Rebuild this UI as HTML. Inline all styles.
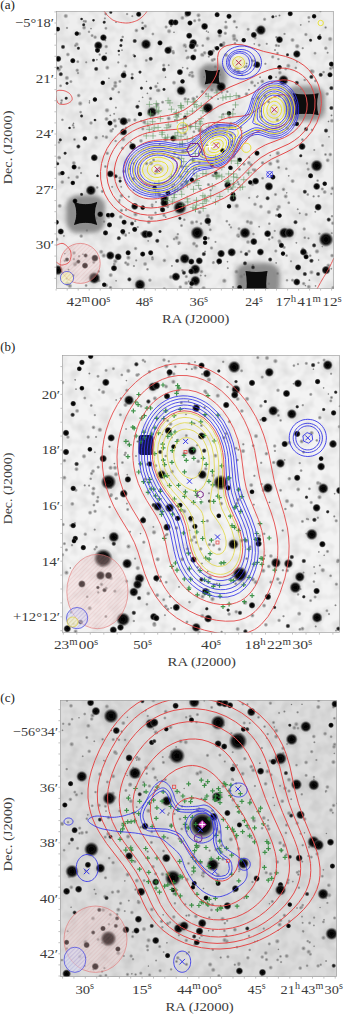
<!DOCTYPE html>
<html><head><meta charset="utf-8"><style>
html,body{margin:0;padding:0;background:#fff;width:350px;height:1018px;overflow:hidden}
svg{display:block;font-family:"Liberation Serif", serif}
</style></head><body>
<svg width="350" height="1018" viewBox="0 0 350 1018">
<defs>
<radialGradient id="sg"><stop offset="0" stop-color="#000"/><stop offset="0.55" stop-color="#0c0c0c"/><stop offset="0.72" stop-color="#333" stop-opacity="0.85"/><stop offset="1" stop-color="#777" stop-opacity="0"/></radialGradient>
<radialGradient id="sgb"><stop offset="0" stop-color="#000"/><stop offset="0.45" stop-color="#111"/><stop offset="0.7" stop-color="#444" stop-opacity="0.8"/><stop offset="1" stop-color="#888" stop-opacity="0"/></radialGradient>
<radialGradient id="sgs"><stop offset="0" stop-color="#1a1a1a"/><stop offset="0.4" stop-color="#2a2a2a"/><stop offset="0.7" stop-color="#555" stop-opacity="0.7"/><stop offset="1" stop-color="#888" stop-opacity="0"/></radialGradient>
<radialGradient id="hg"><stop offset="0" stop-color="#777"/><stop offset="0.5" stop-color="#999" stop-opacity="0.6"/><stop offset="1" stop-color="#bbb" stop-opacity="0"/></radialGradient>
<radialGradient id="fg"><stop offset="0" stop-color="#777"/><stop offset="0.5" stop-color="#999" stop-opacity="0.8"/><stop offset="1" stop-color="#bbb" stop-opacity="0"/></radialGradient>
<filter id="pb" x="0" y="0" width="100%" height="100%"><feGaussianBlur stdDeviation="0.45"/></filter>
<filter id="soft" x="-20%" y="-20%" width="140%" height="140%"><feGaussianBlur stdDeviation="0.55"/></filter>
<filter id="halo" x="-50%" y="-50%" width="200%" height="200%"><feGaussianBlur stdDeviation="2.2"/></filter>
<filter id="mottle" x="0" y="0" width="100%" height="100%">
 <feTurbulence type="fractalNoise" baseFrequency="0.09" numOctaves="2" seed="3"/>
 <feColorMatrix type="matrix" values="0 0 0 0 0  0 0 0 0 0  0 0 0 0 0  0 0 0 -0.9 0.55"/>
</filter>
<pattern id="hatchR" width="3" height="3" patternUnits="userSpaceOnUse" patternTransform="rotate(45)">
 <rect width="3" height="3" fill="#f0c8c8" fill-opacity="0.32"/><line x1="0" y1="0" x2="0" y2="3" stroke="#c06060" stroke-width="0.6" stroke-opacity="0.35"/></pattern>
<pattern id="hatchB" width="3" height="3" patternUnits="userSpaceOnUse" patternTransform="rotate(45)">
 <rect width="3" height="3" fill="#d8d8f3" fill-opacity="0.5"/><line x1="0" y1="0" x2="0" y2="3" stroke="#7070d0" stroke-width="0.7" stroke-opacity="0.6"/></pattern>
<pattern id="hatchY" width="3" height="3" patternUnits="userSpaceOnUse" patternTransform="rotate(45)">
 <rect width="3" height="3" fill="#f3f0c0" fill-opacity="0.6"/><line x1="0" y1="0" x2="0" y2="3" stroke="#d0c040" stroke-width="0.7" stroke-opacity="0.7"/></pattern>
<clipPath id="cpa"><rect x="56" y="11" width="278" height="278"/></clipPath>
<clipPath id="cpb"><rect x="62" y="355" width="278" height="278"/></clipPath>
<clipPath id="cpc"><rect x="60" y="700" width="277" height="277"/></clipPath>
</defs>
<g clip-path="url(#cpa)"><g filter="url(#pb)">
<rect x="56" y="11" width="278" height="278" fill="#eeeeee"/>
<rect x="56" y="11" width="278" height="278" filter="url(#mottle)" opacity="0.18"/>
<circle cx="181.8" cy="166.6" r="2.76" fill="url(#fg)"/><circle cx="185.5" cy="152.2" r="2.22" fill="url(#fg)"/><circle cx="107.3" cy="153.3" r="2.29" fill="url(#fg)"/><circle cx="276.4" cy="37.2" r="1.77" fill="url(#fg)"/><circle cx="81.2" cy="236.1" r="2.39" fill="url(#fg)"/><circle cx="67.6" cy="284.0" r="2.82" fill="url(#fg)"/><circle cx="237.8" cy="182.1" r="1.53" fill="url(#fg)"/><circle cx="60.2" cy="157.9" r="1.38" fill="url(#fg)"/><circle cx="108.9" cy="78.3" r="1.33" fill="url(#fg)"/><circle cx="185.0" cy="133.5" r="2.63" fill="url(#fg)"/><circle cx="200.3" cy="189.0" r="2.08" fill="url(#fg)"/><circle cx="240.2" cy="138.1" r="1.73" fill="url(#fg)"/><circle cx="333.3" cy="287.8" r="2.62" fill="url(#fg)"/><circle cx="252.8" cy="98.6" r="1.65" fill="url(#fg)"/><circle cx="136.4" cy="30.5" r="2.51" fill="url(#fg)"/><circle cx="167.3" cy="246.4" r="1.90" fill="url(#fg)"/><circle cx="322.3" cy="246.6" r="1.28" fill="url(#fg)"/><circle cx="114.3" cy="264.1" r="2.03" fill="url(#fg)"/><circle cx="328.5" cy="121.5" r="1.40" fill="url(#fg)"/><circle cx="231.0" cy="227.4" r="1.71" fill="url(#fg)"/><circle cx="80.2" cy="103.5" r="2.82" fill="url(#fg)"/><circle cx="266.7" cy="43.8" r="1.67" fill="url(#fg)"/><circle cx="84.1" cy="27.7" r="2.56" fill="url(#fg)"/><circle cx="105.4" cy="166.5" r="2.00" fill="url(#fg)"/><circle cx="109.0" cy="214.5" r="1.49" fill="url(#fg)"/><circle cx="235.0" cy="43.4" r="1.95" fill="url(#fg)"/><circle cx="115.2" cy="86.0" r="2.83" fill="url(#fg)"/><circle cx="279.3" cy="95.6" r="2.70" fill="url(#fg)"/><circle cx="114.6" cy="120.6" r="2.65" fill="url(#fg)"/><circle cx="234.4" cy="38.9" r="2.86" fill="url(#fg)"/><circle cx="115.3" cy="82.8" r="2.52" fill="url(#fg)"/><circle cx="147.4" cy="93.4" r="1.40" fill="url(#fg)"/><circle cx="81.1" cy="173.0" r="1.67" fill="url(#fg)"/><circle cx="223.2" cy="114.3" r="2.01" fill="url(#fg)"/><circle cx="322.6" cy="145.5" r="2.20" fill="url(#fg)"/><circle cx="296.9" cy="61.8" r="1.53" fill="url(#fg)"/><circle cx="308.5" cy="238.3" r="1.68" fill="url(#fg)"/><circle cx="108.8" cy="216.6" r="2.78" fill="url(#fg)"/><circle cx="110.7" cy="275.1" r="2.69" fill="url(#fg)"/><circle cx="223.8" cy="128.2" r="1.45" fill="url(#fg)"/><circle cx="66.8" cy="278.6" r="1.66" fill="url(#fg)"/><circle cx="251.9" cy="82.4" r="2.60" fill="url(#fg)"/><circle cx="221.8" cy="92.6" r="1.56" fill="url(#fg)"/><circle cx="256.3" cy="30.1" r="1.65" fill="url(#fg)"/><circle cx="211.5" cy="248.0" r="2.26" fill="url(#fg)"/><circle cx="133.9" cy="266.0" r="1.61" fill="url(#fg)"/><circle cx="60.6" cy="85.8" r="1.99" fill="url(#fg)"/><circle cx="72.8" cy="60.0" r="1.87" fill="url(#fg)"/><circle cx="215.1" cy="47.6" r="1.86" fill="url(#fg)"/><circle cx="303.7" cy="283.6" r="2.33" fill="url(#fg)"/><circle cx="248.2" cy="173.5" r="1.50" fill="url(#fg)"/><circle cx="65.8" cy="16.0" r="2.74" fill="url(#fg)"/><circle cx="250.9" cy="278.7" r="1.31" fill="url(#fg)"/><circle cx="232.9" cy="145.1" r="2.45" fill="url(#fg)"/><circle cx="144.7" cy="288.8" r="1.40" fill="url(#fg)"/><circle cx="207.8" cy="215.9" r="2.72" fill="url(#fg)"/><circle cx="260.9" cy="206.6" r="2.55" fill="url(#fg)"/><circle cx="310.4" cy="108.8" r="2.38" fill="url(#fg)"/><circle cx="306.4" cy="253.2" r="1.95" fill="url(#fg)"/><circle cx="275.8" cy="251.0" r="2.20" fill="url(#fg)"/><circle cx="229.7" cy="117.3" r="2.21" fill="url(#fg)"/><circle cx="225.3" cy="33.3" r="2.30" fill="url(#fg)"/><circle cx="332.1" cy="255.6" r="2.45" fill="url(#fg)"/><circle cx="164.0" cy="215.3" r="2.21" fill="url(#fg)"/><circle cx="178.5" cy="244.1" r="1.41" fill="url(#fg)"/><circle cx="264.6" cy="19.3" r="2.24" fill="url(#fg)"/><circle cx="189.7" cy="75.0" r="2.40" fill="url(#fg)"/><circle cx="194.2" cy="181.8" r="2.75" fill="url(#fg)"/><circle cx="127.1" cy="14.1" r="1.76" fill="url(#fg)"/><circle cx="244.5" cy="67.3" r="1.55" fill="url(#fg)"/><circle cx="307.8" cy="194.5" r="1.99" fill="url(#fg)"/><circle cx="303.9" cy="101.9" r="2.35" fill="url(#fg)"/><circle cx="111.2" cy="130.8" r="2.57" fill="url(#fg)"/><circle cx="310.2" cy="255.7" r="1.90" fill="url(#fg)"/><circle cx="218.1" cy="99.0" r="1.50" fill="url(#fg)"/><circle cx="194.0" cy="243.7" r="2.64" fill="url(#fg)"/><circle cx="253.7" cy="275.1" r="1.72" fill="url(#fg)"/><circle cx="103.0" cy="136.3" r="1.72" fill="url(#fg)"/><circle cx="115.5" cy="126.1" r="2.28" fill="url(#fg)"/><circle cx="193.3" cy="98.7" r="2.62" fill="url(#fg)"/><circle cx="329.0" cy="136.8" r="1.40" fill="url(#fg)"/><circle cx="64.8" cy="253.6" r="1.35" fill="url(#fg)"/><circle cx="253.0" cy="169.6" r="1.77" fill="url(#fg)"/><circle cx="276.0" cy="16.3" r="1.50" fill="url(#fg)"/><circle cx="182.4" cy="17.9" r="2.61" fill="url(#fg)"/><circle cx="122.0" cy="50.2" r="1.36" fill="url(#fg)"/><circle cx="230.9" cy="135.1" r="2.29" fill="url(#fg)"/><circle cx="238.1" cy="235.5" r="2.81" fill="url(#fg)"/><circle cx="246.3" cy="66.4" r="2.04" fill="url(#fg)"/><circle cx="105.7" cy="14.0" r="2.04" fill="url(#fg)"/><circle cx="254.5" cy="60.8" r="1.72" fill="url(#fg)"/><circle cx="152.1" cy="204.9" r="2.11" fill="url(#fg)"/><circle cx="226.8" cy="221.2" r="1.91" fill="url(#fg)"/><circle cx="276.2" cy="262.9" r="1.42" fill="url(#fg)"/><circle cx="315.3" cy="211.8" r="1.49" fill="url(#fg)"/><circle cx="182.1" cy="184.9" r="2.74" fill="url(#fg)"/><circle cx="160.8" cy="169.1" r="2.69" fill="url(#fg)"/><circle cx="277.5" cy="273.5" r="2.02" fill="url(#fg)"/><circle cx="237.1" cy="68.0" r="2.44" fill="url(#fg)"/><circle cx="283.5" cy="189.4" r="2.43" fill="url(#fg)"/><circle cx="115.3" cy="261.2" r="2.85" fill="url(#fg)"/><circle cx="327.7" cy="160.3" r="2.55" fill="url(#fg)"/><circle cx="145.1" cy="264.0" r="2.65" fill="url(#fg)"/><circle cx="152.9" cy="34.0" r="1.99" fill="url(#fg)"/><circle cx="209.0" cy="224.6" r="2.06" fill="url(#fg)"/><circle cx="63.9" cy="235.9" r="1.38" fill="url(#fg)"/><circle cx="278.4" cy="59.1" r="1.82" fill="url(#fg)"/><circle cx="275.0" cy="50.1" r="1.52" fill="url(#fg)"/><circle cx="199.6" cy="212.2" r="2.62" fill="url(#fg)"/><circle cx="247.6" cy="273.9" r="2.07" fill="url(#fg)"/><circle cx="319.9" cy="34.9" r="1.63" fill="url(#fg)"/><circle cx="202.4" cy="91.7" r="2.45" fill="url(#fg)"/><circle cx="233.6" cy="156.3" r="2.63" fill="url(#fg)"/><circle cx="211.7" cy="97.7" r="1.89" fill="url(#fg)"/><circle cx="291.0" cy="261.3" r="1.61" fill="url(#fg)"/><circle cx="292.5" cy="280.2" r="2.12" fill="url(#fg)"/><circle cx="215.3" cy="66.9" r="2.14" fill="url(#fg)"/><circle cx="195.9" cy="179.3" r="1.32" fill="url(#fg)"/><circle cx="325.5" cy="154.5" r="1.92" fill="url(#fg)"/><circle cx="278.7" cy="167.5" r="2.07" fill="url(#fg)"/><circle cx="248.1" cy="29.3" r="2.14" fill="url(#fg)"/><circle cx="171.0" cy="277.0" r="2.76" fill="url(#fg)"/><circle cx="130.8" cy="142.5" r="1.48" fill="url(#fg)"/><circle cx="176.6" cy="237.8" r="2.72" fill="url(#fg)"/><circle cx="188.5" cy="99.2" r="1.59" fill="url(#fg)"/><circle cx="227.8" cy="268.2" r="1.49" fill="url(#fg)"/><circle cx="272.6" cy="17.3" r="1.59" fill="url(#fg)"/><circle cx="119.2" cy="202.0" r="1.80" fill="url(#fg)"/><circle cx="154.8" cy="183.3" r="1.45" fill="url(#fg)"/><circle cx="259.2" cy="45.1" r="2.10" fill="url(#fg)"/><circle cx="125.7" cy="66.0" r="2.13" fill="url(#fg)"/><circle cx="177.4" cy="115.5" r="1.94" fill="url(#fg)"/><circle cx="203.2" cy="55.4" r="1.61" fill="url(#fg)"/><circle cx="231.5" cy="188.5" r="2.13" fill="url(#fg)"/><circle cx="292.6" cy="181.1" r="2.65" fill="url(#fg)"/><circle cx="120.7" cy="216.9" r="2.58" fill="url(#fg)"/><circle cx="306.9" cy="98.8" r="1.78" fill="url(#fg)"/><circle cx="312.5" cy="71.6" r="2.88" fill="url(#fg)"/><circle cx="302.7" cy="48.2" r="1.66" fill="url(#fg)"/><circle cx="258.0" cy="83.1" r="1.44" fill="url(#fg)"/><circle cx="287.3" cy="128.2" r="2.54" fill="url(#fg)"/><circle cx="91.0" cy="123.0" r="2.38" fill="url(#fg)"/><circle cx="60.9" cy="66.9" r="2.37" fill="url(#fg)"/><circle cx="309.4" cy="280.2" r="1.46" fill="url(#fg)"/><circle cx="196.6" cy="221.8" r="2.08" fill="url(#fg)"/><circle cx="246.6" cy="63.5" r="1.39" fill="url(#fg)"/><circle cx="85.5" cy="21.4" r="2.16" fill="url(#fg)"/><circle cx="199.1" cy="169.1" r="1.51" fill="url(#fg)"/><circle cx="107.3" cy="67.7" r="2.62" fill="url(#fg)"/><circle cx="331.3" cy="268.7" r="1.43" fill="url(#fg)"/><circle cx="73.2" cy="275.5" r="2.02" fill="url(#fg)"/><circle cx="268.6" cy="101.9" r="2.03" fill="url(#fg)"/><circle cx="199.2" cy="130.6" r="2.24" fill="url(#fg)"/><circle cx="59.7" cy="205.9" r="2.63" fill="url(#fg)"/><circle cx="106.4" cy="137.2" r="2.46" fill="url(#fg)"/><circle cx="168.7" cy="65.2" r="1.54" fill="url(#fg)"/><circle cx="198.5" cy="15.3" r="2.71" fill="url(#fg)"/><circle cx="278.9" cy="206.9" r="2.66" fill="url(#fg)"/><circle cx="231.0" cy="123.5" r="2.24" fill="url(#fg)"/><circle cx="196.2" cy="284.2" r="2.57" fill="url(#fg)"/><circle cx="127.8" cy="264.3" r="2.47" fill="url(#fg)"/><circle cx="272.3" cy="237.5" r="1.93" fill="url(#fg)"/><circle cx="305.2" cy="255.6" r="2.39" fill="url(#fg)"/><circle cx="269.3" cy="223.7" r="1.93" fill="url(#fg)"/><circle cx="256.9" cy="30.6" r="1.83" fill="url(#fg)"/><circle cx="186.3" cy="13.9" r="1.85" fill="url(#fg)"/><circle cx="233.6" cy="184.5" r="1.65" fill="url(#fg)"/><circle cx="318.6" cy="196.2" r="1.82" fill="url(#fg)"/><circle cx="239.4" cy="169.3" r="2.13" fill="url(#fg)"/><circle cx="164.3" cy="289.0" r="2.31" fill="url(#fg)"/><circle cx="250.9" cy="222.8" r="2.85" fill="url(#fg)"/><circle cx="62.3" cy="182.1" r="2.46" fill="url(#fg)"/><circle cx="127.3" cy="122.6" r="1.36" fill="url(#fg)"/><circle cx="110.3" cy="115.4" r="1.44" fill="url(#fg)"/><circle cx="125.7" cy="262.8" r="2.16" fill="url(#fg)"/><circle cx="197.2" cy="279.9" r="2.19" fill="url(#fg)"/><circle cx="332.6" cy="188.4" r="2.58" fill="url(#fg)"/><circle cx="77.2" cy="177.1" r="2.49" fill="url(#fg)"/><circle cx="68.5" cy="269.6" r="1.54" fill="url(#fg)"/><circle cx="187.1" cy="58.0" r="2.07" fill="url(#fg)"/><circle cx="225.9" cy="27.3" r="2.79" fill="url(#fg)"/><circle cx="173.0" cy="157.4" r="2.24" fill="url(#fg)"/><circle cx="157.6" cy="90.4" r="2.33" fill="url(#fg)"/><circle cx="211.9" cy="89.8" r="2.43" fill="url(#fg)"/><circle cx="138.3" cy="14.9" r="1.67" fill="url(#fg)"/><circle cx="67.9" cy="54.5" r="2.49" fill="url(#fg)"/><circle cx="164.4" cy="260.5" r="2.48" fill="url(#fg)"/><circle cx="69.9" cy="285.9" r="2.79" fill="url(#fg)"/><circle cx="76.4" cy="262.7" r="1.97" fill="url(#fg)"/><circle cx="188.8" cy="281.5" r="1.67" fill="url(#fg)"/><circle cx="201.5" cy="271.6" r="2.44" fill="url(#fg)"/><circle cx="186.2" cy="283.1" r="2.59" fill="url(#fg)"/><circle cx="223.8" cy="43.0" r="2.28" fill="url(#fg)"/><circle cx="182.7" cy="67.6" r="1.36" fill="url(#fg)"/><circle cx="202.8" cy="45.6" r="1.99" fill="url(#fg)"/><circle cx="241.7" cy="137.6" r="1.70" fill="url(#fg)"/><circle cx="217.9" cy="127.6" r="2.52" fill="url(#fg)"/><circle cx="203.6" cy="288.3" r="2.80" fill="url(#fg)"/><circle cx="260.1" cy="77.3" r="1.46" fill="url(#fg)"/><circle cx="304.2" cy="229.0" r="2.28" fill="url(#fg)"/><circle cx="155.9" cy="86.5" r="2.38" fill="url(#fg)"/><circle cx="213.0" cy="175.5" r="2.29" fill="url(#fg)"/><circle cx="265.4" cy="63.8" r="1.68" fill="url(#fg)"/><circle cx="328.4" cy="265.6" r="2.69" fill="url(#fg)"/><circle cx="67.0" cy="27.9" r="1.71" fill="url(#fg)"/><circle cx="174.2" cy="184.3" r="1.44" fill="url(#fg)"/><circle cx="206.6" cy="31.2" r="1.42" fill="url(#fg)"/><circle cx="244.0" cy="164.1" r="2.29" fill="url(#fg)"/><circle cx="159.7" cy="144.0" r="1.62" fill="url(#fg)"/><circle cx="151.5" cy="218.1" r="2.62" fill="url(#fg)"/><circle cx="76.7" cy="44.3" r="2.57" fill="url(#fg)"/><circle cx="229.4" cy="224.7" r="1.62" fill="url(#fg)"/><circle cx="174.0" cy="82.7" r="2.58" fill="url(#fg)"/><circle cx="158.6" cy="192.7" r="2.86" fill="url(#fg)"/><circle cx="146.5" cy="163.5" r="2.47" fill="url(#fg)"/><circle cx="312.0" cy="129.9" r="1.87" fill="url(#fg)"/><circle cx="83.0" cy="254.3" r="1.41" fill="url(#fg)"/><circle cx="79.1" cy="167.9" r="2.06" fill="url(#fg)"/><circle cx="246.5" cy="94.1" r="2.52" fill="url(#fg)"/><circle cx="77.2" cy="70.3" r="2.34" fill="url(#fg)"/><circle cx="78.7" cy="95.5" r="2.44" fill="url(#fg)"/><circle cx="248.9" cy="89.7" r="1.51" fill="url(#fg)"/><circle cx="155.5" cy="212.8" r="1.87" fill="url(#fg)"/><circle cx="88.6" cy="208.2" r="2.19" fill="url(#fg)"/><circle cx="311.4" cy="272.3" r="2.74" fill="url(#fg)"/><circle cx="177.8" cy="234.2" r="1.77" fill="url(#fg)"/><circle cx="144.3" cy="122.1" r="2.78" fill="url(#fg)"/><circle cx="304.7" cy="80.0" r="1.86" fill="url(#fg)"/><circle cx="157.6" cy="112.0" r="1.91" fill="url(#fg)"/><circle cx="163.7" cy="65.2" r="2.18" fill="url(#fg)"/><circle cx="277.6" cy="161.3" r="2.62" fill="url(#fg)"/><circle cx="212.5" cy="60.1" r="2.49" fill="url(#fg)"/><circle cx="300.9" cy="89.2" r="1.32" fill="url(#fg)"/><circle cx="199.3" cy="162.3" r="2.19" fill="url(#fg)"/><circle cx="324.7" cy="192.0" r="2.57" fill="url(#fg)"/><circle cx="73.8" cy="163.0" r="2.54" fill="url(#fg)"/><circle cx="79.4" cy="33.7" r="2.46" fill="url(#fg)"/><circle cx="305.9" cy="34.5" r="2.29" fill="url(#fg)"/><circle cx="96.0" cy="218.3" r="2.32" fill="url(#fg)"/><circle cx="124.2" cy="72.3" r="2.50" fill="url(#fg)"/><circle cx="201.0" cy="223.6" r="1.91" fill="url(#fg)"/><circle cx="149.9" cy="280.2" r="2.36" fill="url(#fg)"/><circle cx="193.2" cy="160.4" r="2.43" fill="url(#fg)"/><circle cx="252.9" cy="265.4" r="1.94" fill="url(#fg)"/><circle cx="285.7" cy="196.4" r="2.65" fill="url(#fg)"/><circle cx="280.0" cy="242.8" r="2.70" fill="url(#fg)"/><circle cx="322.3" cy="189.0" r="2.12" fill="url(#fg)"/><circle cx="253.4" cy="234.0" r="1.95" fill="url(#fg)"/><circle cx="172.9" cy="51.6" r="2.47" fill="url(#fg)"/><circle cx="331.5" cy="115.4" r="1.55" fill="url(#fg)"/><circle cx="112.8" cy="129.1" r="1.75" fill="url(#fg)"/><circle cx="325.6" cy="27.5" r="1.77" fill="url(#fg)"/><circle cx="87.9" cy="191.1" r="2.52" fill="url(#fg)"/><circle cx="105.9" cy="28.3" r="2.01" fill="url(#fg)"/><circle cx="218.4" cy="263.8" r="1.34" fill="url(#fg)"/><circle cx="86.2" cy="62.3" r="1.63" fill="url(#fg)"/><circle cx="121.4" cy="210.4" r="2.23" fill="url(#fg)"/><circle cx="118.3" cy="62.4" r="1.73" fill="url(#fg)"/><circle cx="104.0" cy="221.6" r="1.78" fill="url(#fg)"/><circle cx="208.4" cy="238.2" r="2.05" fill="url(#fg)"/><circle cx="128.4" cy="257.7" r="2.74" fill="url(#fg)"/><circle cx="151.1" cy="163.2" r="2.81" fill="url(#fg)"/><circle cx="190.2" cy="72.4" r="1.36" fill="url(#fg)"/><circle cx="319.4" cy="233.8" r="1.90" fill="url(#fg)"/><circle cx="202.7" cy="154.4" r="1.72" fill="url(#fg)"/><circle cx="331.3" cy="193.8" r="1.66" fill="url(#fg)"/><circle cx="59.0" cy="142.4" r="1.87" fill="url(#fg)"/><circle cx="277.5" cy="209.3" r="2.25" fill="url(#fg)"/><circle cx="99.7" cy="54.6" r="1.79" fill="url(#fg)"/><circle cx="128.1" cy="252.7" r="2.11" fill="url(#fg)"/><circle cx="233.1" cy="287.1" r="1.71" fill="url(#fg)"/><circle cx="204.6" cy="52.9" r="2.51" fill="url(#fg)"/><circle cx="56.4" cy="239.4" r="2.63" fill="url(#fg)"/><circle cx="284.5" cy="33.9" r="1.71" fill="url(#fg)"/><circle cx="255.2" cy="38.0" r="2.05" fill="url(#fg)"/><circle cx="186.3" cy="276.6" r="2.22" fill="url(#fg)"/><circle cx="294.3" cy="95.4" r="2.54" fill="url(#fg)"/><circle cx="171.9" cy="265.9" r="1.43" fill="url(#fg)"/><circle cx="285.7" cy="68.9" r="2.15" fill="url(#fg)"/><circle cx="202.1" cy="54.8" r="2.61" fill="url(#fg)"/><circle cx="142.6" cy="97.4" r="1.40" fill="url(#fg)"/><circle cx="141.0" cy="140.9" r="2.42" fill="url(#fg)"/><circle cx="156.0" cy="202.0" r="1.45" fill="url(#fg)"/><circle cx="165.6" cy="139.4" r="2.83" fill="url(#fg)"/><circle cx="286.7" cy="192.8" r="1.30" fill="url(#fg)"/><circle cx="160.8" cy="208.4" r="1.66" fill="url(#fg)"/><circle cx="212.8" cy="138.3" r="1.30" fill="url(#fg)"/><circle cx="331.7" cy="233.2" r="1.61" fill="url(#fg)"/><circle cx="227.3" cy="91.7" r="1.88" fill="url(#fg)"/><circle cx="206.1" cy="93.9" r="1.82" fill="url(#fg)"/><circle cx="165.0" cy="196.3" r="1.69" fill="url(#fg)"/><circle cx="111.6" cy="214.3" r="1.81" fill="url(#fg)"/><circle cx="318.7" cy="167.5" r="2.44" fill="url(#fg)"/><circle cx="148.2" cy="240.9" r="1.43" fill="url(#fg)"/><circle cx="95.1" cy="37.2" r="2.36" fill="url(#fg)"/><circle cx="252.9" cy="61.0" r="1.92" fill="url(#fg)"/><circle cx="288.7" cy="175.8" r="1.42" fill="url(#fg)"/><circle cx="119.0" cy="54.7" r="1.48" fill="url(#fg)"/><circle cx="169.1" cy="31.2" r="2.75" fill="url(#fg)"/><circle cx="174.7" cy="153.2" r="2.32" fill="url(#fg)"/><circle cx="269.2" cy="239.3" r="1.90" fill="url(#fg)"/><circle cx="148.1" cy="125.6" r="1.30" fill="url(#fg)"/><circle cx="167.4" cy="205.6" r="2.85" fill="url(#fg)"/><circle cx="275.5" cy="194.5" r="2.25" fill="url(#fg)"/><circle cx="61.2" cy="103.0" r="1.83" fill="url(#fg)"/><circle cx="236.9" cy="40.5" r="1.88" fill="url(#fg)"/><circle cx="197.6" cy="230.2" r="2.60" fill="url(#fg)"/><circle cx="226.0" cy="55.0" r="2.51" fill="url(#fg)"/><circle cx="307.0" cy="163.4" r="1.84" fill="url(#fg)"/><circle cx="195.1" cy="50.4" r="2.42" fill="url(#fg)"/><circle cx="330.3" cy="154.5" r="2.42" fill="url(#fg)"/><circle cx="288.3" cy="65.8" r="2.79" fill="url(#fg)"/><circle cx="230.3" cy="66.0" r="1.41" fill="url(#fg)"/><circle cx="124.0" cy="171.3" r="2.40" fill="url(#fg)"/><circle cx="147.5" cy="269.3" r="1.86" fill="url(#fg)"/><circle cx="184.7" cy="45.5" r="2.84" fill="url(#fg)"/><circle cx="93.7" cy="262.3" r="2.15" fill="url(#fg)"/><circle cx="211.9" cy="166.8" r="1.70" fill="url(#fg)"/><circle cx="308.8" cy="286.8" r="2.59" fill="url(#fg)"/><circle cx="223.2" cy="45.1" r="2.60" fill="url(#fg)"/><circle cx="136.2" cy="260.4" r="1.67" fill="url(#fg)"/><circle cx="215.5" cy="241.9" r="1.58" fill="url(#fg)"/><circle cx="208.3" cy="32.2" r="1.33" fill="url(#fg)"/><circle cx="106.1" cy="285.4" r="2.78" fill="url(#fg)"/><circle cx="239.0" cy="96.5" r="2.35" fill="url(#fg)"/><circle cx="261.1" cy="117.1" r="2.23" fill="url(#fg)"/><circle cx="279.5" cy="15.5" r="1.60" fill="url(#fg)"/><circle cx="186.1" cy="50.8" r="1.90" fill="url(#fg)"/><circle cx="214.3" cy="59.3" r="2.11" fill="url(#fg)"/><circle cx="129.3" cy="168.9" r="1.81" fill="url(#fg)"/><circle cx="234.4" cy="21.5" r="2.35" fill="url(#fg)"/><circle cx="96.2" cy="277.7" r="2.24" fill="url(#fg)"/><circle cx="186.6" cy="125.4" r="2.28" fill="url(#fg)"/><circle cx="247.6" cy="221.7" r="2.48" fill="url(#fg)"/><circle cx="191.0" cy="287.5" r="2.62" fill="url(#fg)"/><circle cx="293.7" cy="124.7" r="1.97" fill="url(#fg)"/><circle cx="213.3" cy="262.7" r="2.12" fill="url(#fg)"/><circle cx="202.0" cy="131.2" r="2.73" fill="url(#fg)"/><circle cx="145.2" cy="26.2" r="2.44" fill="url(#fg)"/><circle cx="306.2" cy="214.5" r="2.24" fill="url(#fg)"/><circle cx="265.0" cy="95.7" r="2.23" fill="url(#fg)"/><circle cx="75.4" cy="45.6" r="2.00" fill="url(#fg)"/><circle cx="195.7" cy="121.3" r="1.36" fill="url(#fg)"/><circle cx="249.2" cy="157.3" r="1.66" fill="url(#fg)"/><circle cx="141.2" cy="121.0" r="1.66" fill="url(#fg)"/><circle cx="75.0" cy="264.3" r="2.83" fill="url(#fg)"/><circle cx="241.1" cy="251.9" r="1.95" fill="url(#fg)"/><circle cx="279.9" cy="72.7" r="2.47" fill="url(#fg)"/><circle cx="213.6" cy="262.1" r="1.44" fill="url(#fg)"/><circle cx="276.3" cy="45.4" r="2.14" fill="url(#fg)"/><circle cx="320.4" cy="11.2" r="1.67" fill="url(#fg)"/><circle cx="139.2" cy="101.3" r="1.38" fill="url(#fg)"/><circle cx="304.8" cy="237.7" r="1.92" fill="url(#fg)"/><circle cx="155.1" cy="173.8" r="1.35" fill="url(#fg)"/><circle cx="64.7" cy="260.8" r="1.77" fill="url(#fg)"/><circle cx="194.6" cy="270.6" r="2.84" fill="url(#fg)"/><circle cx="187.4" cy="68.4" r="1.75" fill="url(#fg)"/><circle cx="312.5" cy="260.3" r="1.59" fill="url(#fg)"/><circle cx="288.9" cy="109.5" r="2.04" fill="url(#fg)"/><circle cx="103.8" cy="255.6" r="2.87" fill="url(#fg)"/><circle cx="112.2" cy="186.8" r="1.59" fill="url(#fg)"/><circle cx="300.7" cy="24.9" r="1.45" fill="url(#fg)"/><circle cx="257.8" cy="98.0" r="2.72" fill="url(#fg)"/><circle cx="297.7" cy="209.3" r="1.50" fill="url(#fg)"/><circle cx="249.5" cy="271.7" r="1.99" fill="url(#fg)"/><circle cx="78.0" cy="73.1" r="1.77" fill="url(#fg)"/><circle cx="253.5" cy="65.6" r="1.57" fill="url(#fg)"/><circle cx="121.5" cy="195.8" r="2.54" fill="url(#fg)"/><circle cx="159.6" cy="195.0" r="2.70" fill="url(#fg)"/><circle cx="220.0" cy="74.7" r="1.76" fill="url(#fg)"/><circle cx="313.6" cy="196.4" r="1.72" fill="url(#fg)"/><circle cx="233.9" cy="36.0" r="2.85" fill="url(#fg)"/><circle cx="178.4" cy="157.9" r="2.13" fill="url(#fg)"/><circle cx="68.6" cy="177.7" r="1.74" fill="url(#fg)"/><circle cx="125.8" cy="234.3" r="1.42" fill="url(#fg)"/><circle cx="135.3" cy="221.1" r="1.67" fill="url(#fg)"/><circle cx="133.6" cy="163.4" r="1.58" fill="url(#fg)"/><circle cx="305.4" cy="285.6" r="1.33" fill="url(#fg)"/><circle cx="184.3" cy="219.7" r="1.90" fill="url(#fg)"/><circle cx="314.3" cy="150.0" r="1.57" fill="url(#fg)"/><circle cx="210.6" cy="190.3" r="1.86" fill="url(#fg)"/><circle cx="239.0" cy="228.7" r="2.11" fill="url(#fg)"/><circle cx="196.6" cy="246.0" r="2.37" fill="url(#fg)"/><circle cx="200.7" cy="275.5" r="1.56" fill="url(#fg)"/><circle cx="272.7" cy="56.9" r="2.25" fill="url(#fg)"/><circle cx="121.4" cy="133.4" r="2.52" fill="url(#fg)"/><circle cx="274.7" cy="230.9" r="1.66" fill="url(#fg)"/><circle cx="192.0" cy="72.5" r="2.21" fill="url(#fg)"/><circle cx="194.7" cy="20.8" r="2.23" fill="url(#fg)"/><circle cx="254.7" cy="170.2" r="2.68" fill="url(#fg)"/><circle cx="106.1" cy="53.2" r="1.31" fill="url(#fg)"/><circle cx="193.9" cy="131.8" r="1.99" fill="url(#fg)"/><circle cx="129.1" cy="233.0" r="1.40" fill="url(#fg)"/><circle cx="308.2" cy="169.2" r="2.15" fill="url(#fg)"/><circle cx="276.1" cy="77.2" r="1.51" fill="url(#fg)"/><circle cx="142.5" cy="22.8" r="1.78" fill="url(#fg)"/><circle cx="228.7" cy="157.1" r="1.70" fill="url(#fg)"/><circle cx="219.7" cy="35.6" r="2.59" fill="url(#fg)"/><circle cx="103.7" cy="81.8" r="1.54" fill="url(#fg)"/><circle cx="248.0" cy="242.0" r="2.54" fill="url(#fg)"/><circle cx="73.0" cy="125.2" r="1.86" fill="url(#fg)"/><circle cx="116.1" cy="280.8" r="1.35" fill="url(#fg)"/><circle cx="192.1" cy="222.6" r="2.86" fill="url(#fg)"/><circle cx="96.2" cy="137.6" r="2.47" fill="url(#fg)"/><circle cx="66.9" cy="77.9" r="2.70" fill="url(#fg)"/><circle cx="95.4" cy="120.2" r="1.76" fill="url(#fg)"/><circle cx="174.0" cy="32.3" r="1.33" fill="url(#fg)"/><circle cx="332.9" cy="223.2" r="2.45" fill="url(#fg)"/><circle cx="119.9" cy="81.4" r="2.16" fill="url(#fg)"/><circle cx="123.2" cy="139.3" r="2.77" fill="url(#fg)"/><circle cx="157.2" cy="104.7" r="2.85" fill="url(#fg)"/><circle cx="225.8" cy="22.0" r="1.92" fill="url(#fg)"/><circle cx="236.6" cy="27.3" r="1.83" fill="url(#fg)"/><circle cx="249.1" cy="251.3" r="2.23" fill="url(#fg)"/><circle cx="302.4" cy="139.6" r="1.91" fill="url(#fg)"/><circle cx="290.4" cy="117.0" r="2.53" fill="url(#fg)"/><circle cx="115.9" cy="107.6" r="1.57" fill="url(#fg)"/><circle cx="208.8" cy="56.6" r="1.61" fill="url(#fg)"/><circle cx="115.6" cy="141.0" r="1.77" fill="url(#fg)"/><circle cx="180.3" cy="287.1" r="2.37" fill="url(#fg)"/><circle cx="295.8" cy="67.9" r="1.89" fill="url(#fg)"/><circle cx="76.2" cy="203.2" r="1.86" fill="url(#fg)"/><circle cx="132.3" cy="16.2" r="1.57" fill="url(#fg)"/><circle cx="128.9" cy="120.2" r="2.76" fill="url(#fg)"/><circle cx="254.8" cy="85.7" r="1.86" fill="url(#fg)"/><circle cx="98.7" cy="271.4" r="1.86" fill="url(#fg)"/><circle cx="268.9" cy="212.1" r="2.73" fill="url(#fg)"/><circle cx="61.7" cy="100.5" r="1.90" fill="url(#fg)"/><circle cx="79.1" cy="256.3" r="1.80" fill="url(#fg)"/><circle cx="270.3" cy="155.4" r="1.37" fill="url(#fg)"/><circle cx="165.5" cy="77.2" r="1.35" fill="url(#fg)"/><circle cx="97.9" cy="176.5" r="1.33" fill="url(#fg)"/><circle cx="142.8" cy="128.9" r="2.15" fill="url(#fg)"/><circle cx="93.8" cy="207.4" r="1.70" fill="url(#fg)"/><circle cx="257.7" cy="196.2" r="1.52" fill="url(#fg)"/><circle cx="112.9" cy="88.9" r="2.42" fill="url(#fg)"/><circle cx="168.7" cy="118.4" r="2.67" fill="url(#fg)"/><circle cx="118.8" cy="92.2" r="1.83" fill="url(#fg)"/><circle cx="116.0" cy="22.3" r="1.32" fill="url(#fg)"/><circle cx="231.2" cy="168.3" r="2.57" fill="url(#fg)"/><circle cx="327.2" cy="93.9" r="2.35" fill="url(#fg)"/><circle cx="311.5" cy="71.1" r="2.38" fill="url(#fg)"/><circle cx="241.3" cy="276.5" r="2.67" fill="url(#fg)"/><circle cx="121.2" cy="186.8" r="1.42" fill="url(#fg)"/><circle cx="174.9" cy="120.1" r="1.38" fill="url(#fg)"/><circle cx="162.6" cy="102.2" r="2.08" fill="url(#fg)"/><circle cx="133.8" cy="55.1" r="1.92" fill="url(#fg)"/><circle cx="188.1" cy="57.3" r="2.34" fill="url(#fg)"/><circle cx="122.7" cy="36.9" r="1.83" fill="url(#fg)"/><circle cx="173.4" cy="52.9" r="2.21" fill="url(#fg)"/><circle cx="251.0" cy="164.8" r="2.40" fill="url(#fg)"/><circle cx="62.4" cy="119.8" r="1.86" fill="url(#fg)"/><circle cx="73.5" cy="123.4" r="1.37" fill="url(#fg)"/><circle cx="193.8" cy="173.9" r="2.03" fill="url(#fg)"/><circle cx="146.5" cy="81.4" r="1.32" fill="url(#fg)"/><circle cx="152.5" cy="258.9" r="2.19" fill="url(#fg)"/><circle cx="128.8" cy="196.7" r="1.58" fill="url(#fg)"/><circle cx="186.5" cy="182.0" r="2.81" fill="url(#fg)"/><circle cx="156.8" cy="171.2" r="2.79" fill="url(#fg)"/><circle cx="270.5" cy="185.4" r="2.27" fill="url(#fg)"/><circle cx="170.2" cy="126.5" r="1.72" fill="url(#fg)"/><circle cx="286.6" cy="255.6" r="1.89" fill="url(#fg)"/><circle cx="308.9" cy="21.6" r="1.50" fill="url(#fg)"/><circle cx="197.0" cy="96.8" r="1.86" fill="url(#fg)"/><circle cx="327.6" cy="52.7" r="1.59" fill="url(#fg)"/><circle cx="119.5" cy="200.1" r="1.66" fill="url(#fg)"/><circle cx="56.3" cy="162.2" r="1.91" fill="url(#fg)"/><circle cx="122.5" cy="148.2" r="2.32" fill="url(#fg)"/><circle cx="208.4" cy="184.6" r="2.18" fill="url(#fg)"/><circle cx="287.0" cy="280.3" r="1.81" fill="url(#fg)"/><circle cx="152.4" cy="257.4" r="1.78" fill="url(#fg)"/><circle cx="255.0" cy="204.3" r="2.38" fill="url(#fg)"/><circle cx="324.0" cy="240.2" r="1.54" fill="url(#fg)"/><circle cx="228.8" cy="147.4" r="2.18" fill="url(#fg)"/><circle cx="158.7" cy="90.4" r="2.48" fill="url(#fg)"/><circle cx="204.4" cy="76.9" r="1.68" fill="url(#fg)"/><circle cx="146.3" cy="60.4" r="2.10" fill="url(#fg)"/><circle cx="91.0" cy="28.6" r="1.39" fill="url(#fg)"/><circle cx="84.4" cy="206.9" r="1.46" fill="url(#fg)"/><circle cx="181.5" cy="225.6" r="2.05" fill="url(#fg)"/><circle cx="101.2" cy="251.8" r="2.67" fill="url(#fg)"/><circle cx="70.9" cy="81.6" r="2.09" fill="url(#fg)"/><circle cx="277.4" cy="120.1" r="2.43" fill="url(#fg)"/><circle cx="126.0" cy="210.0" r="1.80" fill="url(#fg)"/><circle cx="148.8" cy="222.1" r="2.63" fill="url(#fg)"/><circle cx="286.3" cy="168.8" r="1.95" fill="url(#fg)"/><circle cx="252.5" cy="184.2" r="2.61" fill="url(#fg)"/><circle cx="278.7" cy="45.8" r="1.88" fill="url(#fg)"/><circle cx="242.1" cy="75.2" r="1.58" fill="url(#fg)"/><circle cx="59.8" cy="173.8" r="2.79" fill="url(#fg)"/><circle cx="325.8" cy="48.2" r="2.38" fill="url(#fg)"/><circle cx="172.6" cy="186.5" r="1.91" fill="url(#fg)"/><circle cx="315.5" cy="285.9" r="1.36" fill="url(#fg)"/><circle cx="254.3" cy="43.9" r="1.35" fill="url(#fg)"/><circle cx="135.5" cy="214.3" r="2.87" fill="url(#fg)"/><circle cx="89.4" cy="102.8" r="1.32" fill="url(#fg)"/><circle cx="206.8" cy="145.3" r="1.88" fill="url(#fg)"/><circle cx="142.0" cy="233.5" r="2.62" fill="url(#fg)"/><circle cx="134.9" cy="119.9" r="2.27" fill="url(#fg)"/><circle cx="268.8" cy="283.7" r="1.90" fill="url(#fg)"/><circle cx="248.9" cy="162.8" r="2.56" fill="url(#fg)"/><circle cx="96.8" cy="59.7" r="1.45" fill="url(#fg)"/><circle cx="315.5" cy="80.9" r="2.06" fill="url(#fg)"/><circle cx="89.5" cy="101.0" r="1.31" fill="url(#fg)"/><circle cx="213.3" cy="50.9" r="2.28" fill="url(#fg)"/><circle cx="132.2" cy="74.3" r="2.05" fill="url(#fg)"/><circle cx="157.7" cy="83.2" r="1.36" fill="url(#fg)"/><circle cx="73.9" cy="259.2" r="1.77" fill="url(#fg)"/><circle cx="77.8" cy="61.7" r="2.05" fill="url(#fg)"/><circle cx="333.2" cy="67.2" r="2.67" fill="url(#fg)"/><circle cx="190.6" cy="126.3" r="2.57" fill="url(#fg)"/><circle cx="166.1" cy="27.0" r="2.16" fill="url(#fg)"/><circle cx="238.6" cy="184.2" r="1.72" fill="url(#fg)"/><circle cx="317.0" cy="251.4" r="2.87" fill="url(#fg)"/><circle cx="179.2" cy="242.8" r="2.44" fill="url(#fg)"/><circle cx="104.9" cy="18.4" r="1.55" fill="url(#fg)"/><circle cx="89.0" cy="31.8" r="1.85" fill="url(#fg)"/><circle cx="265.5" cy="97.2" r="2.10" fill="url(#fg)"/><circle cx="58.9" cy="69.4" r="2.81" fill="url(#fg)"/><circle cx="59.1" cy="157.6" r="2.58" fill="url(#fg)"/><circle cx="276.3" cy="215.4" r="1.92" fill="url(#fg)"/><circle cx="279.3" cy="241.1" r="2.51" fill="url(#fg)"/><circle cx="330.1" cy="39.0" r="2.80" fill="url(#fg)"/><circle cx="167.8" cy="207.1" r="1.68" fill="url(#fg)"/><circle cx="308.9" cy="17.5" r="2.20" fill="url(#fg)"/><circle cx="119.2" cy="119.0" r="1.87" fill="url(#fg)"/><circle cx="238.6" cy="236.4" r="1.86" fill="url(#fg)"/><circle cx="233.4" cy="109.4" r="1.73" fill="url(#fg)"/><circle cx="307.6" cy="100.4" r="1.43" fill="url(#fg)"/><circle cx="149.1" cy="217.2" r="1.62" fill="url(#fg)"/><circle cx="262.6" cy="162.9" r="2.37" fill="url(#fg)"/><circle cx="105.3" cy="40.4" r="1.51" fill="url(#fg)"/><circle cx="153.4" cy="130.7" r="1.30" fill="url(#fg)"/><circle cx="195.7" cy="123.1" r="1.79" fill="url(#fg)"/><circle cx="205.3" cy="275.7" r="1.61" fill="url(#fg)"/><circle cx="300.8" cy="100.2" r="2.49" fill="url(#fg)"/><circle cx="86.1" cy="285.5" r="1.97" fill="url(#fg)"/><circle cx="323.6" cy="72.1" r="1.93" fill="url(#fg)"/><circle cx="252.3" cy="60.4" r="1.72" fill="url(#fg)"/><circle cx="244.3" cy="274.5" r="1.80" fill="url(#fg)"/><circle cx="107.0" cy="110.3" r="2.86" fill="url(#fg)"/><circle cx="97.2" cy="187.5" r="1.88" fill="url(#fg)"/><circle cx="235.0" cy="70.0" r="2.27" fill="url(#fg)"/><circle cx="302.8" cy="249.1" r="2.29" fill="url(#fg)"/><circle cx="196.3" cy="168.8" r="1.46" fill="url(#fg)"/><circle cx="288.8" cy="202.8" r="2.01" fill="url(#fg)"/><circle cx="241.0" cy="127.6" r="1.90" fill="url(#fg)"/><circle cx="119.9" cy="178.0" r="2.20" fill="url(#fg)"/><circle cx="199.2" cy="20.0" r="2.28" fill="url(#fg)"/><circle cx="180.2" cy="176.0" r="2.23" fill="url(#fg)"/><circle cx="315.0" cy="53.2" r="2.03" fill="url(#fg)"/><circle cx="332.0" cy="216.2" r="1.78" fill="url(#fg)"/><circle cx="260.8" cy="286.1" r="1.92" fill="url(#fg)"/><circle cx="297.2" cy="46.2" r="2.86" fill="url(#fg)"/><circle cx="192.5" cy="76.1" r="2.62" fill="url(#fg)"/><circle cx="236.5" cy="271.7" r="2.61" fill="url(#fg)"/><circle cx="277.8" cy="153.2" r="2.87" fill="url(#fg)"/><circle cx="74.0" cy="252.9" r="2.42" fill="url(#fg)"/><circle cx="125.7" cy="235.4" r="2.01" fill="url(#fg)"/><circle cx="205.1" cy="251.6" r="1.59" fill="url(#fg)"/><circle cx="133.7" cy="190.0" r="1.40" fill="url(#fg)"/><circle cx="210.3" cy="229.8" r="2.07" fill="url(#fg)"/><circle cx="123.2" cy="233.4" r="2.65" fill="url(#fg)"/><circle cx="270.3" cy="163.7" r="2.73" fill="url(#fg)"/><circle cx="277.5" cy="53.2" r="1.87" fill="url(#fg)"/><circle cx="83.9" cy="21.2" r="1.83" fill="url(#fg)"/><circle cx="296.4" cy="242.8" r="1.47" fill="url(#fg)"/><circle cx="106.5" cy="119.0" r="2.64" fill="url(#fg)"/><circle cx="227.5" cy="261.7" r="1.40" fill="url(#fg)"/><circle cx="330.6" cy="68.5" r="2.29" fill="url(#fg)"/><circle cx="299.7" cy="213.3" r="1.60" fill="url(#fg)"/><circle cx="241.8" cy="130.8" r="1.30" fill="url(#fg)"/><circle cx="150.4" cy="98.7" r="2.29" fill="url(#fg)"/><circle cx="133.4" cy="178.7" r="2.39" fill="url(#fg)"/><circle cx="106.2" cy="46.6" r="2.39" fill="url(#fg)"/><circle cx="185.7" cy="46.9" r="1.47" fill="url(#fg)"/><circle cx="317.6" cy="180.6" r="1.85" fill="url(#fg)"/><circle cx="110.5" cy="287.6" r="2.39" fill="url(#fg)"/><circle cx="260.7" cy="111.2" r="1.78" fill="url(#fg)"/><circle cx="169.5" cy="51.7" r="2.29" fill="url(#fg)"/><circle cx="174.1" cy="239.0" r="1.93" fill="url(#fg)"/><circle cx="183.0" cy="151.8" r="2.79" fill="url(#fg)"/><circle cx="152.3" cy="206.6" r="1.66" fill="url(#fg)"/><circle cx="217.0" cy="90.2" r="2.68" fill="url(#fg)"/><circle cx="135.6" cy="248.5" r="2.36" fill="url(#fg)"/><circle cx="182.5" cy="270.6" r="1.90" fill="url(#fg)"/><circle cx="262.6" cy="178.2" r="2.00" fill="url(#fg)"/><circle cx="73.8" cy="127.5" r="1.73" fill="url(#fg)"/><circle cx="178.6" cy="276.4" r="1.75" fill="url(#fg)"/><circle cx="249.2" cy="197.8" r="1.67" fill="url(#fg)"/><circle cx="170.4" cy="47.7" r="2.71" fill="url(#fg)"/><circle cx="126.0" cy="127.9" r="1.83" fill="url(#fg)"/><circle cx="284.1" cy="247.4" r="2.23" fill="url(#fg)"/><circle cx="207.8" cy="38.6" r="2.71" fill="url(#fg)"/><circle cx="80.6" cy="112.1" r="1.88" fill="url(#fg)"/><circle cx="257.0" cy="197.0" r="1.83" fill="url(#fg)"/><circle cx="305.6" cy="275.0" r="1.32" fill="url(#fg)"/><circle cx="232.0" cy="141.4" r="1.86" fill="url(#fg)"/><circle cx="185.2" cy="98.9" r="2.35" fill="url(#fg)"/><circle cx="224.3" cy="280.8" r="2.84" fill="url(#fg)"/><circle cx="331.9" cy="120.8" r="2.61" fill="url(#fg)"/><circle cx="236.7" cy="205.9" r="2.88" fill="url(#fg)"/><circle cx="74.5" cy="139.5" r="1.92" fill="url(#fg)"/><circle cx="238.4" cy="71.6" r="2.86" fill="url(#fg)"/><circle cx="114.2" cy="113.8" r="1.51" fill="url(#fg)"/><circle cx="165.7" cy="217.2" r="1.41" fill="url(#fg)"/><circle cx="102.4" cy="191.4" r="2.28" fill="url(#fg)"/><circle cx="262.3" cy="81.4" r="2.58" fill="url(#fg)"/><circle cx="259.2" cy="226.7" r="1.47" fill="url(#fg)"/><circle cx="186.3" cy="15.4" r="2.66" fill="url(#fg)"/><circle cx="318.6" cy="260.0" r="1.32" fill="url(#fg)"/><circle cx="153.6" cy="160.0" r="2.13" fill="url(#fg)"/><circle cx="86.9" cy="230.4" r="1.76" fill="url(#fg)"/><circle cx="197.0" cy="45.6" r="2.19" fill="url(#fg)"/><circle cx="92.1" cy="35.6" r="2.10" fill="url(#fg)"/><circle cx="137.7" cy="227.1" r="1.67" fill="url(#fg)"/><circle cx="171.1" cy="26.1" r="1.63" fill="url(#fg)"/><circle cx="181.6" cy="166.2" r="2.02" fill="url(#fg)"/><circle cx="292.5" cy="40.0" r="2.64" fill="url(#fg)"/><circle cx="99.0" cy="280.7" r="2.12" fill="url(#fg)"/>
<g filter="url(#halo)" fill="#777" opacity="0.8"><rect x="66" y="195" width="39" height="38" rx="12"/><rect x="236" y="263" width="44" height="34" rx="12"/><rect x="285" y="86" width="40" height="35" rx="12"/><rect x="199" y="64" width="27" height="26" rx="9"/></g>
<circle cx="146" cy="44.2" r="8.5" fill="url(#hg)" opacity="0.55"/><circle cx="221.1" cy="86.7" r="8.5" fill="url(#hg)" opacity="0.55"/><circle cx="181.2" cy="90.7" r="8.0" fill="url(#hg)" opacity="0.55"/><circle cx="260.9" cy="30.1" r="8.5" fill="url(#hg)" opacity="0.55"/><circle cx="283.5" cy="80.1" r="8.5" fill="url(#hg)" opacity="0.55"/><circle cx="90.9" cy="190.4" r="8.5" fill="url(#hg)" opacity="0.55"/><circle cx="152" cy="112" r="8.5" fill="url(#hg)" opacity="0.55"/><circle cx="207.8" cy="108" r="9.2" fill="url(#hg)" opacity="0.55"/><circle cx="316.7" cy="165.7" r="9.9" fill="url(#hg)" opacity="0.55"/><circle cx="94.3" cy="278" r="9.9" fill="url(#hg)" opacity="0.55"/><circle cx="57.7" cy="270.1" r="8.5" fill="url(#hg)" opacity="0.55"/><circle cx="140" cy="284.7" r="9.2" fill="url(#hg)" opacity="0.55"/><circle cx="179.9" cy="207.6" r="11.0" fill="url(#hg)" opacity="0.55"/><circle cx="197.2" cy="232.9" r="11.0" fill="url(#hg)" opacity="0.55"/><circle cx="184.7" cy="258.7" r="8.5" fill="url(#hg)" opacity="0.55"/><circle cx="195.3" cy="269.3" r="8.5" fill="url(#hg)" opacity="0.55"/><circle cx="195.3" cy="280.7" r="8.5" fill="url(#hg)" opacity="0.55"/><circle cx="245" cy="232.9" r="9.2" fill="url(#hg)" opacity="0.55"/><circle cx="284.5" cy="232.9" r="9.2" fill="url(#hg)" opacity="0.55"/><circle cx="289.5" cy="232.9" r="8.3" fill="url(#hg)" opacity="0.55"/><circle cx="326" cy="239.5" r="12.2" fill="url(#hg)" opacity="0.55"/>
<circle cx="57.7" cy="29.1" r="2.90" fill="url(#sg)"/><circle cx="76.8" cy="33.6" r="2.75" fill="url(#sg)"/><circle cx="83.7" cy="24.8" r="2.07" fill="url(#sgs)"/><circle cx="81.6" cy="19" r="1.75" fill="url(#sgs)"/><circle cx="104.2" cy="22.2" r="2.07" fill="url(#sgs)"/><circle cx="93.5" cy="20.3" r="1.75" fill="url(#sgs)"/><circle cx="138.7" cy="14.2" r="3.04" fill="url(#sg)"/><circle cx="110.8" cy="12.3" r="2.07" fill="url(#sgs)"/><circle cx="142.7" cy="28.3" r="2.07" fill="url(#sgs)"/><circle cx="103.4" cy="37.6" r="3.77" fill="url(#sg)"/><circle cx="98.3" cy="45.5" r="4.64" fill="url(#sg)"/><circle cx="97.5" cy="50.3" r="3.04" fill="url(#sg)"/><circle cx="121.4" cy="40.2" r="2.07" fill="url(#sgs)"/><circle cx="120.9" cy="45.5" r="2.07" fill="url(#sgs)"/><circle cx="134.7" cy="41" r="2.55" fill="url(#sgs)"/><circle cx="146" cy="44.2" r="5.37" fill="url(#sg)"/><circle cx="63" cy="46.9" r="2.55" fill="url(#sgs)"/><circle cx="78.4" cy="48.2" r="2.07" fill="url(#sgs)"/><circle cx="58.2" cy="58.8" r="3.48" fill="url(#sg)"/><circle cx="72.8" cy="60.7" r="3.04" fill="url(#sg)"/><circle cx="104.2" cy="58.3" r="3.48" fill="url(#sg)"/><circle cx="93.5" cy="60.2" r="2.07" fill="url(#sgs)"/><circle cx="118.8" cy="50.9" r="1.75" fill="url(#sgs)"/><circle cx="134.7" cy="56.2" r="1.75" fill="url(#sgs)"/><circle cx="57.7" cy="68.1" r="2.07" fill="url(#sgs)"/><circle cx="96.2" cy="68.9" r="2.55" fill="url(#sgs)"/><circle cx="60.8" cy="74.2" r="2.55" fill="url(#sgs)"/><circle cx="123.6" cy="75.3" r="3.48" fill="url(#sg)"/><circle cx="132.1" cy="78" r="2.07" fill="url(#sgs)"/><circle cx="140" cy="72.1" r="2.07" fill="url(#sgs)"/><circle cx="102.8" cy="82.8" r="2.75" fill="url(#sg)"/><circle cx="67" cy="83.3" r="2.07" fill="url(#sgs)"/><circle cx="66.2" cy="98.2" r="2.07" fill="url(#sgs)"/><circle cx="94.9" cy="99.5" r="2.75" fill="url(#sg)"/><circle cx="110.8" cy="98.7" r="2.07" fill="url(#sgs)"/><circle cx="141.4" cy="88.1" r="2.07" fill="url(#sgs)"/><circle cx="187.9" cy="13.1" r="3.92" fill="url(#sg)"/><circle cx="171.5" cy="22.4" r="3.77" fill="url(#sg)"/><circle cx="175.5" cy="22.4" r="3.48" fill="url(#sg)"/><circle cx="190" cy="23" r="3.04" fill="url(#sg)"/><circle cx="204.6" cy="26.4" r="3.92" fill="url(#sg)"/><circle cx="217.1" cy="14.7" r="3.04" fill="url(#sg)"/><circle cx="229" cy="16.3" r="3.04" fill="url(#sg)"/><circle cx="219.8" cy="31.7" r="3.04" fill="url(#sg)"/><circle cx="189.2" cy="35.7" r="3.48" fill="url(#sg)"/><circle cx="160" cy="42.9" r="3.04" fill="url(#sg)"/><circle cx="193.2" cy="42.9" r="4.35" fill="url(#sg)"/><circle cx="192" cy="46" r="3.77" fill="url(#sg)"/><circle cx="168" cy="50.3" r="4.21" fill="url(#sg)"/><circle cx="210.5" cy="53" r="3.48" fill="url(#sg)"/><circle cx="193.2" cy="57.5" r="3.48" fill="url(#sg)"/><circle cx="221.1" cy="45" r="2.55" fill="url(#sgs)"/><circle cx="217.1" cy="48.2" r="2.75" fill="url(#sg)"/><circle cx="150.7" cy="58.8" r="2.55" fill="url(#sgs)"/><circle cx="164" cy="69.5" r="2.55" fill="url(#sgs)"/><circle cx="179.9" cy="72.1" r="3.48" fill="url(#sg)"/><circle cx="182.5" cy="81.4" r="2.75" fill="url(#sg)"/><circle cx="221.1" cy="86.7" r="5.37" fill="url(#sg)"/><circle cx="181.2" cy="90.7" r="5.08" fill="url(#sg)"/><circle cx="150.7" cy="88.1" r="2.07" fill="url(#sgs)"/><circle cx="164" cy="89.4" r="2.07" fill="url(#sgs)"/><circle cx="290.2" cy="13.7" r="3.04" fill="url(#sg)"/><circle cx="272.9" cy="16.8" r="2.07" fill="url(#sgs)"/><circle cx="260.9" cy="30.1" r="5.37" fill="url(#sg)"/><circle cx="253.8" cy="34.9" r="3.48" fill="url(#sg)"/><circle cx="279.5" cy="39.7" r="3.92" fill="url(#sg)"/><circle cx="243.7" cy="40.2" r="2.75" fill="url(#sg)"/><circle cx="296.8" cy="54" r="4.21" fill="url(#sg)"/><circle cx="314.1" cy="16.3" r="2.75" fill="url(#sg)"/><circle cx="319.4" cy="37.6" r="2.75" fill="url(#sg)"/><circle cx="331.4" cy="64.1" r="3.04" fill="url(#sg)"/><circle cx="330" cy="74.8" r="3.04" fill="url(#sg)"/><circle cx="320.7" cy="74.8" r="2.55" fill="url(#sgs)"/><circle cx="310.6" cy="40.2" r="2.07" fill="url(#sgs)"/><circle cx="287.5" cy="54.8" r="2.07" fill="url(#sgs)"/><circle cx="279.5" cy="67.3" r="2.75" fill="url(#sg)"/><circle cx="257" cy="64.7" r="3.92" fill="url(#sg)"/><circle cx="283.5" cy="80.1" r="5.37" fill="url(#sg)"/><circle cx="270.2" cy="77.4" r="2.75" fill="url(#sg)"/><circle cx="296.8" cy="82.8" r="2.55" fill="url(#sgs)"/><circle cx="311.4" cy="76.9" r="2.55" fill="url(#sgs)"/><circle cx="331.4" cy="88.1" r="2.55" fill="url(#sgs)"/><circle cx="123.6" cy="121.3" r="4.64" fill="url(#sg)"/><circle cx="123.6" cy="131.9" r="3.92" fill="url(#sg)"/><circle cx="110" cy="123.1" r="3.04" fill="url(#sg)"/><circle cx="140" cy="114.1" r="2.75" fill="url(#sg)"/><circle cx="137.4" cy="106.7" r="2.55" fill="url(#sgs)"/><circle cx="81.6" cy="116" r="2.07" fill="url(#sgs)"/><circle cx="84.8" cy="138.5" r="2.75" fill="url(#sg)"/><circle cx="78.4" cy="146.5" r="2.55" fill="url(#sgs)"/><circle cx="60.3" cy="139.9" r="2.07" fill="url(#sgs)"/><circle cx="65.1" cy="153.2" r="2.07" fill="url(#sgs)"/><circle cx="94.3" cy="157.7" r="3.92" fill="url(#sg)"/><circle cx="132.6" cy="146.5" r="3.92" fill="url(#sg)"/><circle cx="74.1" cy="167" r="3.04" fill="url(#sg)"/><circle cx="57.7" cy="163.8" r="2.07" fill="url(#sgs)"/><circle cx="62.4" cy="173.1" r="2.75" fill="url(#sg)"/><circle cx="110.3" cy="173.9" r="3.92" fill="url(#sg)"/><circle cx="115.6" cy="176.3" r="2.55" fill="url(#sgs)"/><circle cx="72.8" cy="182.9" r="2.75" fill="url(#sg)"/><circle cx="90.9" cy="190.4" r="5.37" fill="url(#sg)"/><circle cx="81.6" cy="194.4" r="2.07" fill="url(#sgs)"/><circle cx="120.1" cy="181.1" r="2.07" fill="url(#sgs)"/><circle cx="97.5" cy="175.8" r="1.75" fill="url(#sgs)"/><circle cx="94.9" cy="120" r="1.75" fill="url(#sgs)"/><circle cx="69.6" cy="127.9" r="1.75" fill="url(#sgs)"/><circle cx="152" cy="112" r="5.37" fill="url(#sg)"/><circle cx="207.8" cy="108" r="5.80" fill="url(#sg)"/><circle cx="173.2" cy="138.5" r="3.48" fill="url(#sg)"/><circle cx="229" cy="113.3" r="2.75" fill="url(#sg)"/><circle cx="227.7" cy="185" r="3.92" fill="url(#sg)"/><circle cx="233" cy="194.4" r="3.04" fill="url(#sg)"/><circle cx="191.8" cy="179.7" r="2.75" fill="url(#sg)"/><circle cx="168" cy="193" r="3.04" fill="url(#sg)"/><circle cx="154.6" cy="187.7" r="2.75" fill="url(#sg)"/><circle cx="239.7" cy="159.8" r="2.75" fill="url(#sg)"/><circle cx="222.4" cy="150.5" r="2.75" fill="url(#sg)"/><circle cx="230.4" cy="167.8" r="2.75" fill="url(#sg)"/><circle cx="211.8" cy="165.1" r="2.55" fill="url(#sgs)"/><circle cx="215.8" cy="173.1" r="2.55" fill="url(#sgs)"/><circle cx="185.2" cy="117.3" r="2.55" fill="url(#sgs)"/><circle cx="316.7" cy="165.7" r="6.23" fill="url(#sg)"/><circle cx="268.9" cy="186.4" r="4.64" fill="url(#sg)"/><circle cx="257" cy="153.2" r="3.04" fill="url(#sg)"/><circle cx="255.6" cy="181.1" r="3.92" fill="url(#sg)"/><circle cx="250.3" cy="182.4" r="2.75" fill="url(#sg)"/><circle cx="302.1" cy="146.5" r="3.92" fill="url(#sg)"/><circle cx="296.8" cy="123.9" r="2.75" fill="url(#sg)"/><circle cx="306" cy="129.2" r="2.55" fill="url(#sgs)"/><circle cx="310.6" cy="175.8" r="3.04" fill="url(#sg)"/><circle cx="316.7" cy="186.4" r="3.92" fill="url(#sg)"/><circle cx="324.7" cy="183.7" r="2.75" fill="url(#sg)"/><circle cx="331.4" cy="108" r="2.55" fill="url(#sgs)"/><circle cx="326" cy="130.6" r="2.55" fill="url(#sgs)"/><circle cx="304.8" cy="191.7" r="2.55" fill="url(#sgs)"/><circle cx="272.9" cy="177.1" r="3.04" fill="url(#sg)"/><circle cx="300.8" cy="155.8" r="2.07" fill="url(#sgs)"/><circle cx="75" cy="201" r="3.04" fill="url(#sg)"/><circle cx="56.3" cy="222.2" r="3.04" fill="url(#sg)"/><circle cx="60.8" cy="231.5" r="3.48" fill="url(#sg)"/><circle cx="100.2" cy="214.3" r="3.48" fill="url(#sg)"/><circle cx="108.1" cy="215.1" r="2.75" fill="url(#sg)"/><circle cx="112.1" cy="215.1" r="3.04" fill="url(#sg)"/><circle cx="124.1" cy="222.2" r="3.04" fill="url(#sg)"/><circle cx="109.5" cy="224.9" r="3.04" fill="url(#sg)"/><circle cx="105.5" cy="232.9" r="3.04" fill="url(#sg)"/><circle cx="122.8" cy="231.5" r="3.04" fill="url(#sg)"/><circle cx="132.1" cy="223.6" r="2.55" fill="url(#sgs)"/><circle cx="134.7" cy="229.4" r="3.04" fill="url(#sg)"/><circle cx="145.4" cy="234.2" r="4.64" fill="url(#sg)"/><circle cx="118.8" cy="238.2" r="2.55" fill="url(#sgs)"/><circle cx="110.3" cy="255.5" r="4.64" fill="url(#sg)"/><circle cx="118.2" cy="256.8" r="3.92" fill="url(#sg)"/><circle cx="128.1" cy="252.8" r="3.04" fill="url(#sg)"/><circle cx="142.7" cy="254.1" r="3.04" fill="url(#sg)"/><circle cx="114" cy="268.2" r="3.48" fill="url(#sg)"/><circle cx="94.9" cy="258.1" r="3.92" fill="url(#sg)"/><circle cx="85.6" cy="255.5" r="2.55" fill="url(#sgs)"/><circle cx="85" cy="265.6" r="3.48" fill="url(#sg)"/><circle cx="78.4" cy="261.6" r="2.55" fill="url(#sgs)"/><circle cx="94.3" cy="278" r="6.23" fill="url(#sg)"/><circle cx="57.7" cy="270.1" r="5.37" fill="url(#sg)"/><circle cx="67" cy="259.5" r="2.55" fill="url(#sgs)"/><circle cx="140" cy="284.7" r="5.80" fill="url(#sg)"/><circle cx="129.4" cy="279.4" r="2.55" fill="url(#sgs)"/><circle cx="104.2" cy="284.7" r="2.75" fill="url(#sg)"/><circle cx="134.7" cy="206.3" r="3.92" fill="url(#sg)"/><circle cx="142.7" cy="207.6" r="2.75" fill="url(#sg)"/><circle cx="164.5" cy="199" r="4.64" fill="url(#sg)"/><circle cx="164.5" cy="203" r="4.64" fill="url(#sg)"/><circle cx="179.9" cy="207.6" r="6.96" fill="url(#sg)"/><circle cx="162.6" cy="209.8" r="3.04" fill="url(#sg)"/><circle cx="233" cy="198.3" r="3.92" fill="url(#sg)"/><circle cx="229" cy="206.3" r="2.75" fill="url(#sg)"/><circle cx="207.8" cy="220.9" r="3.92" fill="url(#sg)"/><circle cx="197.2" cy="232.9" r="6.96" fill="url(#sg)"/><circle cx="205.1" cy="238.2" r="2.75" fill="url(#sg)"/><circle cx="205.1" cy="242.7" r="2.75" fill="url(#sg)"/><circle cx="149.3" cy="234.2" r="3.92" fill="url(#sg)"/><circle cx="157.3" cy="240.8" r="2.55" fill="url(#sgs)"/><circle cx="150.7" cy="252.8" r="3.04" fill="url(#sg)"/><circle cx="184.7" cy="258.7" r="5.37" fill="url(#sg)"/><circle cx="191.3" cy="261.6" r="3.48" fill="url(#sg)"/><circle cx="199.3" cy="260.8" r="3.92" fill="url(#sg)"/><circle cx="195.3" cy="269.3" r="5.37" fill="url(#sg)"/><circle cx="191.3" cy="271.4" r="3.48" fill="url(#sg)"/><circle cx="183.9" cy="272.7" r="2.55" fill="url(#sgs)"/><circle cx="175.9" cy="276.7" r="4.64" fill="url(#sg)"/><circle cx="195.3" cy="280.7" r="5.37" fill="url(#sg)"/><circle cx="191.8" cy="283.4" r="3.04" fill="url(#sg)"/><circle cx="221.1" cy="253.6" r="4.21" fill="url(#sg)"/><circle cx="219.2" cy="261.3" r="3.48" fill="url(#sg)"/><circle cx="231.7" cy="252.3" r="4.64" fill="url(#sg)"/><circle cx="203.8" cy="254.1" r="2.55" fill="url(#sgs)"/><circle cx="179.9" cy="218.3" r="2.07" fill="url(#sgs)"/><circle cx="160" cy="231.5" r="2.07" fill="url(#sgs)"/><circle cx="177.2" cy="260.8" r="2.55" fill="url(#sgs)"/><circle cx="239.7" cy="287.4" r="3.04" fill="url(#sg)"/><circle cx="245" cy="232.9" r="5.80" fill="url(#sg)"/><circle cx="267.6" cy="233.7" r="3.92" fill="url(#sg)"/><circle cx="284.5" cy="232.9" r="5.80" fill="url(#sg)"/><circle cx="289.5" cy="232.9" r="5.22" fill="url(#sg)"/><circle cx="253.8" cy="241.6" r="3.92" fill="url(#sg)"/><circle cx="260.4" cy="252" r="3.92" fill="url(#sg)"/><circle cx="281.4" cy="245.4" r="3.04" fill="url(#sg)"/><circle cx="283" cy="253.6" r="2.75" fill="url(#sg)"/><circle cx="303.4" cy="252" r="3.92" fill="url(#sg)"/><circle cx="306.1" cy="256.8" r="3.04" fill="url(#sg)"/><circle cx="298.1" cy="267.4" r="3.48" fill="url(#sg)"/><circle cx="296.8" cy="282" r="3.92" fill="url(#sg)"/><circle cx="326" cy="239.5" r="7.68" fill="url(#sg)"/><circle cx="318.1" cy="207.1" r="3.92" fill="url(#sg)"/><circle cx="279.5" cy="215.6" r="2.75" fill="url(#sg)"/><circle cx="267.6" cy="198.3" r="2.55" fill="url(#sgs)"/><circle cx="326" cy="270.1" r="4.64" fill="url(#sg)"/><circle cx="318.1" cy="274" r="2.55" fill="url(#sgs)"/><circle cx="314.1" cy="245.4" r="2.55" fill="url(#sgs)"/><circle cx="246.3" cy="254.1" r="2.55" fill="url(#sgs)"/><circle cx="245" cy="263.4" r="2.55" fill="url(#sgs)"/><circle cx="270.2" cy="259.5" r="2.55" fill="url(#sgs)"/><circle cx="295.5" cy="222.2" r="2.55" fill="url(#sgs)"/><circle cx="328.7" cy="219.6" r="2.55" fill="url(#sgs)"/><circle cx="311.4" cy="260.8" r="2.55" fill="url(#sgs)"/><circle cx="304.8" cy="274" r="2.55" fill="url(#sgs)"/><circle cx="253" cy="267.4" r="2.55" fill="url(#sgs)"/>
<g filter="url(#soft)" fill="#080808">
<path d="M74.0,202.0 Q85.6,206.6 97.2,202.0 Q92.6,213.5 97.2,225.0 Q85.6,220.4 74.0,225.0 Q78.6,213.5 74.0,202.0Z"/>
<path d="M245.5,271.0 Q256.5,273.0 267.5,271.0 Q264.9,283.5 267.5,296.0 Q256.5,294.0 245.5,296.0 Q248.1,283.5 245.5,271.0Z"/>
<path d="M239,291 Q257,283 275,291 L275,296 L239,296Z"/>
<path d="M293.0,93.3 Q305.8,95.9 318.6,93.3 Q315.5,104.2 318.6,115.0 Q305.8,112.4 293.0,115.0 Q296.1,104.2 293.0,93.3Z"/>
<path d="M204.7,69.7 Q212.4,72.4 220.1,69.7 Q217.3,77.2 220.1,84.6 Q212.4,81.9 204.7,84.6 Q207.5,77.2 204.7,69.7Z"/>
</g>
<ellipse cx="80.2" cy="263.4" rx="20" ry="20" fill="url(#hatchR)" stroke="#e06060" stroke-width="0.6"/>
<ellipse cx="67" cy="278" rx="6.6" ry="6.6" fill="url(#hatchY)" stroke="#4040e0" stroke-width="0.7"/>
<path d="M104.0,11.0 104.3,11.4 104.6,11.9 105.1,12.5 105.6,13.2 106.1,13.9 106.7,14.6 107.3,15.3 108.0,16.0 108.7,16.6 109.4,17.3 110.2,18.0 111.0,18.7 111.9,19.3 112.8,20.0 113.9,20.5 115.0,21.0 116.3,21.4 117.7,21.8 119.2,22.2 120.8,22.5 122.4,22.7 124.0,22.9 125.5,23.0 127.0,23.0 128.5,22.9 129.9,22.7 131.4,22.4 132.8,22.0 134.2,21.6 135.6,21.1 136.8,20.6 138.0,20.0 139.1,19.4 140.1,18.6 141.1,17.8 142.1,17.0 142.9,16.2 143.7,15.4 144.4,14.6 145.0,14.0 145.5,13.5 145.9,13.0 146.2,12.5 146.4,12.1 146.6,11.8 146.8,11.5 146.9,11.2 147.0,11.0" fill="none" stroke="#e44a4a" stroke-width="0.9" stroke-opacity="1" stroke-linejoin="round" />
<path d="M56.0,92.0 56.4,91.3 57.1,90.8 58.0,90.5 58.9,90.3 60.0,90.3 61.0,90.3 62.1,90.4 63.0,90.5 63.9,90.7 64.9,91.0 65.8,91.3 66.8,91.8 67.7,92.3 68.6,92.8 69.4,93.4 70.0,94.0 70.5,94.6 71.0,95.4 71.5,96.2 71.8,97.0 72.1,97.8 72.2,98.6 72.2,99.3 72.0,100.0 71.6,100.6 71.1,101.3 70.4,101.9 69.6,102.4 68.7,103.0 67.8,103.4 66.9,103.8 66.0,104.0 65.1,104.2 64.0,104.3 62.9,104.4 61.8,104.4 60.6,104.3 59.6,104.1 58.7,103.6 58.0,103.0 57.4,102.0 56.9,100.7 56.4,99.2 56.1,97.5 55.8,95.9 55.7,94.3 55.8,93.0Z" fill="none" stroke="#e44a4a" stroke-width="0.9" stroke-opacity="1" stroke-linejoin="round" />
<path d="M55.0,246.0 55.6,245.7 56.4,245.3 57.4,244.8 58.5,244.3 59.7,243.8 60.8,243.5 62.0,243.4 63.0,243.5 64.0,243.9 65.1,244.6 66.2,245.4 67.3,246.4 68.3,247.5 69.2,248.7 70.0,249.9 70.5,251.0 70.8,252.2 71.0,253.6 71.1,255.0 71.0,256.5 70.8,257.9 70.4,259.3 70.0,260.5 69.5,261.5 68.8,262.3 68.0,263.0 66.9,263.7 65.8,264.2 64.7,264.5 63.6,264.8 62.5,265.0 61.5,265.0 60.6,264.8 59.6,264.4 58.7,263.9 57.8,263.2 56.9,262.5 56.1,261.9 55.5,261.4 55.0,261.0" fill="none" stroke="#e44a4a" stroke-width="0.9" stroke-opacity="1" stroke-linejoin="round" />
<path d="M334.0,258.0 333.5,258.9 332.9,260.2 332.2,261.7 331.4,263.4 330.5,265.1 329.6,266.9 328.8,268.5 328.0,270.0 327.2,271.4 326.5,272.7 325.7,273.9 324.9,275.2 324.2,276.4 323.4,277.6 322.7,278.8 322.0,280.0 321.3,281.2 320.6,282.5 319.8,283.8 319.1,285.1 318.5,286.3 317.9,287.4 317.4,288.3 317.0,289.0" fill="none" stroke="#e44a4a" stroke-width="0.9" stroke-opacity="1" stroke-linejoin="round" />
<path d="M166.7,102.9h6.4M169.9,99.7v6.4M177.7,106.0h6.4M180.9,102.8v6.4M168.2,109.2h6.4M171.4,106.0v6.4M157.2,118.6h6.4M160.4,115.4v6.4M184.0,113.9h6.4M187.2,110.7v6.4M199.7,110.7h6.4M202.9,107.5v6.4M149.4,121.7h6.4M152.6,118.5v6.4M165.1,124.9h6.4M168.3,121.7v6.4M187.1,126.4h6.4M190.3,123.2v6.4M196.5,121.7h6.4M199.7,118.5v6.4M174.5,132.7h6.4M177.7,129.5v6.4M158.8,134.3h6.4M162.0,131.1v6.4M202.8,132.7h6.4M206.0,129.5v6.4M213.8,124.9h6.4M217.0,121.7v6.4M218.6,117.0h6.4M221.8,113.8v6.4M229.6,113.9h6.4M232.8,110.7v6.4M226.4,126.4h6.4M229.6,123.2v6.4M143.1,135.9h6.4M146.3,132.7v6.4M184.0,139.0h6.4M187.2,135.8v6.4M212.3,157.9h6.4M215.5,154.7v6.4M231.1,151.6h6.4M234.3,148.4v6.4M234.3,161.0h6.4M237.5,157.8v6.4M218.6,167.3h6.4M221.8,164.1v6.4M199.7,173.6h6.4M202.9,170.4v6.4M184.0,183.1h6.4M187.2,179.9v6.4M174.5,189.3h6.4M177.7,186.1v6.4M165.1,195.6h6.4M168.3,192.4v6.4M190.3,189.3h6.4M193.5,186.1v6.4M199.7,195.6h6.4M202.9,192.4v6.4M209.1,186.2h6.4M212.3,183.0v6.4M218.6,176.8h6.4M221.8,173.6v6.4M224.9,189.3h6.4M228.1,186.1v6.4M177.7,176.8h6.4M180.9,173.6v6.4M168.2,176.8h6.4M171.4,173.6v6.4M155.7,183.1h6.4M158.9,179.9v6.4M152.5,192.5h6.4M155.7,189.3v6.4M184.0,198.8h6.4M187.2,195.6v6.4M212.3,201.9h6.4M215.5,198.7v6.4M193.4,205.1h6.4M196.6,201.9v6.4M146.2,104.4h6.4M149.4,101.2v6.4M155.7,110.7h6.4M158.9,107.5v6.4M173.0,117.0h6.4M176.2,113.8v6.4M191.8,101.3h6.4M195.0,98.1v6.4M151.0,128.0h6.4M154.2,124.8v6.4" stroke="#5f945f" stroke-width="0.75" fill="none" opacity="0.75"/>
<path d="M205.6,127.1h6.4M208.8,123.9v6.4M147.2,113.3h6.4M150.4,110.1v6.4M233.0,95.6h6.4M236.2,92.4v6.4M190.5,102.3h6.4M193.7,99.1v6.4M197.8,118.7h6.4M201.0,115.5v6.4M171.8,135.9h6.4M175.0,132.7v6.4M219.7,97.9h6.4M222.9,94.7v6.4M222.8,96.9h6.4M226.0,93.7v6.4M205.1,96.3h6.4M208.3,93.1v6.4M164.9,100.7h6.4M168.1,97.5v6.4M172.8,138.1h6.4M176.0,134.9v6.4M197.4,123.9h6.4M200.6,120.7v6.4M164.5,137.1h6.4M167.7,133.9v6.4M232.3,104.9h6.4M235.5,101.7v6.4M174.0,120.2h6.4M177.2,117.0v6.4M144.6,123.9h6.4M147.8,120.7v6.4M177.6,105.5h6.4M180.8,102.3v6.4M224.9,114.0h6.4M228.1,110.8v6.4M175.4,114.0h6.4M178.6,110.8v6.4M213.7,92.8h6.4M216.9,89.6v6.4M146.1,129.4h6.4M149.3,126.2v6.4M180.4,118.9h6.4M183.6,115.7v6.4M162.1,137.8h6.4M165.3,134.6v6.4M163.7,127.8h6.4M166.9,124.6v6.4M178.2,107.7h6.4M181.4,104.5v6.4M196.0,128.8h6.4M199.2,125.6v6.4M154.9,127.4h6.4M158.1,124.2v6.4M153.3,107.0h6.4M156.5,103.8v6.4M177.8,136.3h6.4M181.0,133.1v6.4M198.0,105.6h6.4M201.2,102.4v6.4M184.3,101.8h6.4M187.5,98.6v6.4M189.2,111.1h6.4M192.4,107.9v6.4M149.8,135.9h6.4M153.0,132.7v6.4M147.5,114.7h6.4M150.7,111.5v6.4M226.9,96.5h6.4M230.1,93.3v6.4M154.8,111.7h6.4M158.0,108.5v6.4M159.0,132.3h6.4M162.2,129.1v6.4M173.3,112.6h6.4M176.5,109.4v6.4M192.4,126.5h6.4M195.6,123.3v6.4M191.5,104.5h6.4M194.7,101.3v6.4M193.5,106.9h6.4M196.7,103.7v6.4M153.1,103.6h6.4M156.3,100.4v6.4M179.9,129.3h6.4M183.1,126.1v6.4M180.1,125.2h6.4M183.3,122.0v6.4M172.0,114.3h6.4M175.2,111.1v6.4" stroke="#5f945f" stroke-width="0.75" fill="none" opacity="0.75"/>
<path d="M202.9,173.7h6.4M206.1,170.5v6.4M201.6,199.7h6.4M204.8,196.5v6.4M193.3,200.3h6.4M196.5,197.1v6.4M184.6,202.0h6.4M187.8,198.8v6.4M224.0,181.7h6.4M227.2,178.5v6.4M207.5,195.7h6.4M210.7,192.5v6.4M177.8,189.0h6.4M181.0,185.8v6.4M230.4,173.9h6.4M233.6,170.7v6.4M230.3,195.9h6.4M233.5,192.7v6.4M233.8,177.6h6.4M237.0,174.4v6.4M169.2,201.9h6.4M172.4,198.7v6.4M230.4,183.3h6.4M233.6,180.1v6.4M215.8,175.2h6.4M219.0,172.0v6.4M178.5,194.3h6.4M181.7,191.1v6.4M192.2,208.8h6.4M195.4,205.6v6.4M239.4,186.9h6.4M242.6,183.7v6.4M216.6,196.5h6.4M219.8,193.3v6.4M212.9,175.9h6.4M216.1,172.7v6.4M236.9,187.5h6.4M240.1,184.3v6.4M171.2,194.7h6.4M174.4,191.5v6.4M179.2,205.3h6.4M182.4,202.1v6.4M228.1,160.9h6.4M231.3,157.7v6.4M189.8,207.3h6.4M193.0,204.1v6.4M214.5,176.0h6.4M217.7,172.8v6.4M193.6,180.4h6.4M196.8,177.2v6.4M225.4,180.8h6.4M228.6,177.6v6.4M245.6,172.8h6.4M248.8,169.6v6.4M199.6,203.5h6.4M202.8,200.3v6.4M229.7,187.0h6.4M232.9,183.8v6.4M201.7,196.9h6.4M204.9,193.7v6.4M225.4,173.9h6.4M228.6,170.7v6.4M203.1,201.0h6.4M206.3,197.8v6.4M171.8,190.8h6.4M175.0,187.6v6.4M200.0,208.5h6.4M203.2,205.3v6.4M183.1,181.5h6.4M186.3,178.3v6.4M184.2,184.8h6.4M187.4,181.6v6.4M193.6,176.0h6.4M196.8,172.8v6.4M230.4,176.9h6.4M233.6,173.7v6.4M240.6,179.7h6.4M243.8,176.5v6.4M213.1,176.7h6.4M216.3,173.5v6.4M195.4,185.5h6.4M198.6,182.3v6.4M163.8,200.5h6.4M167.0,197.3v6.4M170.8,197.6h6.4M174.0,194.4v6.4M192.3,209.1h6.4M195.5,205.9v6.4M234.6,163.3h6.4M237.8,160.1v6.4" stroke="#5f945f" stroke-width="0.75" fill="none" opacity="0.75"/>
<path d="M184.1,171.7h6.4M187.3,168.5v6.4M180.5,161.7h6.4M183.7,158.5v6.4M179.0,143.9h6.4M182.2,140.7v6.4M199.0,152.1h6.4M202.2,148.9v6.4M192.2,153.5h6.4M195.4,150.3v6.4M182.8,166.5h6.4M186.0,163.3v6.4M179.2,143.4h6.4M182.4,140.2v6.4M176.7,144.6h6.4M179.9,141.4v6.4M190.6,169.3h6.4M193.8,166.1v6.4M189.5,138.7h6.4M192.7,135.5v6.4M178.2,158.4h6.4M181.4,155.2v6.4M189.5,159.9h6.4M192.7,156.7v6.4" stroke="#5f945f" stroke-width="0.75" fill="none" opacity="0.75"/>
<path d="M156.5,221.0 148.0,221.4 140.0,220.5 132.5,218.6 125.5,215.6 119.0,211.5 113.3,206.5 108.5,200.5 104.8,194.0 102.1,186.5 100.7,179.0 100.5,171.5 101.5,163.5 103.7,156.0 107.1,148.5 111.5,141.7 116.9,135.5 121.4,131.5 126.2,128.0 131.5,124.9 137.0,122.4 148.5,118.8 168.5,115.4 176.0,113.5 184.0,110.1 191.5,105.0 197.6,99.5 203.8,93.0 209.6,86.0 213.7,80.0 216.2,75.0 217.5,70.5 217.9,66.5 217.6,57.5 218.4,53.0 219.8,50.5 221.6,48.5 224.0,46.8 227.0,45.5 234.0,44.2 242.0,44.8 248.0,46.3 263.5,51.4 285.5,56.4 292.5,58.9 298.5,61.8 304.0,65.5 308.5,69.5 314.2,76.5 316.5,80.6 318.5,85.0 320.8,94.0 321.4,103.5 320.1,113.0 316.9,122.5 312.0,131.3 305.5,139.0 300.0,143.9 293.5,148.3 287.0,151.8 271.5,159.2 263.5,164.2 256.1,170.5 237.9,188.5 231.5,193.6 224.5,197.9 213.0,203.2 177.0,216.2 166.0,219.4ZM154.5,215.0 147.5,215.1 140.5,214.2 134.0,212.3 127.5,209.3 121.9,205.5 117.0,200.8 113.0,195.5 110.0,189.5 107.9,183.0 106.9,176.5 107.0,169.5 108.2,162.5 110.3,156.0 113.6,149.5 117.8,143.5 123.1,138.0 127.5,134.5 132.5,131.3 137.5,128.8 143.0,126.7 153.5,124.2 175.0,121.2 180.0,119.9 185.0,117.9 189.5,115.6 194.0,112.6 213.0,97.1 222.5,90.8 230.0,87.0 246.9,80.0 261.5,72.8 268.5,70.1 274.0,68.7 279.0,68.1 284.5,68.2 289.5,69.0 294.0,70.4 298.5,72.6 302.5,75.4 306.3,79.0 310.9,85.5 313.7,92.5 315.0,100.0 314.8,108.0 313.1,116.0 309.9,123.5 305.2,130.5 299.5,136.5 294.5,140.4 289.0,143.8 269.0,152.8 261.0,157.5 253.5,163.7 241.0,176.6 235.2,182.0 229.0,186.8 222.2,191.0 213.0,195.3 174.5,210.5 164.0,213.6ZM157.5,207.5 151.0,208.0 144.5,207.5 138.5,206.0 133.0,203.8 128.0,200.6 123.5,196.6 119.9,192.0 117.2,187.0 115.3,181.5 114.3,175.5 114.4,169.0 115.6,163.0 117.7,157.0 120.8,151.5 124.6,146.5 129.3,142.0 133.3,139.0 137.7,136.5 142.5,134.4 147.5,132.8 157.0,131.0 177.5,129.2 182.5,128.1 187.5,126.4 195.5,122.1 211.5,110.4 219.5,105.6 227.0,102.3 241.0,97.9 247.0,95.7 253.0,92.7 267.0,84.7 275.0,81.3 279.0,80.3 283.0,79.9 286.5,80.0 290.0,80.7 293.5,81.9 296.4,83.5 299.0,85.5 301.5,88.1 304.5,92.7 306.4,98.0 307.2,104.0 306.8,110.0 305.2,116.0 302.5,121.6 298.6,127.0 294.0,131.5 289.5,134.7 284.5,137.5 265.5,144.8 257.5,149.2 250.5,155.1 238.0,168.3 232.6,173.5 226.5,178.3 220.5,182.1 214.0,185.3 196.5,192.6 174.0,202.9 165.5,205.9ZM153.0,199.0 148.0,198.8 143.5,197.9 139.0,196.3 135.0,194.1 131.5,191.2 128.6,188.0 126.2,184.0 124.6,180.0 123.7,175.5 123.5,171.0 124.1,166.5 125.4,162.0 127.5,157.5 130.0,153.8 133.4,150.0 137.0,147.1 140.5,144.9 144.5,143.0 149.0,141.5 153.5,140.5 162.5,139.7 181.5,140.0 186.5,139.4 191.0,138.1 198.0,134.7 213.4,124.0 221.5,119.8 229.0,117.5 244.5,115.8 250.5,113.9 255.5,110.7 269.0,99.7 273.5,97.1 277.5,95.5 282.0,94.7 286.0,95.0 289.5,96.5 292.7,99.5 294.3,102.5 295.0,105.5 295.1,108.5 294.4,112.0 293.1,115.5 291.2,118.5 289.0,121.1 286.0,123.6 282.0,125.9 277.5,127.6 272.0,128.9 260.5,130.6 254.5,132.9 251.5,135.0 248.0,138.5 236.3,153.5 231.1,159.5 226.3,164.0 221.0,167.9 214.5,171.6 196.5,179.7 178.5,190.5 171.0,194.4 162.0,197.7 157.5,198.6ZM155.5,185.6 151.0,185.5 147.0,184.6 143.5,182.7 140.5,179.9 138.5,176.5 137.6,172.5 137.8,168.5 139.0,164.5 141.2,161.0 144.3,158.0 148.0,155.7 152.0,154.2 156.5,153.5 161.0,153.5 165.5,154.4 169.9,156.0 174.4,159.0 176.9,162.5 177.6,166.5 176.3,171.0 172.5,176.5 167.5,180.9 161.5,184.1Z" fill="none" stroke="#e44a4a" stroke-width="1" stroke-opacity="1" stroke-linejoin="round" />
<path d="M159.0,197.0 154.0,197.1 148.5,196.4 143.5,195.1 139.0,193.3 135.0,191.0 131.2,188.0 128.0,184.5 125.8,181.0 124.1,177.0 123.3,173.0 123.2,168.5 123.9,164.5 125.3,160.5 127.6,156.5 130.4,153.0 133.6,150.0 137.5,147.2 142.5,144.7 148.0,142.8 153.5,141.8 158.0,141.5 163.0,141.7 179.0,144.3 183.0,144.2 186.5,143.6 189.4,142.5 192.0,141.0 203.0,131.3 207.0,128.7 211.0,126.6 218.0,124.6 230.5,123.9 235.5,122.4 242.0,118.0 244.7,115.5 246.8,113.0 248.7,109.0 252.2,97.5 253.9,94.0 256.2,90.5 261.0,85.6 264.0,83.7 267.0,82.3 270.5,81.4 273.5,81.0 277.0,81.2 280.5,82.0 283.5,83.1 286.7,85.0 289.5,87.3 292.0,90.0 295.3,95.0 297.4,100.5 298.6,106.5 298.6,113.0 297.4,119.0 295.2,124.5 292.0,129.5 288.0,133.4 282.5,136.7 279.5,137.7 276.0,138.3 269.5,137.9 261.0,135.0 258.0,134.4 254.5,134.7 250.5,136.2 246.5,138.6 243.5,141.2 241.3,144.0 237.3,151.0 234.5,155.0 230.8,159.0 226.5,162.4 221.5,165.2 216.5,167.1 211.5,168.3 202.0,169.8 197.5,171.3 193.5,174.3 184.9,185.0 178.5,190.5 174.5,192.8 169.5,194.9 164.5,196.3ZM159.5,195.0 154.5,195.1 149.5,194.6 145.0,193.5 140.5,191.8 136.5,189.5 133.3,187.0 130.5,184.0 128.1,180.5 126.6,177.0 125.7,173.0 125.5,169.0 126.2,165.0 127.6,161.0 129.5,157.5 132.4,154.0 135.7,151.0 139.5,148.4 144.0,146.2 149.0,144.6 154.0,143.7 163.0,143.6 178.5,146.2 182.5,146.2 186.5,145.5 189.5,144.4 192.5,142.7 203.5,132.7 207.0,130.2 211.0,128.1 214.5,126.9 218.5,125.9 231.0,125.6 233.5,125.2 236.0,124.2 242.7,119.5 247.5,115.0 249.8,111.0 253.3,99.5 256.2,93.5 258.5,90.5 261.5,87.7 264.5,85.6 267.5,84.2 273.5,83.0 277.0,83.2 280.0,83.9 283.0,85.1 286.0,86.8 288.6,89.0 291.0,91.6 293.8,96.0 295.9,101.5 296.9,107.0 296.9,113.0 295.8,118.5 293.7,123.5 290.8,128.0 287.0,131.8 281.5,135.0 275.5,136.4 269.5,135.8 261.0,132.9 258.0,132.3 254.5,132.7 250.5,134.3 245.5,137.1 242.2,140.0 240.0,142.9 236.2,150.0 233.5,154.0 229.9,158.0 225.5,161.4 221.0,163.9 216.0,165.8 211.0,166.8 201.0,168.0 196.2,169.5 193.8,171.0 191.6,173.0 183.4,183.5 177.5,188.7 173.5,191.1 169.0,193.0 164.5,194.3ZM160.0,193.0 155.0,193.2 150.5,192.8 146.0,191.7 142.0,190.2 138.5,188.3 135.0,185.6 132.2,182.5 130.2,179.5 128.8,176.0 128.0,172.5 127.9,169.0 128.6,165.0 129.8,161.5 131.9,158.0 134.4,155.0 137.5,152.2 141.5,149.6 145.5,147.7 150.0,146.3 155.0,145.5 163.0,145.6 178.5,148.1 183.0,148.0 187.0,147.3 190.0,146.2 193.0,144.5 204.0,134.0 207.5,131.5 211.5,129.4 215.0,128.2 219.0,127.3 223.0,127.1 232.0,127.5 236.5,126.2 245.0,120.0 249.1,116.0 251.4,112.0 254.5,101.0 257.4,95.0 259.5,92.2 262.0,89.7 264.5,87.9 267.5,86.3 270.5,85.4 273.5,85.0 276.5,85.1 279.5,85.8 285.0,88.4 289.8,93.0 292.3,97.0 294.3,102.0 295.2,107.0 295.2,112.5 294.3,117.5 292.3,122.5 289.5,126.8 286.0,130.2 283.5,131.9 280.5,133.3 275.0,134.4 269.5,133.8 261.0,130.8 258.0,130.2 254.5,130.5 250.5,132.1 244.4,135.5 241.0,138.3 239.0,141.1 235.0,149.0 232.5,153.0 229.0,156.9 225.0,160.1 220.0,162.9 215.0,164.5 210.0,165.4 200.0,166.1 195.0,167.6 192.5,169.1 190.0,171.3 181.8,182.0 176.5,186.9 173.0,189.1 169.0,190.9 164.5,192.3ZM160.5,191.0 156.0,191.3 152.0,191.0 148.0,190.2 144.0,188.8 140.5,187.0 137.5,184.9 134.6,182.0 132.6,179.0 131.2,176.0 130.4,172.5 130.3,169.0 130.8,165.5 132.1,162.0 133.9,159.0 136.4,156.0 139.2,153.5 142.5,151.3 146.5,149.5 150.5,148.2 155.0,147.4 163.0,147.5 174.5,149.7 179.0,150.2 184.5,149.9 189.5,148.7 192.0,147.5 194.5,145.6 205.0,134.9 208.5,132.5 212.0,130.7 216.5,129.2 221.0,128.7 234.5,129.7 237.0,129.1 239.0,127.9 248.5,120.0 251.0,117.3 253.0,113.2 255.7,103.0 257.7,98.0 261.2,93.0 266.0,89.2 269.0,87.9 272.0,87.2 275.0,87.0 278.0,87.4 281.0,88.4 283.9,90.0 286.5,92.1 288.7,94.5 291.1,98.5 292.8,103.0 293.6,108.0 293.4,113.0 292.5,117.5 290.5,122.0 287.8,126.0 284.5,129.0 279.5,131.6 274.5,132.4 269.0,131.6 261.0,128.5 258.0,127.8 254.5,127.9 251.0,129.2 242.5,133.6 239.9,135.5 238.0,138.4 234.4,147.0 232.2,151.0 228.5,155.5 224.5,158.9 219.5,161.6 214.5,163.2 209.5,163.9 199.0,164.1 196.0,164.7 193.5,165.7 190.7,167.5 188.0,170.0 180.5,180.3 175.6,185.0 172.0,187.3 168.5,189.0 164.5,190.3ZM277.5,130.1 273.5,130.4 269.0,129.6 259.0,125.2 253.5,123.5 252.7,122.5 257.2,104.0 259.7,98.0 262.3,94.5 265.5,91.8 269.0,90.0 272.5,89.1 276.0,89.1 279.0,89.7 282.5,91.4 285.3,93.5 287.9,96.5 289.6,99.5 291.0,103.0 291.8,107.0 291.9,111.0 291.3,115.0 290.3,118.5 288.5,122.0 286.2,125.0 283.5,127.4 280.5,129.1ZM161.0,189.0 157.0,189.4 153.0,189.2 149.0,188.4 145.5,187.3 142.0,185.5 139.2,183.5 136.7,181.0 135.0,178.5 133.6,175.5 132.8,172.5 132.7,169.0 133.1,166.0 134.2,163.0 135.9,160.0 138.4,157.0 141.0,154.7 144.5,152.5 148.0,151.0 152.0,149.9 156.5,149.3 163.5,149.6 178.0,152.4 183.0,152.4 187.5,151.8 191.0,150.7 193.5,149.1 196.0,146.8 204.7,137.0 208.6,134.0 213.0,131.8 218.0,130.4 223.5,130.3 230.5,131.8 233.3,133.0 234.6,134.0 235.3,135.5 235.3,138.0 234.3,142.5 232.9,146.5 229.4,152.5 224.5,157.2 219.5,160.1 214.0,161.8 208.5,162.3 198.0,161.8 195.0,162.2 192.5,163.2 189.5,165.1 186.5,167.9 179.1,178.5 174.8,183.0 168.5,186.8 165.0,188.1ZM277.5,128.0 275.0,128.4 272.0,128.3 269.0,127.5 266.0,126.3 259.3,122.0 257.8,120.0 257.2,118.0 257.2,113.5 258.1,107.5 259.3,103.0 260.9,99.5 263.0,96.5 266.0,93.7 269.0,92.1 272.5,91.1 275.5,91.0 278.5,91.7 281.5,93.0 284.0,94.9 286.4,97.5 288.0,100.1 289.3,103.5 290.1,107.0 290.2,110.5 289.8,114.0 288.8,117.5 287.3,120.5 285.5,123.0 283.0,125.4 280.5,126.9ZM161.0,187.1 154.0,187.3 150.5,186.8 147.0,185.7 144.0,184.3 141.0,182.2 138.8,180.0 137.0,177.5 135.9,175.0 135.1,172.0 135.0,169.0 135.5,166.0 136.7,163.0 138.2,160.5 142.7,156.0 146.0,154.0 150.0,152.4 154.0,151.5 158.0,151.1 164.5,151.7 179.0,155.0 185.5,155.4 190.0,155.2 192.5,154.1 194.5,152.2 201.6,142.5 205.0,138.6 208.5,135.7 212.0,133.7 217.5,132.0 223.0,131.8 228.5,133.4 230.3,134.5 231.8,136.0 232.6,138.0 232.7,140.5 231.2,146.5 228.0,152.0 223.5,156.3 218.0,159.2 212.0,160.6 206.0,160.4 195.5,158.4 193.5,158.5 191.5,159.1 188.5,161.4 185.5,164.6 177.9,176.5 174.0,180.9 171.0,183.2 168.0,184.9 164.5,186.2ZM277.0,126.1 274.5,126.4 271.5,126.2 266.0,124.0 263.2,122.0 261.2,120.0 260.1,118.0 259.5,115.5 259.3,112.0 259.9,107.5 260.8,104.0 262.4,100.5 264.5,97.6 266.8,95.5 269.5,94.0 272.5,93.1 275.5,93.0 278.0,93.6 280.5,94.7 283.0,96.5 284.9,98.5 286.5,101.1 287.7,104.0 288.4,107.0 288.5,110.5 288.2,113.5 287.3,116.5 286.0,119.2 284.0,121.9 282.0,123.8 279.5,125.3ZM212.5,159.0 208.5,159.0 204.5,158.2 201.0,156.6 199.2,155.0 198.6,153.5 198.8,151.5 199.8,148.5 201.7,145.0 204.2,141.5 207.0,138.6 210.0,136.3 213.5,134.5 217.0,133.5 220.5,133.2 224.0,133.7 227.1,135.0 229.7,137.5 230.6,140.5 230.1,145.0 228.0,149.5 225.2,153.0 221.5,156.0 217.0,158.1ZM157.0,185.5 151.5,185.0 146.5,183.2 142.4,180.5 139.4,177.0 137.7,173.0 137.4,168.5 138.7,164.0 141.4,160.0 144.5,157.3 148.6,155.0 153.0,153.6 158.0,153.1 162.5,153.4 167.5,154.5 176.6,157.5 180.7,159.5 181.8,161.5 181.0,165.0 177.4,173.0 173.9,178.0 170.5,181.1 166.5,183.4 162.0,184.9ZM277.0,124.1 274.5,124.5 272.0,124.3 269.5,123.5 267.0,122.2 264.8,120.5 263.1,118.5 262.0,116.5 261.4,114.0 261.3,111.0 261.6,107.5 262.5,104.5 263.8,101.5 265.5,99.2 267.5,97.3 270.0,95.9 272.5,95.1 277.0,95.3 279.5,96.3 281.5,97.6 283.5,99.7 285.0,102.0 286.6,107.0 286.6,112.5 285.8,115.5 284.7,118.0 281.5,121.8 279.5,123.1ZM212.5,157.5 209.5,157.4 206.5,156.7 204.0,155.5 202.5,154.0 201.7,152.0 201.7,150.0 202.4,147.5 203.9,144.5 206.1,141.5 208.5,139.1 211.0,137.3 214.0,135.8 217.0,135.0 220.0,134.8 223.0,135.2 225.5,136.3 227.8,138.5 228.7,141.5 228.4,145.0 226.7,149.0 224.0,152.3 220.5,155.0 216.5,156.8ZM158.5,183.5 155.0,183.5 151.5,182.9 148.5,181.9 145.5,180.2 143.5,178.5 141.5,176.0 140.3,173.5 139.8,170.5 140.0,167.5 140.8,165.0 142.2,162.5 144.4,160.0 147.0,158.1 150.0,156.5 153.5,155.5 157.0,155.0 163.5,155.5 170.8,158.0 175.6,161.0 176.7,162.5 177.2,164.5 176.8,167.5 175.5,171.5 173.8,174.5 171.5,177.5 168.5,180.0 165.5,181.7 162.0,182.9Z" fill="none" stroke="#3535e8" stroke-width="0.85" stroke-opacity="1" stroke-linejoin="round" />
<path d="M158.5,192.5 154.0,192.5 150.0,192.0 146.0,191.0 142.0,189.4 138.5,187.4 135.4,185.0 132.7,182.0 130.8,179.0 129.4,175.5 128.8,172.0 128.7,168.5 129.4,165.0 130.7,161.5 132.8,158.0 135.4,155.0 138.2,152.5 142.0,150.1 146.0,148.2 150.5,146.9 155.0,146.2 163.0,146.2 178.5,148.8 183.0,148.7 187.0,148.0 190.0,147.0 193.0,145.2 204.1,134.5 208.0,131.7 212.0,129.7 216.0,128.4 219.5,127.8 223.5,127.6 232.0,128.2 234.5,127.8 236.5,127.1 246.0,120.0 249.6,116.5 251.9,112.5 255.2,101.0 257.8,95.5 260.0,92.5 262.5,90.1 265.0,88.3 268.0,86.8 271.0,86.0 274.0,85.7 277.0,85.9 280.0,86.6 283.0,88.0 285.5,89.6 289.8,94.0 292.2,98.0 293.9,103.0 294.7,108.0 294.6,113.0 293.5,118.0 291.6,122.5 288.9,126.5 285.5,129.8 280.5,132.6 275.0,133.7 269.5,133.1 261.0,130.0 258.0,129.4 254.5,129.7 250.5,131.3 243.8,135.0 240.5,137.7 238.5,140.6 234.7,148.5 232.3,152.5 228.8,156.5 224.5,159.9 219.5,162.6 214.5,164.2 209.5,164.9 199.5,165.5 194.5,167.0 192.0,168.5 189.5,170.7 181.3,181.5 175.9,186.5 172.0,188.8 167.5,190.8 163.0,191.9ZM277.5,129.5 272.5,129.8 267.5,128.5 256.3,123.0 255.1,122.0 254.6,120.5 257.1,106.0 258.4,102.0 260.0,98.5 262.5,95.1 265.5,92.4 269.0,90.5 272.5,89.7 276.0,89.6 279.0,90.3 282.0,91.7 285.0,93.9 287.5,96.8 289.3,100.0 290.6,103.5 291.3,107.0 291.4,111.0 291.0,114.5 289.9,118.0 288.2,121.5 286.0,124.4 283.5,126.7 280.5,128.5ZM160.5,188.6 153.0,188.6 149.0,187.9 145.5,186.7 142.3,185.0 139.6,183.0 137.1,180.5 135.4,178.0 134.1,175.0 133.4,172.0 133.3,169.0 133.8,166.0 134.9,163.0 136.6,160.0 138.7,157.5 141.5,155.1 144.8,153.0 148.5,151.4 152.5,150.3 156.5,149.8 163.5,150.1 178.5,153.1 183.5,153.1 188.0,152.5 191.5,151.3 194.0,149.6 204.7,137.5 208.5,134.5 213.0,132.2 218.0,130.8 223.5,130.7 229.5,132.1 232.0,133.3 233.5,134.5 234.3,136.0 234.5,138.5 233.9,142.0 232.6,146.0 229.3,152.0 224.5,156.7 219.5,159.7 213.5,161.5 208.0,161.8 197.5,161.0 195.0,161.3 192.5,162.2 189.5,164.1 186.3,167.0 178.7,178.0 174.5,182.5 171.5,184.6 168.0,186.5 164.5,187.7ZM274.5,126.0 272.0,125.8 269.0,125.0 266.0,123.5 263.4,121.5 260.7,118.0 260.0,115.7 259.8,113.0 260.0,109.0 260.9,105.0 262.0,102.0 263.8,99.0 266.0,96.7 268.5,94.9 271.0,93.9 274.0,93.4 277.0,93.7 279.5,94.6 282.0,96.2 283.9,98.0 285.7,100.5 287.0,103.2 287.9,106.5 288.2,109.5 287.3,115.5 286.0,118.5 284.3,121.0 282.3,123.0 280.0,124.5 277.5,125.5ZM214.0,158.5 210.0,158.7 206.5,158.3 203.0,157.0 200.7,155.5 199.7,154.0 199.4,152.0 200.0,149.5 201.3,146.5 203.8,142.5 206.5,139.5 209.5,137.0 212.5,135.3 216.0,134.1 219.5,133.6 223.0,133.9 226.2,135.0 228.8,137.0 230.1,140.0 229.9,144.0 228.5,148.0 226.0,151.7 222.5,155.0 218.5,157.2ZM158.5,185.0 153.0,184.8 148.0,183.4 143.8,181.0 140.4,177.5 138.4,173.5 137.9,169.0 138.8,165.0 141.2,161.0 144.3,158.0 148.0,155.7 152.5,154.2 157.5,153.5 162.0,153.7 167.0,154.8 174.8,157.5 179.0,159.7 180.0,160.7 180.5,162.0 180.2,165.0 177.3,172.0 174.1,177.0 171.0,180.1 167.4,182.5 163.0,184.2ZM275.5,122.0 273.0,122.1 271.0,121.6 267.2,119.5 264.5,116.0 263.4,112.0 263.9,106.5 266.0,102.0 267.5,100.2 269.5,98.6 273.5,97.3 277.5,97.9 281.0,100.1 283.7,104.0 284.8,108.5 284.5,113.0 282.5,117.5 279.5,120.5ZM214.5,155.6 212.0,155.7 209.5,155.4 207.1,154.5 205.5,153.2 204.6,151.5 204.3,150.0 204.5,148.0 205.4,145.5 208.7,141.0 211.0,139.1 213.5,137.7 218.5,136.5 221.0,136.7 223.0,137.4 225.2,139.0 226.5,141.5 226.5,144.5 225.5,147.5 223.5,150.5 221.0,152.8 218.0,154.5ZM160.0,181.0 154.5,181.2 149.5,179.7 145.5,176.9 143.1,173.0 142.6,171.0 142.6,168.5 144.0,164.5 147.0,161.0 151.5,158.4 154.5,157.6 157.5,157.2 161.0,157.4 164.0,158.1 167.5,159.4 170.0,160.9 171.8,162.5 172.9,164.5 173.4,167.0 173.0,169.5 171.9,172.5 170.3,175.0 168.0,177.4 165.6,179.0 163.0,180.2ZM276.0,118.0 273.0,118.2 270.0,116.9 267.9,114.5 266.9,111.5 267.0,108.0 268.5,104.5 270.5,102.4 273.5,101.2 276.3,101.5 278.8,103.0 280.6,105.5 281.5,108.5 281.4,111.5 280.3,114.5 278.5,116.7ZM215.5,152.5 212.0,152.6 209.5,151.5 208.7,150.5 208.2,149.0 208.6,146.0 210.5,143.0 213.8,140.5 217.5,139.5 220.5,139.9 222.1,141.0 223.0,142.5 223.3,144.5 222.8,146.5 221.7,148.5 220.0,150.3 218.0,151.6ZM158.0,177.5 154.0,177.2 150.5,175.6 148.1,173.0 147.2,170.0 147.9,166.5 150.0,163.8 153.5,161.7 157.5,161.0 161.5,161.5 164.9,163.0 167.0,165.1 168.0,168.0 167.3,171.5 165.1,174.5 162.0,176.5ZM275.5,114.2 274.0,114.4 272.5,114.0 271.0,112.6 270.3,111.0 270.2,109.0 271.0,107.0 272.0,105.8 273.5,105.1 275.0,105.1 276.5,105.8 277.5,107.0 278.1,108.5 278.2,110.5 277.8,112.0 276.6,113.5ZM216.0,149.7 214.0,149.8 212.5,149.3 211.6,148.0 211.6,146.5 212.5,144.7 214.0,143.3 216.0,142.5 218.0,142.4 219.1,143.0 219.9,144.0 219.9,146.0 218.5,148.2ZM159.0,173.6 157.0,173.8 155.1,173.5 153.5,172.7 152.4,171.5 151.8,170.0 151.9,168.5 152.6,167.0 154.0,165.8 156.0,164.9 158.5,164.8 160.9,165.5 162.6,167.0 163.1,169.0 162.6,171.0 161.2,172.5Z" fill="none" stroke="#e8e030" stroke-width="0.95" stroke-opacity="1" stroke-linejoin="round" />
<path d="M261.5,62.5 261.3,64.7 260.8,66.8 260.0,68.8 258.9,70.8 257.5,72.5 255.8,74.2 253.9,75.6 251.8,76.8 249.5,77.7 247.0,78.4 244.5,78.9 242.0,79.0 239.5,78.9 237.0,78.4 234.5,77.7 232.2,76.8 230.1,75.6 228.2,74.2 226.5,72.5 225.1,70.8 224.0,68.8 223.2,66.8 222.7,64.7 222.5,62.5 222.7,60.3 223.2,58.2 224.0,56.2 225.1,54.3 226.5,52.5 228.2,50.8 230.1,49.4 232.2,48.2 234.5,47.3 237.0,46.6 239.5,46.1 242.0,46.0 244.5,46.1 247.0,46.6 249.5,47.3 251.8,48.2 253.9,49.4 255.8,50.8 257.5,52.5 258.9,54.2 260.0,56.2 260.8,58.2 261.3,60.3ZM255.5,62.5 255.4,64.2 255.0,65.9 254.4,67.5 253.6,69.0 252.5,70.4 251.3,71.7 249.8,72.8 248.2,73.8 246.5,74.5 244.8,75.1 242.9,75.4 241.0,75.5 239.1,75.4 237.2,75.1 235.5,74.5 233.8,73.8 232.2,72.8 230.7,71.7 229.5,70.4 228.4,69.0 227.6,67.5 227.0,65.9 226.6,64.2 226.5,62.5 226.6,60.8 227.0,59.1 227.6,57.5 228.4,56.0 229.5,54.6 230.7,53.3 232.2,52.2 233.8,51.2 235.5,50.5 237.2,49.9 239.1,49.6 241.0,49.5 242.9,49.6 244.8,49.9 246.5,50.5 248.2,51.2 249.8,52.2 251.3,53.3 252.5,54.6 253.6,56.0 254.4,57.5 255.0,59.1 255.4,60.8ZM252.0,62.5 251.9,63.9 251.6,65.3 251.1,66.7 250.4,68.0 249.5,69.2 248.5,70.3 247.3,71.2 246.0,72.0 244.6,72.7 243.1,73.1 241.6,73.4 240.0,73.5 238.4,73.4 236.9,73.1 235.4,72.7 234.0,72.0 232.7,71.2 231.5,70.3 230.5,69.2 229.6,68.0 228.9,66.7 228.4,65.3 228.1,63.9 228.0,62.5 228.1,61.1 228.4,59.7 228.9,58.3 229.6,57.0 230.5,55.8 231.5,54.7 232.7,53.8 234.0,53.0 235.4,52.3 236.9,51.9 238.4,51.6 240.0,51.5 241.6,51.6 243.1,51.9 244.6,52.3 246.0,53.0 247.3,53.8 248.5,54.7 249.5,55.8 250.4,57.0 251.1,58.3 251.6,59.7 251.9,61.1ZM249.5,62.5 249.4,63.7 249.2,65.0 248.7,66.1 248.2,67.2 247.4,68.3 246.6,69.2 245.6,70.0 244.5,70.7 243.3,71.3 242.1,71.7 240.8,71.9 239.5,72.0 238.2,71.9 236.9,71.7 235.7,71.3 234.5,70.7 233.4,70.0 232.4,69.2 231.6,68.3 230.8,67.2 230.3,66.1 229.8,65.0 229.6,63.7 229.5,62.5 229.6,61.3 229.8,60.0 230.3,58.9 230.8,57.8 231.6,56.7 232.4,55.8 233.4,55.0 234.5,54.3 235.7,53.7 236.9,53.3 238.2,53.1 239.5,53.0 240.8,53.1 242.1,53.3 243.3,53.7 244.5,54.3 245.6,55.0 246.6,55.8 247.4,56.7 248.2,57.7 248.7,58.9 249.2,60.0 249.4,61.3Z" fill="none" stroke="#3535e8" stroke-width="0.9" stroke-opacity="1" stroke-linejoin="round" />
<circle cx="238.6" cy="62.6" r="6" fill="url(#hatchY)" stroke="#e0d020" stroke-width="0.8"/>
<path d="M201.7,126.0 204.1,124.3 207.5,123.2 211.7,122.6 216.4,122.4 221.1,122.5 225.6,122.8 229.5,123.2 232.6,123.7 234.9,124.3 236.7,125.1 238.2,126.1 239.4,127.3 240.2,128.6 240.9,130.0 241.4,131.5 241.7,132.9 241.8,134.4 241.7,135.9 241.3,137.5 240.7,139.2 239.9,140.9 239.0,142.7 238.1,144.6 237.1,146.6 236.0,148.8 234.7,151.2 233.3,153.8 231.8,156.5 230.3,159.0 228.7,161.3 227.2,163.4 225.7,164.9 224.3,166.0 222.8,166.9 221.3,167.5 219.9,167.9 218.4,168.0 217.0,167.9 215.6,167.6 214.3,167.1 213.0,166.5 211.7,165.6 210.4,164.6 209.2,163.4 208.0,161.9 206.9,160.2 206.0,158.1 205.1,155.7 204.2,152.7 203.0,148.9 201.9,144.7 200.9,140.3 200.2,135.9 200.0,131.9 200.4,128.5Z" fill="none" stroke="#e44a4a" stroke-width="1" stroke-opacity="1" stroke-linejoin="round" />
<path d="M201.7,150.0 197.9,156.5 190.4,156.5 186.7,150.0 190.4,143.5 197.9,143.5Z" fill="none" stroke="#7a2a8a" stroke-width="1.1"/>
<path d="M154.5,166.5l5.6,5.6M154.5,172.1l5.6,-5.6M213.3,142.6l5.6,5.6M213.3,148.2l5.6,-5.6M271.5,106.9l5.6,5.6M271.5,112.5l5.6,-5.6M235.8,59.8l5.6,5.6M235.8,65.4l5.6,-5.6" stroke="#c03060" stroke-width="1" fill="none"/>
<path d="M206.2,146.6h7.0M209.7,143.1v7.0" stroke="#fff" stroke-width="1.1"/>
<path d="M266.7,171.4l6,6M266.7,177.4l6,-6" stroke="#3535e8" stroke-width="1"/><circle cx="269.7" cy="174.4" r="3" fill="none" stroke="#3535e8" stroke-width="0.8"/>
<circle cx="320.7" cy="23" r="2.7" fill="none" stroke="#e8e030" stroke-width="0.9"/>
<circle cx="182.5" cy="127.9" r="5.3" fill="none" stroke="#e8e030" stroke-width="0.9"/>
<circle cx="246.3" cy="147.8" r="4.6" fill="none" stroke="#e8e030" stroke-width="0.9"/>
<circle cx="232.6" cy="132.9" r="5.7" fill="none" stroke="#e8e030" stroke-width="0.9"/>
</g></g>
<rect x="56.5" y="11.5" width="277" height="277" fill="none" stroke="#9a9a9a" stroke-width="0.6"/>
<g clip-path="url(#cpb)"><g filter="url(#pb)">
<rect x="62" y="355" width="278" height="278" fill="#f3f3f3"/>
<rect x="62" y="355" width="278" height="278" filter="url(#mottle)" opacity="0.18"/>
<circle cx="328.4" cy="394.0" r="1.32" fill="url(#fg)"/><circle cx="339.6" cy="406.2" r="1.47" fill="url(#fg)"/><circle cx="243.1" cy="451.1" r="2.70" fill="url(#fg)"/><circle cx="126.4" cy="621.7" r="1.79" fill="url(#fg)"/><circle cx="229.1" cy="614.1" r="2.38" fill="url(#fg)"/><circle cx="318.8" cy="551.9" r="1.36" fill="url(#fg)"/><circle cx="307.0" cy="518.9" r="1.78" fill="url(#fg)"/><circle cx="114.9" cy="591.2" r="2.21" fill="url(#fg)"/><circle cx="322.8" cy="570.2" r="2.82" fill="url(#fg)"/><circle cx="219.4" cy="549.2" r="2.26" fill="url(#fg)"/><circle cx="133.8" cy="621.0" r="1.78" fill="url(#fg)"/><circle cx="279.1" cy="620.4" r="2.32" fill="url(#fg)"/><circle cx="101.5" cy="584.4" r="2.35" fill="url(#fg)"/><circle cx="113.4" cy="368.7" r="2.13" fill="url(#fg)"/><circle cx="71.0" cy="612.2" r="2.09" fill="url(#fg)"/><circle cx="205.8" cy="468.8" r="2.34" fill="url(#fg)"/><circle cx="316.8" cy="440.4" r="1.88" fill="url(#fg)"/><circle cx="224.0" cy="437.7" r="2.23" fill="url(#fg)"/><circle cx="213.0" cy="475.5" r="2.36" fill="url(#fg)"/><circle cx="208.9" cy="379.5" r="2.87" fill="url(#fg)"/><circle cx="160.9" cy="475.0" r="1.92" fill="url(#fg)"/><circle cx="320.4" cy="619.7" r="2.10" fill="url(#fg)"/><circle cx="173.4" cy="381.8" r="2.71" fill="url(#fg)"/><circle cx="109.6" cy="507.0" r="1.84" fill="url(#fg)"/><circle cx="153.3" cy="454.3" r="1.59" fill="url(#fg)"/><circle cx="72.3" cy="503.9" r="2.55" fill="url(#fg)"/><circle cx="241.9" cy="411.0" r="2.39" fill="url(#fg)"/><circle cx="76.5" cy="469.2" r="2.60" fill="url(#fg)"/><circle cx="318.0" cy="483.0" r="2.63" fill="url(#fg)"/><circle cx="200.6" cy="500.7" r="2.22" fill="url(#fg)"/><circle cx="337.6" cy="561.7" r="2.04" fill="url(#fg)"/><circle cx="264.2" cy="533.8" r="1.85" fill="url(#fg)"/><circle cx="280.0" cy="582.9" r="2.25" fill="url(#fg)"/><circle cx="324.1" cy="360.1" r="2.08" fill="url(#fg)"/><circle cx="238.4" cy="449.7" r="1.55" fill="url(#fg)"/><circle cx="254.4" cy="475.8" r="1.71" fill="url(#fg)"/><circle cx="73.6" cy="623.9" r="1.84" fill="url(#fg)"/><circle cx="94.8" cy="415.1" r="1.69" fill="url(#fg)"/><circle cx="302.8" cy="405.2" r="1.72" fill="url(#fg)"/><circle cx="89.1" cy="485.6" r="1.61" fill="url(#fg)"/><circle cx="157.7" cy="559.3" r="2.76" fill="url(#fg)"/><circle cx="293.9" cy="365.6" r="1.88" fill="url(#fg)"/><circle cx="298.0" cy="364.2" r="1.61" fill="url(#fg)"/><circle cx="198.2" cy="461.3" r="2.48" fill="url(#fg)"/><circle cx="261.6" cy="484.1" r="1.68" fill="url(#fg)"/><circle cx="126.1" cy="429.0" r="1.38" fill="url(#fg)"/><circle cx="247.1" cy="398.9" r="2.70" fill="url(#fg)"/><circle cx="241.6" cy="370.8" r="2.08" fill="url(#fg)"/><circle cx="229.8" cy="366.7" r="2.06" fill="url(#fg)"/><circle cx="70.3" cy="568.0" r="1.29" fill="url(#fg)"/><circle cx="237.7" cy="629.0" r="2.63" fill="url(#fg)"/><circle cx="126.9" cy="503.6" r="1.50" fill="url(#fg)"/><circle cx="157.2" cy="595.2" r="2.59" fill="url(#fg)"/><circle cx="64.5" cy="460.6" r="2.30" fill="url(#fg)"/><circle cx="110.8" cy="578.1" r="2.71" fill="url(#fg)"/><circle cx="215.3" cy="455.7" r="2.64" fill="url(#fg)"/><circle cx="204.6" cy="407.4" r="1.72" fill="url(#fg)"/><circle cx="106.2" cy="588.2" r="2.10" fill="url(#fg)"/><circle cx="255.7" cy="582.2" r="2.84" fill="url(#fg)"/><circle cx="115.0" cy="467.8" r="2.68" fill="url(#fg)"/><circle cx="273.7" cy="462.5" r="2.33" fill="url(#fg)"/><circle cx="116.2" cy="400.0" r="1.36" fill="url(#fg)"/><circle cx="167.6" cy="420.6" r="2.11" fill="url(#fg)"/><circle cx="331.5" cy="397.5" r="2.17" fill="url(#fg)"/><circle cx="302.4" cy="521.4" r="2.12" fill="url(#fg)"/><circle cx="275.4" cy="361.1" r="2.80" fill="url(#fg)"/><circle cx="252.8" cy="579.2" r="2.60" fill="url(#fg)"/><circle cx="89.4" cy="373.5" r="1.57" fill="url(#fg)"/><circle cx="202.3" cy="615.9" r="2.73" fill="url(#fg)"/><circle cx="176.5" cy="528.0" r="2.46" fill="url(#fg)"/><circle cx="154.4" cy="624.8" r="2.79" fill="url(#fg)"/><circle cx="264.1" cy="605.6" r="2.56" fill="url(#fg)"/><circle cx="243.3" cy="444.3" r="1.73" fill="url(#fg)"/><circle cx="128.3" cy="370.9" r="2.76" fill="url(#fg)"/><circle cx="144.9" cy="361.6" r="1.79" fill="url(#fg)"/><circle cx="90.7" cy="478.8" r="1.81" fill="url(#fg)"/><circle cx="110.8" cy="487.5" r="1.94" fill="url(#fg)"/><circle cx="160.4" cy="581.1" r="1.77" fill="url(#fg)"/><circle cx="212.5" cy="599.1" r="2.81" fill="url(#fg)"/><circle cx="166.2" cy="366.3" r="2.80" fill="url(#fg)"/><circle cx="204.9" cy="415.5" r="1.49" fill="url(#fg)"/><circle cx="128.4" cy="441.3" r="1.50" fill="url(#fg)"/><circle cx="75.6" cy="631.4" r="2.59" fill="url(#fg)"/><circle cx="93.5" cy="488.6" r="2.56" fill="url(#fg)"/><circle cx="202.2" cy="374.2" r="1.82" fill="url(#fg)"/><circle cx="167.8" cy="609.2" r="2.21" fill="url(#fg)"/><circle cx="189.6" cy="530.3" r="1.36" fill="url(#fg)"/><circle cx="252.8" cy="579.6" r="2.35" fill="url(#fg)"/><circle cx="162.3" cy="434.5" r="1.30" fill="url(#fg)"/><circle cx="84.8" cy="398.0" r="2.01" fill="url(#fg)"/><circle cx="278.4" cy="415.4" r="2.04" fill="url(#fg)"/><circle cx="238.8" cy="530.0" r="1.31" fill="url(#fg)"/><circle cx="317.9" cy="517.7" r="1.77" fill="url(#fg)"/><circle cx="128.5" cy="546.5" r="2.77" fill="url(#fg)"/><circle cx="155.8" cy="465.7" r="2.17" fill="url(#fg)"/><circle cx="110.6" cy="467.8" r="2.75" fill="url(#fg)"/><circle cx="216.7" cy="583.8" r="1.70" fill="url(#fg)"/><circle cx="303.5" cy="572.6" r="1.64" fill="url(#fg)"/><circle cx="209.3" cy="544.6" r="2.20" fill="url(#fg)"/><circle cx="229.3" cy="421.7" r="2.17" fill="url(#fg)"/><circle cx="160.6" cy="576.8" r="1.88" fill="url(#fg)"/><circle cx="334.3" cy="516.4" r="1.64" fill="url(#fg)"/><circle cx="177.6" cy="390.6" r="2.46" fill="url(#fg)"/><circle cx="74.8" cy="523.2" r="1.77" fill="url(#fg)"/><circle cx="278.0" cy="390.3" r="2.37" fill="url(#fg)"/><circle cx="260.5" cy="419.8" r="1.49" fill="url(#fg)"/><circle cx="165.6" cy="535.4" r="1.70" fill="url(#fg)"/><circle cx="64.4" cy="477.7" r="2.57" fill="url(#fg)"/><circle cx="105.9" cy="616.5" r="2.09" fill="url(#fg)"/><circle cx="106.6" cy="382.8" r="1.87" fill="url(#fg)"/><circle cx="194.4" cy="403.8" r="1.41" fill="url(#fg)"/><circle cx="201.4" cy="425.6" r="1.99" fill="url(#fg)"/><circle cx="187.3" cy="548.9" r="2.20" fill="url(#fg)"/><circle cx="125.5" cy="405.0" r="2.65" fill="url(#fg)"/><circle cx="76.0" cy="389.2" r="1.39" fill="url(#fg)"/><circle cx="291.7" cy="505.4" r="2.76" fill="url(#fg)"/><circle cx="236.1" cy="448.2" r="1.97" fill="url(#fg)"/><circle cx="265.6" cy="419.3" r="2.56" fill="url(#fg)"/><circle cx="175.3" cy="366.7" r="1.83" fill="url(#fg)"/><circle cx="217.8" cy="395.7" r="2.73" fill="url(#fg)"/><circle cx="319.5" cy="497.2" r="2.73" fill="url(#fg)"/><circle cx="253.8" cy="504.6" r="1.53" fill="url(#fg)"/><circle cx="326.9" cy="610.7" r="2.00" fill="url(#fg)"/><circle cx="169.0" cy="375.5" r="2.27" fill="url(#fg)"/><circle cx="299.7" cy="463.1" r="1.74" fill="url(#fg)"/><circle cx="232.4" cy="575.6" r="1.55" fill="url(#fg)"/><circle cx="140.5" cy="533.6" r="1.35" fill="url(#fg)"/><circle cx="289.1" cy="442.7" r="2.61" fill="url(#fg)"/><circle cx="188.5" cy="401.0" r="1.31" fill="url(#fg)"/><circle cx="93.5" cy="427.4" r="2.49" fill="url(#fg)"/><circle cx="282.7" cy="530.5" r="1.77" fill="url(#fg)"/><circle cx="246.6" cy="558.6" r="1.87" fill="url(#fg)"/><circle cx="84.7" cy="485.4" r="1.64" fill="url(#fg)"/><circle cx="114.4" cy="463.6" r="1.40" fill="url(#fg)"/><circle cx="311.6" cy="433.0" r="2.72" fill="url(#fg)"/><circle cx="267.0" cy="358.0" r="2.72" fill="url(#fg)"/><circle cx="287.0" cy="501.1" r="2.69" fill="url(#fg)"/><circle cx="195.0" cy="362.0" r="1.52" fill="url(#fg)"/><circle cx="148.3" cy="593.5" r="2.61" fill="url(#fg)"/><circle cx="94.8" cy="452.3" r="1.46" fill="url(#fg)"/><circle cx="125.5" cy="452.9" r="1.94" fill="url(#fg)"/><circle cx="103.7" cy="537.8" r="1.67" fill="url(#fg)"/><circle cx="309.4" cy="488.8" r="1.97" fill="url(#fg)"/><circle cx="274.9" cy="450.9" r="1.69" fill="url(#fg)"/><circle cx="96.1" cy="436.9" r="1.66" fill="url(#fg)"/><circle cx="266.4" cy="453.7" r="2.41" fill="url(#fg)"/><circle cx="138.6" cy="374.4" r="1.77" fill="url(#fg)"/><circle cx="171.2" cy="608.0" r="1.60" fill="url(#fg)"/><circle cx="120.8" cy="398.4" r="1.69" fill="url(#fg)"/><circle cx="329.0" cy="614.1" r="1.64" fill="url(#fg)"/><circle cx="75.9" cy="490.2" r="2.22" fill="url(#fg)"/><circle cx="93.0" cy="471.2" r="2.51" fill="url(#fg)"/><circle cx="62.4" cy="554.8" r="2.38" fill="url(#fg)"/><circle cx="280.6" cy="490.3" r="2.02" fill="url(#fg)"/><circle cx="206.2" cy="392.9" r="2.10" fill="url(#fg)"/><circle cx="128.6" cy="444.2" r="1.35" fill="url(#fg)"/><circle cx="106.1" cy="370.4" r="2.15" fill="url(#fg)"/><circle cx="127.7" cy="509.5" r="2.09" fill="url(#fg)"/><circle cx="126.8" cy="390.3" r="2.23" fill="url(#fg)"/><circle cx="250.1" cy="546.9" r="2.09" fill="url(#fg)"/><circle cx="223.2" cy="361.8" r="1.77" fill="url(#fg)"/><circle cx="284.6" cy="459.9" r="1.45" fill="url(#fg)"/><circle cx="179.0" cy="586.9" r="1.44" fill="url(#fg)"/><circle cx="93.1" cy="493.5" r="2.68" fill="url(#fg)"/><circle cx="170.5" cy="424.0" r="2.51" fill="url(#fg)"/><circle cx="88.2" cy="437.1" r="2.24" fill="url(#fg)"/><circle cx="298.1" cy="594.4" r="1.80" fill="url(#fg)"/><circle cx="136.0" cy="456.0" r="1.47" fill="url(#fg)"/><circle cx="137.8" cy="568.1" r="2.85" fill="url(#fg)"/><circle cx="137.1" cy="375.1" r="2.46" fill="url(#fg)"/><circle cx="330.6" cy="575.8" r="1.94" fill="url(#fg)"/><circle cx="268.8" cy="566.4" r="2.47" fill="url(#fg)"/><circle cx="199.0" cy="632.7" r="2.53" fill="url(#fg)"/><circle cx="127.3" cy="474.7" r="1.42" fill="url(#fg)"/><circle cx="166.2" cy="582.2" r="2.06" fill="url(#fg)"/><circle cx="207.7" cy="571.6" r="1.42" fill="url(#fg)"/><circle cx="160.3" cy="489.4" r="2.07" fill="url(#fg)"/><circle cx="252.4" cy="615.5" r="2.56" fill="url(#fg)"/><circle cx="213.7" cy="545.1" r="2.14" fill="url(#fg)"/><circle cx="336.2" cy="520.8" r="2.23" fill="url(#fg)"/><circle cx="172.1" cy="471.6" r="2.50" fill="url(#fg)"/><circle cx="165.7" cy="606.3" r="2.44" fill="url(#fg)"/><circle cx="327.5" cy="551.4" r="2.19" fill="url(#fg)"/><circle cx="164.0" cy="360.0" r="2.34" fill="url(#fg)"/><circle cx="270.9" cy="556.0" r="2.49" fill="url(#fg)"/><circle cx="72.0" cy="545.2" r="1.73" fill="url(#fg)"/><circle cx="170.0" cy="596.5" r="1.93" fill="url(#fg)"/><circle cx="191.8" cy="369.1" r="1.57" fill="url(#fg)"/><circle cx="120.4" cy="414.8" r="2.12" fill="url(#fg)"/><circle cx="75.2" cy="379.8" r="1.42" fill="url(#fg)"/><circle cx="265.9" cy="624.8" r="2.48" fill="url(#fg)"/><circle cx="205.1" cy="391.3" r="2.53" fill="url(#fg)"/><circle cx="98.0" cy="376.3" r="2.10" fill="url(#fg)"/><circle cx="301.7" cy="441.4" r="2.66" fill="url(#fg)"/><circle cx="154.3" cy="623.7" r="2.46" fill="url(#fg)"/><circle cx="302.4" cy="628.7" r="2.59" fill="url(#fg)"/><circle cx="116.6" cy="498.4" r="2.15" fill="url(#fg)"/><circle cx="262.8" cy="418.8" r="2.20" fill="url(#fg)"/><circle cx="141.0" cy="406.2" r="2.00" fill="url(#fg)"/><circle cx="285.4" cy="509.0" r="1.85" fill="url(#fg)"/><circle cx="124.8" cy="454.8" r="1.92" fill="url(#fg)"/><circle cx="137.5" cy="441.5" r="1.64" fill="url(#fg)"/><circle cx="143.8" cy="542.2" r="2.28" fill="url(#fg)"/><circle cx="236.2" cy="611.8" r="2.35" fill="url(#fg)"/><circle cx="98.2" cy="467.2" r="2.12" fill="url(#fg)"/><circle cx="269.5" cy="502.4" r="1.43" fill="url(#fg)"/><circle cx="194.3" cy="537.1" r="2.54" fill="url(#fg)"/><circle cx="186.0" cy="414.4" r="1.33" fill="url(#fg)"/><circle cx="201.9" cy="563.5" r="1.46" fill="url(#fg)"/><circle cx="207.4" cy="520.9" r="2.18" fill="url(#fg)"/><circle cx="126.4" cy="380.6" r="1.31" fill="url(#fg)"/><circle cx="146.9" cy="604.3" r="1.95" fill="url(#fg)"/><circle cx="336.4" cy="584.2" r="2.21" fill="url(#fg)"/><circle cx="184.3" cy="511.3" r="2.62" fill="url(#fg)"/><circle cx="154.9" cy="398.4" r="2.72" fill="url(#fg)"/><circle cx="237.4" cy="460.0" r="1.92" fill="url(#fg)"/><circle cx="90.1" cy="512.7" r="2.54" fill="url(#fg)"/><circle cx="200.6" cy="548.9" r="2.46" fill="url(#fg)"/><circle cx="154.0" cy="532.3" r="2.84" fill="url(#fg)"/><circle cx="260.9" cy="405.9" r="2.34" fill="url(#fg)"/><circle cx="241.2" cy="570.6" r="2.40" fill="url(#fg)"/><circle cx="315.7" cy="626.4" r="1.62" fill="url(#fg)"/><circle cx="195.3" cy="367.6" r="2.86" fill="url(#fg)"/><circle cx="91.6" cy="473.5" r="2.27" fill="url(#fg)"/><circle cx="181.3" cy="402.7" r="2.08" fill="url(#fg)"/><circle cx="124.1" cy="491.2" r="2.42" fill="url(#fg)"/><circle cx="145.1" cy="479.2" r="2.29" fill="url(#fg)"/><circle cx="209.9" cy="577.6" r="2.71" fill="url(#fg)"/><circle cx="330.8" cy="400.9" r="2.05" fill="url(#fg)"/><circle cx="94.8" cy="549.2" r="1.91" fill="url(#fg)"/><circle cx="298.2" cy="489.4" r="2.56" fill="url(#fg)"/><circle cx="70.6" cy="525.4" r="1.94" fill="url(#fg)"/><circle cx="293.5" cy="383.7" r="1.42" fill="url(#fg)"/><circle cx="253.2" cy="445.7" r="1.98" fill="url(#fg)"/><circle cx="174.3" cy="629.0" r="2.28" fill="url(#fg)"/><circle cx="293.5" cy="588.3" r="2.65" fill="url(#fg)"/><circle cx="186.3" cy="435.6" r="2.10" fill="url(#fg)"/><circle cx="310.6" cy="600.6" r="2.04" fill="url(#fg)"/><circle cx="314.1" cy="567.0" r="1.34" fill="url(#fg)"/><circle cx="238.1" cy="575.7" r="1.35" fill="url(#fg)"/><circle cx="167.0" cy="534.4" r="2.09" fill="url(#fg)"/><circle cx="209.3" cy="380.1" r="1.70" fill="url(#fg)"/><circle cx="303.5" cy="452.1" r="2.05" fill="url(#fg)"/><circle cx="226.1" cy="433.6" r="1.94" fill="url(#fg)"/><circle cx="202.6" cy="596.6" r="2.63" fill="url(#fg)"/><circle cx="111.2" cy="494.9" r="2.48" fill="url(#fg)"/><circle cx="311.2" cy="502.5" r="2.29" fill="url(#fg)"/><circle cx="241.5" cy="540.6" r="2.71" fill="url(#fg)"/><circle cx="336.0" cy="630.6" r="1.48" fill="url(#fg)"/><circle cx="261.2" cy="462.8" r="1.73" fill="url(#fg)"/><circle cx="89.7" cy="608.2" r="2.71" fill="url(#fg)"/><circle cx="209.0" cy="493.3" r="1.61" fill="url(#fg)"/><circle cx="319.8" cy="565.5" r="1.55" fill="url(#fg)"/><circle cx="221.6" cy="631.8" r="1.70" fill="url(#fg)"/><circle cx="165.7" cy="456.0" r="1.87" fill="url(#fg)"/><circle cx="94.7" cy="529.6" r="1.67" fill="url(#fg)"/><circle cx="251.2" cy="485.1" r="2.63" fill="url(#fg)"/><circle cx="269.6" cy="593.6" r="1.53" fill="url(#fg)"/><circle cx="282.9" cy="570.3" r="1.75" fill="url(#fg)"/><circle cx="62.3" cy="382.6" r="2.52" fill="url(#fg)"/><circle cx="331.1" cy="373.7" r="1.67" fill="url(#fg)"/><circle cx="173.8" cy="374.0" r="2.31" fill="url(#fg)"/><circle cx="300.5" cy="589.1" r="1.57" fill="url(#fg)"/><circle cx="315.1" cy="573.4" r="1.53" fill="url(#fg)"/><circle cx="299.2" cy="613.7" r="2.69" fill="url(#fg)"/><circle cx="270.8" cy="582.1" r="2.14" fill="url(#fg)"/><circle cx="64.4" cy="543.7" r="2.08" fill="url(#fg)"/><circle cx="103.2" cy="392.1" r="2.70" fill="url(#fg)"/><circle cx="313.4" cy="369.2" r="1.31" fill="url(#fg)"/><circle cx="256.0" cy="436.1" r="2.67" fill="url(#fg)"/><circle cx="190.5" cy="553.0" r="1.35" fill="url(#fg)"/><circle cx="277.9" cy="410.5" r="1.97" fill="url(#fg)"/><circle cx="197.1" cy="445.3" r="1.67" fill="url(#fg)"/><circle cx="186.5" cy="369.3" r="1.53" fill="url(#fg)"/><circle cx="98.2" cy="592.4" r="1.78" fill="url(#fg)"/><circle cx="335.5" cy="605.3" r="1.54" fill="url(#fg)"/><circle cx="299.9" cy="629.3" r="1.99" fill="url(#fg)"/><circle cx="196.3" cy="542.4" r="2.06" fill="url(#fg)"/><circle cx="135.1" cy="558.6" r="1.63" fill="url(#fg)"/><circle cx="168.8" cy="361.3" r="1.80" fill="url(#fg)"/><circle cx="286.1" cy="393.4" r="1.58" fill="url(#fg)"/><circle cx="171.9" cy="437.7" r="1.29" fill="url(#fg)"/><circle cx="77.1" cy="410.9" r="2.55" fill="url(#fg)"/><circle cx="277.8" cy="579.1" r="2.39" fill="url(#fg)"/><circle cx="339.5" cy="426.7" r="2.41" fill="url(#fg)"/><circle cx="187.0" cy="622.0" r="1.99" fill="url(#fg)"/><circle cx="263.2" cy="570.7" r="2.82" fill="url(#fg)"/><circle cx="274.7" cy="446.0" r="2.32" fill="url(#fg)"/><circle cx="283.5" cy="616.2" r="1.68" fill="url(#fg)"/><circle cx="265.0" cy="555.5" r="1.53" fill="url(#fg)"/><circle cx="95.1" cy="511.3" r="2.24" fill="url(#fg)"/><circle cx="153.4" cy="526.9" r="1.52" fill="url(#fg)"/><circle cx="221.2" cy="503.6" r="2.61" fill="url(#fg)"/><circle cx="262.2" cy="377.1" r="2.17" fill="url(#fg)"/><circle cx="97.3" cy="501.3" r="2.37" fill="url(#fg)"/><circle cx="257.8" cy="357.6" r="2.13" fill="url(#fg)"/><circle cx="110.6" cy="495.9" r="2.07" fill="url(#fg)"/><circle cx="197.7" cy="567.3" r="1.76" fill="url(#fg)"/><circle cx="194.5" cy="423.5" r="1.60" fill="url(#fg)"/><circle cx="237.7" cy="399.0" r="2.56" fill="url(#fg)"/><circle cx="166.1" cy="386.5" r="2.54" fill="url(#fg)"/><circle cx="67.9" cy="437.1" r="2.33" fill="url(#fg)"/><circle cx="66.4" cy="549.9" r="2.18" fill="url(#fg)"/><circle cx="333.3" cy="441.9" r="2.61" fill="url(#fg)"/><circle cx="334.6" cy="493.7" r="1.40" fill="url(#fg)"/><circle cx="156.9" cy="581.2" r="1.28" fill="url(#fg)"/><circle cx="238.1" cy="499.7" r="2.46" fill="url(#fg)"/><circle cx="164.9" cy="615.2" r="1.46" fill="url(#fg)"/><circle cx="177.8" cy="440.1" r="2.17" fill="url(#fg)"/><circle cx="122.4" cy="462.6" r="2.00" fill="url(#fg)"/><circle cx="318.5" cy="362.8" r="1.73" fill="url(#fg)"/><circle cx="103.1" cy="553.8" r="2.51" fill="url(#fg)"/><circle cx="66.5" cy="572.7" r="2.69" fill="url(#fg)"/><circle cx="190.7" cy="520.6" r="2.55" fill="url(#fg)"/><circle cx="319.8" cy="417.7" r="2.41" fill="url(#fg)"/><circle cx="84.0" cy="456.3" r="2.74" fill="url(#fg)"/><circle cx="236.6" cy="503.3" r="1.99" fill="url(#fg)"/><circle cx="188.9" cy="363.6" r="2.18" fill="url(#fg)"/><circle cx="323.6" cy="387.9" r="1.34" fill="url(#fg)"/><circle cx="235.7" cy="583.7" r="1.97" fill="url(#fg)"/><circle cx="85.3" cy="534.2" r="2.33" fill="url(#fg)"/><circle cx="126.6" cy="581.2" r="2.15" fill="url(#fg)"/><circle cx="280.6" cy="420.4" r="1.86" fill="url(#fg)"/><circle cx="246.3" cy="540.8" r="2.64" fill="url(#fg)"/><circle cx="324.2" cy="555.3" r="1.30" fill="url(#fg)"/><circle cx="191.5" cy="540.2" r="2.53" fill="url(#fg)"/><circle cx="149.4" cy="371.8" r="2.21" fill="url(#fg)"/><circle cx="115.7" cy="498.6" r="1.65" fill="url(#fg)"/><circle cx="306.3" cy="363.4" r="2.17" fill="url(#fg)"/><circle cx="306.3" cy="533.6" r="1.51" fill="url(#fg)"/><circle cx="214.2" cy="584.6" r="2.29" fill="url(#fg)"/><circle cx="313.9" cy="581.6" r="1.89" fill="url(#fg)"/><circle cx="96.4" cy="547.1" r="2.05" fill="url(#fg)"/><circle cx="289.4" cy="478.7" r="2.43" fill="url(#fg)"/><circle cx="102.0" cy="565.1" r="2.66" fill="url(#fg)"/><circle cx="287.2" cy="570.6" r="2.35" fill="url(#fg)"/><circle cx="109.5" cy="446.6" r="1.73" fill="url(#fg)"/><circle cx="143.2" cy="517.5" r="1.86" fill="url(#fg)"/><circle cx="245.1" cy="602.7" r="2.87" fill="url(#fg)"/><circle cx="63.1" cy="524.5" r="2.21" fill="url(#fg)"/><circle cx="182.2" cy="559.3" r="2.69" fill="url(#fg)"/><circle cx="130.1" cy="531.7" r="1.53" fill="url(#fg)"/><circle cx="184.4" cy="453.5" r="2.59" fill="url(#fg)"/><circle cx="315.1" cy="597.0" r="2.12" fill="url(#fg)"/><circle cx="259.4" cy="535.9" r="2.15" fill="url(#fg)"/><circle cx="99.9" cy="429.8" r="2.81" fill="url(#fg)"/><circle cx="227.5" cy="387.0" r="1.85" fill="url(#fg)"/><circle cx="99.2" cy="389.8" r="1.89" fill="url(#fg)"/><circle cx="143.1" cy="360.2" r="2.07" fill="url(#fg)"/><circle cx="320.2" cy="483.6" r="1.92" fill="url(#fg)"/><circle cx="168.1" cy="429.0" r="1.80" fill="url(#fg)"/><circle cx="116.0" cy="474.3" r="2.74" fill="url(#fg)"/><circle cx="163.7" cy="599.7" r="2.08" fill="url(#fg)"/><circle cx="238.9" cy="489.0" r="1.91" fill="url(#fg)"/><circle cx="308.1" cy="519.3" r="1.58" fill="url(#fg)"/><circle cx="147.3" cy="464.3" r="2.19" fill="url(#fg)"/><circle cx="166.9" cy="428.8" r="1.77" fill="url(#fg)"/><circle cx="338.2" cy="560.6" r="2.66" fill="url(#fg)"/><circle cx="310.8" cy="394.4" r="2.14" fill="url(#fg)"/><circle cx="263.3" cy="490.4" r="2.13" fill="url(#fg)"/>
<circle cx="129" cy="400.2" r="8.0" fill="url(#hg)" opacity="0.45"/><circle cx="152.9" cy="386.9" r="7.4" fill="url(#hg)" opacity="0.45"/><circle cx="234.2" cy="367" r="9.9" fill="url(#hg)" opacity="0.45"/><circle cx="236" cy="389.5" r="7.4" fill="url(#hg)" opacity="0.45"/><circle cx="327.7" cy="365.1" r="8.0" fill="url(#hg)" opacity="0.45"/><circle cx="269.3" cy="372.3" r="7.4" fill="url(#hg)" opacity="0.45"/><circle cx="273.2" cy="410.8" r="8.0" fill="url(#hg)" opacity="0.45"/><circle cx="291.8" cy="414" r="8.0" fill="url(#hg)" opacity="0.45"/><circle cx="108.5" cy="482" r="12.2" fill="url(#hg)" opacity="0.45"/><circle cx="113.8" cy="537" r="8.5" fill="url(#hg)" opacity="0.45"/><circle cx="220.9" cy="482.5" r="12.2" fill="url(#hg)" opacity="0.45"/><circle cx="202.3" cy="474.6" r="7.4" fill="url(#hg)" opacity="0.45"/><circle cx="192.2" cy="450.7" r="7.4" fill="url(#hg)" opacity="0.45"/><circle cx="161.6" cy="474.6" r="7.4" fill="url(#hg)" opacity="0.45"/><circle cx="157.7" cy="506.5" r="7.4" fill="url(#hg)" opacity="0.45"/><circle cx="169.6" cy="507.8" r="7.4" fill="url(#hg)" opacity="0.45"/><circle cx="280.4" cy="463.4" r="7.4" fill="url(#hg)" opacity="0.45"/><circle cx="323.2" cy="488.4" r="8.5" fill="url(#hg)" opacity="0.45"/><circle cx="267.9" cy="487.9" r="8.0" fill="url(#hg)" opacity="0.45"/><circle cx="311.8" cy="534.4" r="9.2" fill="url(#hg)" opacity="0.45"/><circle cx="103.2" cy="558.3" r="15.2" fill="url(#hg)" opacity="0.45"/><circle cx="100.5" cy="575.5" r="7.4" fill="url(#hg)" opacity="0.45"/><circle cx="127.1" cy="563.6" r="8.0" fill="url(#hg)" opacity="0.45"/><circle cx="139.5" cy="578.5" r="8.0" fill="url(#hg)" opacity="0.45"/><circle cx="137.5" cy="584.5" r="7.4" fill="url(#hg)" opacity="0.45"/><circle cx="133.8" cy="592" r="7.4" fill="url(#hg)" opacity="0.45"/><circle cx="123.1" cy="619.4" r="11.0" fill="url(#hg)" opacity="0.45"/><circle cx="233.4" cy="544.2" r="8.5" fill="url(#hg)" opacity="0.45"/><circle cx="240" cy="574.2" r="12.2" fill="url(#hg)" opacity="0.45"/><circle cx="196.2" cy="627.4" r="7.4" fill="url(#hg)" opacity="0.45"/><circle cx="275.9" cy="562.8" r="8.0" fill="url(#hg)" opacity="0.45"/><circle cx="288.4" cy="563.6" r="7.4" fill="url(#hg)" opacity="0.45"/><circle cx="299.8" cy="576.9" r="8.0" fill="url(#hg)" opacity="0.45"/><circle cx="295.3" cy="587.5" r="9.2" fill="url(#hg)" opacity="0.45"/><circle cx="317.1" cy="617.5" r="8.5" fill="url(#hg)" opacity="0.45"/>
<circle cx="81.9" cy="362.4" r="3.15" fill="url(#sg)"/><circle cx="79.3" cy="368.8" r="2.85" fill="url(#sg)"/><circle cx="90.7" cy="356.3" r="3.15" fill="url(#sg)"/><circle cx="105.8" cy="382.4" r="4.05" fill="url(#sg)"/><circle cx="129" cy="400.2" r="5.25" fill="url(#sg)"/><circle cx="81.9" cy="388.2" r="2.85" fill="url(#sg)"/><circle cx="73.2" cy="403.6" r="3.15" fill="url(#sg)"/><circle cx="66" cy="432.9" r="3.60" fill="url(#sg)"/><circle cx="111.2" cy="437.9" r="4.05" fill="url(#sg)"/><circle cx="72.6" cy="414.8" r="2.64" fill="url(#sgs)"/><circle cx="91.2" cy="405.5" r="1.95" fill="url(#fg)"/><circle cx="152.9" cy="386.9" r="4.80" fill="url(#sg)"/><circle cx="121.8" cy="374.9" r="1.95" fill="url(#fg)"/><circle cx="136.4" cy="364.3" r="2.64" fill="url(#sgs)"/><circle cx="148.4" cy="401.5" r="2.64" fill="url(#sgs)"/><circle cx="234.2" cy="367" r="6.45" fill="url(#sg)"/><circle cx="206.8" cy="373.6" r="4.35" fill="url(#sg)"/><circle cx="201.5" cy="365.6" r="3.60" fill="url(#sg)"/><circle cx="169.6" cy="372.3" r="3.60" fill="url(#sg)"/><circle cx="156.3" cy="385.6" r="4.35" fill="url(#sg)"/><circle cx="167" cy="396.2" r="3.60" fill="url(#sg)"/><circle cx="196.2" cy="408.1" r="4.35" fill="url(#sg)"/><circle cx="236" cy="389.5" r="4.80" fill="url(#sg)"/><circle cx="234.7" cy="394.9" r="4.05" fill="url(#sg)"/><circle cx="226.2" cy="405" r="3.60" fill="url(#sg)"/><circle cx="168.3" cy="430.7" r="4.05" fill="url(#sg)"/><circle cx="201.5" cy="436" r="4.05" fill="url(#sg)"/><circle cx="173.6" cy="446.7" r="2.85" fill="url(#sg)"/><circle cx="236" cy="381.6" r="2.15" fill="url(#sgs)"/><circle cx="218.8" cy="371" r="2.15" fill="url(#sgs)"/><circle cx="327.7" cy="365.1" r="5.25" fill="url(#sg)"/><circle cx="269.3" cy="372.3" r="4.80" fill="url(#sg)"/><circle cx="313.1" cy="365.1" r="2.64" fill="url(#sgs)"/><circle cx="298" cy="383.4" r="4.35" fill="url(#sg)"/><circle cx="317.6" cy="381.6" r="3.15" fill="url(#sg)"/><circle cx="252" cy="382.9" r="3.60" fill="url(#sg)"/><circle cx="286.5" cy="393.5" r="4.05" fill="url(#sg)"/><circle cx="273.2" cy="410.8" r="5.25" fill="url(#sg)"/><circle cx="291.8" cy="414" r="5.25" fill="url(#sg)"/><circle cx="264" cy="419.3" r="3.15" fill="url(#sg)"/><circle cx="333.6" cy="412.9" r="3.15" fill="url(#sg)"/><circle cx="297.2" cy="433.9" r="3.60" fill="url(#sg)"/><circle cx="333" cy="444" r="4.35" fill="url(#sg)"/><circle cx="284.7" cy="444" r="3.60" fill="url(#sg)"/><circle cx="323.7" cy="409.5" r="2.15" fill="url(#sgs)"/><circle cx="297.2" cy="406.8" r="2.15" fill="url(#sgs)"/><circle cx="265.3" cy="401.5" r="2.15" fill="url(#sgs)"/><circle cx="335.7" cy="392.2" r="2.15" fill="url(#sgs)"/><circle cx="66" cy="452" r="3.60" fill="url(#sg)"/><circle cx="89.9" cy="449.3" r="2.85" fill="url(#sg)"/><circle cx="103.2" cy="458.6" r="4.05" fill="url(#sg)"/><circle cx="108.5" cy="482" r="7.95" fill="url(#sg)"/><circle cx="73.2" cy="488.4" r="3.15" fill="url(#sg)"/><circle cx="76.6" cy="464" r="2.64" fill="url(#sgs)"/><circle cx="123.7" cy="493.7" r="4.35" fill="url(#sg)"/><circle cx="127.9" cy="479.4" r="3.60" fill="url(#sg)"/><circle cx="149.7" cy="464" r="3.15" fill="url(#sg)"/><circle cx="143.1" cy="520.3" r="3.60" fill="url(#sg)"/><circle cx="113.8" cy="537" r="5.55" fill="url(#sg)"/><circle cx="73.2" cy="525.6" r="3.15" fill="url(#sg)"/><circle cx="75.3" cy="538.4" r="3.15" fill="url(#sg)"/><circle cx="97.9" cy="497.2" r="1.95" fill="url(#fg)"/><circle cx="93.9" cy="505.1" r="1.95" fill="url(#fg)"/><circle cx="153.7" cy="505.1" r="2.64" fill="url(#sgs)"/><circle cx="220.9" cy="482.5" r="7.95" fill="url(#sg)"/><circle cx="202.3" cy="474.6" r="4.80" fill="url(#sg)"/><circle cx="192.2" cy="450.7" r="4.80" fill="url(#sg)"/><circle cx="161.6" cy="474.6" r="4.80" fill="url(#sg)"/><circle cx="157.7" cy="506.5" r="4.80" fill="url(#sg)"/><circle cx="169.6" cy="507.8" r="4.80" fill="url(#sg)"/><circle cx="167" cy="527.2" r="4.05" fill="url(#sg)"/><circle cx="177.6" cy="518.4" r="3.15" fill="url(#sg)"/><circle cx="190.9" cy="518.4" r="3.15" fill="url(#sg)"/><circle cx="194.9" cy="526.4" r="3.15" fill="url(#sg)"/><circle cx="180.2" cy="505.1" r="2.85" fill="url(#sg)"/><circle cx="228.1" cy="487.9" r="3.15" fill="url(#sg)"/><circle cx="204.2" cy="450.7" r="2.64" fill="url(#sgs)"/><circle cx="218.8" cy="515.8" r="2.85" fill="url(#sg)"/><circle cx="209.5" cy="501.1" r="2.15" fill="url(#sgs)"/><circle cx="160.3" cy="452" r="2.64" fill="url(#sgs)"/><circle cx="280.4" cy="463.4" r="4.80" fill="url(#sg)"/><circle cx="321.1" cy="466.6" r="4.35" fill="url(#sg)"/><circle cx="321.1" cy="458.6" r="2.85" fill="url(#sg)"/><circle cx="297.2" cy="477.8" r="3.60" fill="url(#sg)"/><circle cx="323.2" cy="488.4" r="5.55" fill="url(#sg)"/><circle cx="339.7" cy="490.5" r="4.05" fill="url(#sg)"/><circle cx="267.9" cy="487.9" r="5.25" fill="url(#sg)"/><circle cx="316.6" cy="507.8" r="4.35" fill="url(#sg)"/><circle cx="311.8" cy="534.4" r="6.00" fill="url(#sg)"/><circle cx="306.5" cy="497.2" r="2.15" fill="url(#sgs)"/><circle cx="252" cy="491.8" r="2.85" fill="url(#sg)"/><circle cx="327.7" cy="511.8" r="2.15" fill="url(#sgs)"/><circle cx="301.1" cy="470.6" r="1.95" fill="url(#fg)"/><circle cx="314.4" cy="519.8" r="2.64" fill="url(#sgs)"/><circle cx="258.6" cy="539.7" r="3.15" fill="url(#sg)"/><circle cx="103.2" cy="558.3" r="9.90" fill="url(#sg)"/><circle cx="100.5" cy="575.5" r="4.80" fill="url(#sg)"/><circle cx="108.5" cy="575.5" r="4.05" fill="url(#sg)"/><circle cx="81.9" cy="584" r="4.05" fill="url(#sg)"/><circle cx="127.1" cy="563.6" r="5.25" fill="url(#sg)"/><circle cx="139.5" cy="578.5" r="5.25" fill="url(#sg)"/><circle cx="137.5" cy="584.5" r="4.80" fill="url(#sg)"/><circle cx="133.8" cy="592" r="4.80" fill="url(#sg)"/><circle cx="123.1" cy="619.4" r="7.20" fill="url(#sg)"/><circle cx="120.5" cy="627.4" r="3.75" fill="url(#sg)"/><circle cx="113.3" cy="630" r="4.05" fill="url(#sg)"/><circle cx="83.3" cy="547.6" r="3.15" fill="url(#sg)"/><circle cx="74" cy="541" r="2.85" fill="url(#sg)"/><circle cx="113.8" cy="543.7" r="2.64" fill="url(#sgs)"/><circle cx="104.5" cy="590.2" r="2.64" fill="url(#sgs)"/><circle cx="97.9" cy="587.5" r="2.15" fill="url(#sgs)"/><circle cx="80.6" cy="622" r="2.85" fill="url(#sg)"/><circle cx="133.8" cy="612.8" r="2.64" fill="url(#sgs)"/><circle cx="139.1" cy="598.1" r="2.64" fill="url(#sgs)"/><circle cx="153.7" cy="616.7" r="4.05" fill="url(#sg)"/><circle cx="67.3" cy="628.7" r="4.05" fill="url(#sg)"/><circle cx="87.2" cy="596.8" r="1.95" fill="url(#fg)"/><circle cx="233.4" cy="544.2" r="5.55" fill="url(#sg)"/><circle cx="240" cy="574.2" r="7.95" fill="url(#sg)"/><circle cx="205.5" cy="591.5" r="4.05" fill="url(#sg)"/><circle cx="193.5" cy="559.6" r="3.60" fill="url(#sg)"/><circle cx="201.5" cy="579.5" r="2.64" fill="url(#sgs)"/><circle cx="176.3" cy="607.4" r="4.05" fill="url(#sg)"/><circle cx="208.1" cy="618.6" r="4.35" fill="url(#sg)"/><circle cx="196.2" cy="627.4" r="4.80" fill="url(#sg)"/><circle cx="156.3" cy="578.2" r="3.60" fill="url(#sg)"/><circle cx="156.3" cy="618.1" r="3.60" fill="url(#sg)"/><circle cx="228.1" cy="610.1" r="2.15" fill="url(#sgs)"/><circle cx="206.8" cy="608.8" r="2.15" fill="url(#sgs)"/><circle cx="240" cy="612.8" r="2.64" fill="url(#sgs)"/><circle cx="189.5" cy="602.1" r="1.95" fill="url(#fg)"/><circle cx="245.4" cy="631.4" r="2.64" fill="url(#sgs)"/><circle cx="275.9" cy="562.8" r="5.25" fill="url(#sg)"/><circle cx="288.4" cy="563.6" r="4.80" fill="url(#sg)"/><circle cx="299.8" cy="576.9" r="5.25" fill="url(#sg)"/><circle cx="295.3" cy="587.5" r="6.00" fill="url(#sg)"/><circle cx="317.1" cy="617.5" r="5.55" fill="url(#sg)"/><circle cx="316.6" cy="591" r="3.60" fill="url(#sg)"/><circle cx="267.9" cy="596.8" r="3.60" fill="url(#sg)"/><circle cx="252" cy="605.3" r="3.60" fill="url(#sg)"/><circle cx="258.6" cy="543.7" r="3.60" fill="url(#sg)"/><circle cx="322.4" cy="544.2" r="3.60" fill="url(#sg)"/><circle cx="291.8" cy="557" r="2.64" fill="url(#sgs)"/><circle cx="303.8" cy="561" r="2.64" fill="url(#sgs)"/><circle cx="287.9" cy="626" r="2.64" fill="url(#sgs)"/><circle cx="338.4" cy="628.7" r="2.64" fill="url(#sgs)"/><circle cx="274.6" cy="607.4" r="2.15" fill="url(#sgs)"/><circle cx="303.8" cy="596.8" r="2.15" fill="url(#sgs)"/>
<g filter="url(#soft)"><rect x="138.5" y="435" width="15" height="20" rx="3" fill="#15154a"/></g>
<ellipse cx="97.4" cy="591.5" rx="30.6" ry="37.2" fill="url(#hatchR)" stroke="#e07070" stroke-width="0.6"/>
<ellipse cx="77.1" cy="618.1" rx="10.6" ry="10.6" fill="url(#hatchB)" stroke="#5050e0" stroke-width="0.8"/>
<ellipse cx="72.6" cy="622" rx="5.5" ry="5" fill="url(#hatchY)" stroke="#e0d020" stroke-width="0.6"/>
<path d="M171.8,415.7h4.6M174.1,413.4v4.6M203.9,464.4h4.6M206.2,462.1v4.6M133.4,402.0h4.6M135.7,399.7v4.6M187.0,568.9h4.6M189.3,566.6v4.6M141.6,432.1h4.6M143.9,429.8v4.6M217.7,596.3h4.6M220.0,594.0v4.6M210.1,471.4h4.6M212.4,469.1v4.6M144.7,408.2h4.6M147.0,405.9v4.6M169.5,566.4h4.6M171.8,564.1v4.6M219.4,465.9h4.6M221.7,463.6v4.6M205.7,395.7h4.6M208.0,393.4v4.6M131.9,428.2h4.6M134.2,425.9v4.6M225.7,478.4h4.6M228.0,476.1v4.6M170.3,514.2h4.6M172.6,511.9v4.6M191.4,449.4h4.6M193.7,447.1v4.6M242.9,539.9h4.6M245.2,537.6v4.6M159.8,511.7h4.6M162.1,509.4v4.6M202.2,579.8h4.6M204.5,577.5v4.6M186.1,553.1h4.6M188.4,550.8v4.6M145.8,492.3h4.6M148.1,490.0v4.6M238.4,511.4h4.6M240.7,509.1v4.6M228.0,516.2h4.6M230.3,513.9v4.6M210.5,484.9h4.6M212.8,482.6v4.6M249.8,595.6h4.6M252.1,593.3v4.6M194.5,532.0h4.6M196.8,529.7v4.6M220.7,606.6h4.6M223.0,604.3v4.6M181.2,533.0h4.6M183.5,530.7v4.6M148.3,408.0h4.6M150.6,405.7v4.6M142.4,437.6h4.6M144.7,435.3v4.6M182.0,579.0h4.6M184.3,576.7v4.6M205.9,581.7h4.6M208.2,579.4v4.6M246.7,577.3h4.6M249.0,575.0v4.6M164.9,475.6h4.6M167.2,473.3v4.6M149.5,434.1h4.6M151.8,431.8v4.6M158.1,491.4h4.6M160.4,489.1v4.6M211.9,441.0h4.6M214.2,438.7v4.6M178.7,509.8h4.6M181.0,507.5v4.6M266.9,538.0h4.6M269.2,535.7v4.6M200.8,521.5h4.6M203.1,519.2v4.6M258.8,558.3h4.6M261.1,556.0v4.6M255.1,562.3h4.6M257.4,560.0v4.6M182.2,471.9h4.6M184.5,469.6v4.6M154.4,418.3h4.6M156.7,416.0v4.6M174.3,393.4h4.6M176.6,391.1v4.6M138.2,463.9h4.6M140.5,461.6v4.6M215.7,415.2h4.6M218.0,412.9v4.6M161.0,460.2h4.6M163.3,457.9v4.6M177.9,409.3h4.6M180.2,407.0v4.6M193.3,491.1h4.6M195.6,488.8v4.6M135.8,404.6h4.6M138.1,402.3v4.6M174.7,441.5h4.6M177.0,439.2v4.6M202.7,414.7h4.6M205.0,412.4v4.6M253.4,539.3h4.6M255.7,537.0v4.6M162.3,464.6h4.6M164.6,462.3v4.6M203.4,558.0h4.6M205.7,555.7v4.6M172.7,432.0h4.6M175.0,429.7v4.6M251.7,564.2h4.6M254.0,561.9v4.6M246.6,549.2h4.6M248.9,546.9v4.6M157.1,498.8h4.6M159.4,496.5v4.6M176.6,388.1h4.6M178.9,385.8v4.6M127.1,444.8h4.6M129.4,442.5v4.6M162.0,538.4h4.6M164.3,536.1v4.6M156.2,432.9h4.6M158.5,430.6v4.6M152.6,427.8h4.6M154.9,425.5v4.6M217.2,585.5h4.6M219.5,583.2v4.6M221.6,562.7h4.6M223.9,560.4v4.6M260.4,558.8h4.6M262.7,556.5v4.6M236.3,489.8h4.6M238.6,487.5v4.6M173.1,563.0h4.6M175.4,560.7v4.6M142.1,415.7h4.6M144.4,413.4v4.6M259.6,564.3h4.6M261.9,562.0v4.6M175.8,505.8h4.6M178.1,503.5v4.6M202.5,593.1h4.6M204.8,590.8v4.6M188.4,579.1h4.6M190.7,576.8v4.6M160.9,447.9h4.6M163.2,445.6v4.6M159.2,514.4h4.6M161.5,512.1v4.6M162.1,476.4h4.6M164.4,474.1v4.6M176.3,485.3h4.6M178.6,483.0v4.6M211.0,586.4h4.6M213.3,584.1v4.6M186.4,589.5h4.6M188.7,587.2v4.6M198.7,502.0h4.6M201.0,499.7v4.6M189.4,423.0h4.6M191.7,420.7v4.6M148.9,488.8h4.6M151.2,486.5v4.6M232.5,507.6h4.6M234.8,505.3v4.6M172.1,499.0h4.6M174.4,496.7v4.6M206.8,559.2h4.6M209.1,556.9v4.6M160.4,444.2h4.6M162.7,441.9v4.6M239.6,496.6h4.6M241.9,494.3v4.6M207.8,553.7h4.6M210.1,551.4v4.6M215.5,496.1h4.6M217.8,493.8v4.6M200.3,538.5h4.6M202.6,536.2v4.6M191.2,502.3h4.6M193.5,500.0v4.6M195.1,594.9h4.6M197.4,592.6v4.6M228.6,580.1h4.6M230.9,577.8v4.6M207.4,595.3h4.6M209.7,593.0v4.6M141.2,481.7h4.6M143.5,479.4v4.6M133.8,436.0h4.6M136.1,433.7v4.6M241.4,584.8h4.6M243.7,582.5v4.6M183.1,491.9h4.6M185.4,489.6v4.6M272.5,570.1h4.6M274.8,567.8v4.6M147.3,479.3h4.6M149.6,477.0v4.6M200.8,458.3h4.6M203.1,456.0v4.6M152.4,453.7h4.6M154.7,451.4v4.6M206.6,481.3h4.6M208.9,479.0v4.6M125.6,456.6h4.6M127.9,454.3v4.6M217.2,497.6h4.6M219.5,495.3v4.6M242.0,601.7h4.6M244.3,599.4v4.6M138.7,441.7h4.6M141.0,439.4v4.6M163.7,410.8h4.6M166.0,408.5v4.6M186.7,588.0h4.6M189.0,585.7v4.6M209.1,540.2h4.6M211.4,537.9v4.6M136.4,394.5h4.6M138.7,392.2v4.6M226.9,477.9h4.6M229.2,475.6v4.6M218.8,563.2h4.6M221.1,560.9v4.6M191.5,458.3h4.6M193.8,456.0v4.6M206.5,591.5h4.6M208.8,589.2v4.6M163.3,410.8h4.6M165.6,408.5v4.6M202.5,435.5h4.6M204.8,433.2v4.6M139.4,418.1h4.6M141.7,415.8v4.6M130.5,427.2h4.6M132.8,424.9v4.6M170.0,450.6h4.6M172.3,448.3v4.6M198.5,421.8h4.6M200.8,419.5v4.6M175.3,385.6h4.6M177.6,383.3v4.6M160.7,385.0h4.6M163.0,382.7v4.6M233.7,506.4h4.6M236.0,504.1v4.6M151.5,489.1h4.6M153.8,486.8v4.6M197.7,570.6h4.6M200.0,568.3v4.6M182.3,496.3h4.6M184.6,494.0v4.6M226.8,604.1h4.6M229.1,601.8v4.6M174.7,570.1h4.6M177.0,567.8v4.6M229.7,525.6h4.6M232.0,523.3v4.6M184.0,460.3h4.6M186.3,458.0v4.6M131.1,410.9h4.6M133.4,408.6v4.6M161.5,418.5h4.6M163.8,416.2v4.6M254.5,533.5h4.6M256.8,531.2v4.6M165.5,436.4h4.6M167.8,434.1v4.6M167.2,485.6h4.6M169.5,483.3v4.6M146.7,482.5h4.6M149.0,480.2v4.6M169.6,462.3h4.6M171.9,460.0v4.6M194.6,495.4h4.6M196.9,493.1v4.6M153.2,495.9h4.6M155.5,493.6v4.6M123.6,441.4h4.6M125.9,439.1v4.6M136.4,472.0h4.6M138.7,469.7v4.6M168.8,434.2h4.6M171.1,431.9v4.6M211.4,501.4h4.6M213.7,499.1v4.6M236.3,530.5h4.6M238.6,528.2v4.6M231.1,580.7h4.6M233.4,578.4v4.6M181.7,455.4h4.6M184.0,453.1v4.6M232.3,527.3h4.6M234.6,525.0v4.6M257.7,523.7h4.6M260.0,521.4v4.6" stroke="#2f8a3a" stroke-width="1.2" fill="none" opacity="0.9"/>
<path d="M238.0,634.5 228.5,634.5 217.5,633.1 204.5,630.2 193.5,626.7 184.5,622.6 176.5,617.8 169.1,612.0 162.7,605.5 155.8,596.5 149.6,585.5 144.7,573.5 138.0,552.1 134.5,542.8 129.5,533.0 118.8,515.5 113.8,506.5 109.2,496.0 105.7,485.5 103.7,476.5 102.5,467.0 102.1,457.5 102.6,448.5 103.9,439.5 106.2,430.0 109.3,421.0 112.8,413.0 117.4,404.5 122.8,396.5 128.9,389.0 135.5,382.4 142.5,376.6 150.0,371.8 157.5,368.2 165.0,365.6 172.5,364.1 180.5,363.5 188.0,363.8 196.0,365.2 204.0,367.7 211.0,370.7 218.5,374.9 225.5,379.8 232.5,385.8 239.0,392.5 245.2,400.0 250.7,408.0 255.7,416.5 259.8,425.0 263.7,435.0 266.6,444.5 268.9,454.0 274.5,482.3 284.2,514.5 287.4,528.0 288.6,537.0 289.1,546.0 288.8,555.0 287.8,564.0 284.9,578.0 280.2,592.5 274.3,606.0 268.0,616.6 261.5,624.2 258.0,627.2 254.5,629.6 247.0,632.9 242.5,634.0ZM234.0,621.0 225.5,621.2 216.5,620.3 206.0,617.9 197.0,614.7 189.0,610.8 182.0,606.3 175.5,600.9 169.6,594.5 165.9,589.5 162.8,584.5 157.7,573.5 154.3,563.0 148.6,541.0 145.4,532.0 141.5,524.2 131.7,508.0 127.1,499.5 123.2,490.5 120.1,481.0 118.4,473.0 117.3,465.0 117.0,457.0 117.4,448.5 118.5,440.0 120.4,432.0 122.8,424.5 126.1,416.5 129.8,409.5 134.3,402.5 139.1,396.5 144.5,390.9 150.5,386.0 156.5,382.2 162.5,379.3 169.0,377.1 178.0,375.5 187.0,375.6 196.0,377.2 204.5,380.2 213.0,384.7 221.5,390.9 229.0,398.1 235.9,406.5 240.2,413.0 244.4,420.5 247.8,428.0 250.8,436.0 254.7,450.5 259.0,475.0 261.0,484.0 263.5,492.2 271.3,513.0 274.4,523.0 276.2,531.0 277.4,539.0 277.9,547.0 277.7,555.5 276.8,564.0 275.3,572.0 273.1,580.0 270.2,588.0 266.8,595.5 263.3,601.5 259.3,607.0 255.0,611.6 250.5,615.1 245.5,617.9 240.0,619.9ZM227.0,604.5 220.5,604.5 213.5,603.4 206.5,601.4 200.0,598.6 194.0,595.2 188.4,591.0 183.3,586.0 179.0,580.6 174.2,572.5 170.4,563.0 168.1,554.5 164.0,534.9 160.8,525.0 156.5,516.2 146.7,500.5 142.3,492.5 138.3,483.5 135.3,474.0 133.9,467.0 133.1,460.5 132.8,454.0 133.2,447.0 134.0,440.5 135.4,434.0 137.4,427.5 139.8,421.5 142.7,416.0 146.2,410.5 150.0,405.7 154.1,401.5 158.5,398.0 163.5,394.8 168.5,392.5 173.5,390.9 181.0,389.8 188.5,390.1 196.0,391.7 203.0,394.5 210.0,398.7 216.6,404.0 222.7,410.5 228.1,418.0 233.7,428.5 237.8,439.5 241.0,453.0 244.2,478.0 246.2,488.0 249.5,498.0 258.4,519.5 261.8,530.5 263.1,537.0 263.9,543.5 264.2,550.5 263.9,557.0 263.1,563.5 261.7,570.0 259.8,576.0 257.5,581.5 254.9,586.5 251.8,591.0 248.3,595.0 244.5,598.3 240.5,600.8 236.5,602.6 232.0,603.9ZM222.5,577.1 219.0,577.1 215.0,576.5 211.5,575.3 208.0,573.6 204.5,571.1 201.5,568.5 196.5,562.1 193.6,556.5 191.2,550.0 189.4,543.0 185.8,525.5 182.6,516.0 177.7,507.5 166.3,492.5 161.5,485.2 157.3,477.0 154.3,468.5 152.6,459.5 152.2,450.0 153.4,441.0 155.9,433.0 159.8,425.5 165.0,419.1 171.0,414.6 177.5,411.8 184.0,410.8 191.0,411.6 197.5,413.9 204.0,418.0 209.7,423.5 214.5,430.0 218.4,437.5 221.3,446.0 222.7,452.5 223.7,460.0 224.7,485.5 226.0,495.5 229.0,505.2 236.8,522.5 239.8,530.5 241.9,539.0 242.7,547.5 242.4,553.0 241.4,558.5 239.6,563.5 237.2,568.0 234.0,571.7 230.5,574.4 226.5,576.2Z" fill="none" stroke="#e44a4a" stroke-width="0.9" stroke-opacity="1" stroke-linejoin="round" />
<path d="M227.5,597.0 221.5,597.3 215.5,596.6 209.5,595.0 203.5,592.6 198.0,589.5 192.7,585.5 188.1,581.0 184.2,576.0 179.8,568.5 176.3,559.5 174.2,551.5 170.2,532.0 167.0,522.2 162.6,513.5 152.3,497.5 148.2,490.5 144.3,482.0 141.3,473.0 139.1,461.0 138.9,449.0 139.5,443.0 140.6,437.0 142.2,431.0 144.3,425.5 146.7,420.5 149.7,415.5 153.1,411.0 156.8,407.0 161.0,403.5 165.0,400.9 169.5,398.6 174.0,397.1 178.5,396.2 183.0,395.8 187.5,396.0 192.0,396.7 196.5,398.0 201.0,399.9 205.5,402.3 209.5,405.1 217.0,412.0 223.8,421.0 229.3,431.5 233.3,443.0 235.9,455.5 238.4,479.0 240.0,488.0 243.2,498.5 251.8,519.0 255.3,529.0 257.8,541.0 258.3,552.5 257.4,561.5 255.5,569.5 252.6,577.0 248.9,583.5 244.5,588.7 239.5,592.7 234.0,595.4ZM225.5,593.5 220.0,593.6 214.5,592.8 209.0,591.2 203.5,588.7 198.5,585.7 193.9,582.0 190.0,578.0 186.2,573.0 182.3,566.0 179.2,558.0 177.1,550.0 173.1,530.5 170.0,521.1 165.5,512.3 155.1,496.5 150.7,489.0 146.8,480.5 143.8,471.5 141.8,460.0 141.6,448.5 143.3,437.0 146.8,426.5 149.2,421.5 152.0,417.0 155.0,413.0 158.5,409.3 162.5,405.9 166.5,403.3 170.5,401.4 175.0,399.9 179.0,399.0 183.5,398.7 188.0,398.9 192.5,399.7 197.0,401.1 201.0,402.9 209.0,408.1 216.2,415.0 222.4,423.5 227.5,433.5 231.2,444.5 233.6,457.0 235.8,480.0 237.4,489.5 240.5,499.8 249.1,520.0 252.6,530.0 254.9,541.5 255.4,552.5 254.6,560.5 252.6,568.5 249.8,575.5 246.1,581.5 242.0,586.2 237.0,589.9 231.5,592.3ZM225.5,589.5 220.5,589.7 215.5,589.1 210.5,587.7 205.5,585.6 201.0,582.9 196.5,579.4 192.5,575.3 189.0,570.7 185.2,564.0 182.2,556.0 180.2,548.5 176.3,529.5 173.2,520.0 168.5,511.0 157.7,495.0 153.2,487.5 149.3,479.0 146.6,471.0 144.6,460.0 144.4,449.0 145.9,438.0 149.2,428.0 154.0,419.1 160.0,411.9 163.5,408.9 167.5,406.3 171.5,404.3 175.5,402.9 179.5,402.1 183.5,401.8 187.5,401.9 192.0,402.7 200.0,405.6 207.5,410.4 214.4,417.0 220.3,425.0 225.2,434.5 228.5,444.5 231.0,457.0 233.0,481.0 234.5,490.6 237.6,501.0 246.2,521.0 249.4,530.0 251.7,540.5 252.4,551.0 251.7,558.5 250.1,565.5 247.7,572.0 244.5,577.6 240.5,582.3 236.0,585.8 231.0,588.2ZM226.0,585.0 221.5,585.4 217.0,585.1 212.0,583.9 207.5,582.0 203.0,579.4 199.0,576.3 195.2,572.5 192.0,568.3 188.2,561.5 185.4,554.0 183.4,546.5 179.6,528.0 176.4,518.5 171.9,510.0 160.7,494.0 156.4,487.0 152.5,479.0 149.7,471.0 147.6,460.5 147.2,450.0 148.4,440.0 151.3,430.5 155.7,422.0 158.5,418.1 161.5,414.8 165.0,411.7 168.5,409.4 172.0,407.6 176.0,406.1 183.5,405.0 187.5,405.2 191.5,405.8 199.0,408.5 206.0,412.9 212.5,419.0 217.7,426.0 222.2,434.5 225.6,444.0 227.2,450.5 228.3,457.5 230.1,482.5 231.6,492.5 234.7,502.5 242.7,521.0 246.0,530.0 248.2,539.5 249.0,549.0 248.6,556.0 247.3,562.5 245.2,568.5 242.5,573.5 239.0,578.0 235.0,581.3 230.5,583.7ZM223.0,580.5 219.0,580.6 215.0,579.9 211.0,578.6 207.5,577.0 204.0,574.7 200.5,571.8 197.4,568.5 194.5,564.5 191.3,558.5 188.7,551.5 186.9,544.5 183.3,526.5 180.0,517.0 175.3,508.5 164.0,493.0 159.2,485.5 155.2,477.5 152.3,469.0 150.5,459.0 150.2,449.5 151.5,440.0 154.4,431.0 158.5,423.5 164.0,417.0 170.5,412.2 177.5,409.3 184.5,408.4 191.5,409.3 198.5,411.9 205.0,416.1 211.0,421.8 216.2,429.0 220.2,437.0 223.3,446.0 224.7,452.5 225.6,459.5 226.9,484.0 228.3,494.0 231.3,504.0 239.3,522.0 242.4,530.5 244.6,539.5 245.4,548.5 244.9,555.0 243.6,561.0 241.6,566.5 239.0,570.9 236.0,574.5 232.0,577.6 227.5,579.6Z" fill="none" stroke="#3535e8" stroke-width="0.85" stroke-opacity="1" stroke-linejoin="round" />
<path d="M223.5,574.1 220.5,574.4 217.0,574.1 213.5,573.2 210.0,571.7 206.5,569.5 203.5,567.0 198.5,560.9 195.6,555.5 193.2,549.0 191.4,542.0 188.0,525.0 184.7,515.5 179.8,507.0 168.1,492.0 163.3,485.0 159.0,477.0 155.9,468.5 154.2,460.0 153.8,451.0 154.8,442.0 157.2,434.0 161.0,426.7 166.0,420.6 171.5,416.4 178.0,413.6 184.0,412.7 190.5,413.3 197.0,415.5 203.0,419.3 208.5,424.4 213.0,430.5 216.7,437.5 219.6,445.5 221.2,452.5 222.2,460.0 223.0,486.5 224.2,496.5 227.1,506.0 234.8,523.0 237.7,530.5 239.8,538.5 240.6,546.0 240.4,551.5 239.6,556.5 238.1,561.0 236.1,565.0 233.5,568.5 230.5,571.1 227.0,573.0ZM222.5,566.1 217.5,566.4 212.0,564.6 207.0,561.0 203.0,556.0 200.3,551.0 198.1,545.0 196.6,538.5 193.7,522.5 192.2,517.5 190.5,513.5 188.3,509.5 185.4,505.5 173.0,491.3 167.9,484.5 163.2,476.5 159.9,468.0 158.1,460.0 157.6,452.0 158.3,444.5 160.4,437.0 163.6,430.5 167.8,425.0 173.0,420.8 178.5,418.3 184.0,417.4 189.5,417.8 195.0,419.5 200.5,422.6 205.5,427.1 209.7,432.5 213.3,439.0 215.9,446.0 217.7,453.5 218.6,462.0 218.8,470.5 218.1,490.0 219.1,500.0 221.9,509.0 229.2,524.0 231.9,530.5 233.9,537.5 234.7,544.0 234.7,548.0 234.2,552.0 233.2,555.5 231.9,558.5 230.0,561.3 227.8,563.5 225.5,565.0ZM220.0,554.1 216.5,554.3 213.0,552.7 209.7,549.5 207.1,545.0 205.5,540.3 204.5,535.0 203.2,516.5 202.4,513.5 201.2,511.0 196.9,506.0 182.0,493.2 174.5,485.5 171.1,481.0 168.2,476.5 165.8,471.5 164.0,466.5 162.4,459.5 162.0,452.5 162.6,446.0 164.3,439.5 167.0,434.0 170.9,429.0 175.0,425.7 180.0,423.5 184.5,422.7 189.5,423.1 194.5,424.7 199.0,427.5 203.0,431.1 206.5,435.5 209.6,441.0 211.9,447.0 213.9,456.5 214.4,467.5 213.5,478.5 210.2,500.0 210.2,507.5 210.7,510.0 212.1,513.0 219.5,523.8 223.0,530.0 225.1,535.5 226.1,541.0 226.0,545.5 224.9,549.5 222.8,552.5ZM198.5,490.5 195.0,490.9 190.5,489.8 185.5,487.2 181.0,483.7 176.9,479.5 173.2,474.5 170.3,469.0 168.4,463.5 167.3,458.0 167.1,452.5 167.7,447.0 169.2,442.0 171.5,437.5 174.5,433.8 178.0,431.2 182.0,429.5 186.0,429.0 190.0,429.6 194.0,431.1 197.5,433.5 200.6,436.5 203.6,440.5 206.0,445.3 207.8,450.5 208.9,456.5 209.3,462.5 209.0,469.0 207.9,475.5 206.2,481.0 204.0,485.6 201.5,488.7ZM191.5,478.5 189.0,478.1 186.0,476.9 183.0,474.8 180.5,472.4 178.3,469.5 176.3,466.0 174.9,462.5 174.0,458.5 173.7,454.5 173.9,451.0 174.8,447.5 176.0,444.5 177.7,442.0 180.0,439.8 182.5,438.3 185.0,437.7 187.5,437.6 190.5,438.3 193.5,439.9 196.0,442.0 198.0,444.5 200.0,448.0 201.4,451.5 202.3,455.5 202.7,459.5 202.5,464.0 201.8,468.0 200.5,471.7 198.5,475.0 196.5,476.9 194.0,478.2Z" fill="none" stroke="#e2d84a" stroke-width="0.85" stroke-opacity="1" stroke-linejoin="round" />
<path d="M326.4,437.9 326.2,440.3 325.8,442.7 325.0,445.0 323.9,447.2 322.6,449.2 321.0,451.1 319.1,452.7 317.1,454.0 314.9,455.1 312.6,455.9 310.2,456.3 307.8,456.5 305.4,456.3 303.0,455.9 300.7,455.1 298.5,454.0 296.5,452.7 294.6,451.1 293.0,449.2 291.7,447.2 290.6,445.0 289.8,442.7 289.4,440.3 289.2,437.9 289.4,435.5 289.8,433.1 290.6,430.8 291.7,428.6 293.0,426.6 294.6,424.7 296.5,423.1 298.5,421.8 300.7,420.7 303.0,419.9 305.4,419.5 307.8,419.3 310.2,419.5 312.6,419.9 314.9,420.7 317.1,421.8 319.1,423.1 321.0,424.7 322.6,426.6 323.9,428.6 325.0,430.8 325.8,433.1 326.2,435.5ZM322.4,437.9 322.3,439.8 321.9,441.7 321.3,443.5 320.4,445.2 319.4,446.8 318.1,448.2 316.7,449.5 315.1,450.5 313.4,451.4 311.6,452.0 309.7,452.4 307.8,452.5 305.9,452.4 304.0,452.0 302.2,451.4 300.5,450.5 298.9,449.5 297.5,448.2 296.2,446.8 295.2,445.2 294.3,443.5 293.7,441.7 293.3,439.8 293.2,437.9 293.3,436.0 293.7,434.1 294.3,432.3 295.2,430.6 296.2,429.0 297.5,427.6 298.9,426.3 300.5,425.3 302.2,424.4 304.0,423.8 305.9,423.4 307.8,423.3 309.7,423.4 311.6,423.8 313.4,424.4 315.1,425.3 316.7,426.3 318.1,427.6 319.4,429.0 320.4,430.6 321.3,432.3 321.9,434.1 322.3,436.0ZM319.8,437.9 319.7,439.5 319.4,441.0 318.9,442.5 318.2,443.9 317.3,445.2 316.3,446.4 315.1,447.4 313.8,448.3 312.4,449.0 310.9,449.5 309.4,449.8 307.8,449.9 306.2,449.8 304.7,449.5 303.2,449.0 301.8,448.3 300.5,447.4 299.3,446.4 298.3,445.2 297.4,443.9 296.7,442.5 296.2,441.0 295.9,439.5 295.8,437.9 295.9,436.3 296.2,434.8 296.7,433.3 297.4,431.9 298.3,430.6 299.3,429.4 300.5,428.4 301.8,427.5 303.2,426.8 304.7,426.3 306.2,426.0 307.8,425.9 309.4,426.0 310.9,426.3 312.4,426.8 313.8,427.5 315.1,428.4 316.3,429.4 317.3,430.6 318.2,431.9 318.9,433.3 319.4,434.8 319.7,436.3Z" fill="none" stroke="#3535e8" stroke-width="0.9" stroke-opacity="1" stroke-linejoin="round" />
<path d="M312.7,439.9 308.5,443.2 303.6,441.1 302.9,435.9 307.1,432.6 312.0,434.7Z" fill="none" stroke="#3535e8" stroke-width="0.9"/>
<path d="M305.3,435.4l5.0,5.0M305.3,440.4l5.0,-5.0M187.0,478.7l5.0,5.0M187.0,483.7l5.0,-5.0M215.0,534.5l5.0,5.0M215.0,539.5l5.0,-5.0M183.1,438.9l5.0,5.0M183.1,443.9l5.0,-5.0" stroke="#3535e8" stroke-width="1" fill="none"/>
<path d="M203.2,496.2 200.2,498.0 197.2,496.2 197.2,492.8 200.2,491.0 203.2,492.8Z" fill="none" stroke="#7a2a8a" stroke-width="1"/>
<path d="M196.0,500.4h5.6M198.8,497.6v5.6" stroke="#fff" stroke-width="1.1"/>
<rect x="184" y="450.5" width="3" height="3" fill="none" stroke="#e44a4a" stroke-width="0.8"/>
<rect x="216" y="541" width="3" height="3" fill="none" stroke="#e44a4a" stroke-width="0.8"/>
</g></g>
<rect x="62.5" y="355.5" width="277" height="277" fill="none" stroke="#9a9a9a" stroke-width="0.6"/>
<g clip-path="url(#cpc)"><g filter="url(#pb)">
<rect x="60" y="700" width="277" height="277" fill="#dcdcdc"/>
<rect x="60" y="700" width="277" height="277" filter="url(#mottle)" opacity="0.18"/>
<circle cx="218.0" cy="875.1" r="2.59" fill="url(#fg)"/><circle cx="136.8" cy="880.6" r="2.71" fill="url(#fg)"/><circle cx="311.7" cy="751.7" r="2.32" fill="url(#fg)"/><circle cx="230.9" cy="839.4" r="2.83" fill="url(#fg)"/><circle cx="206.3" cy="823.3" r="2.79" fill="url(#fg)"/><circle cx="236.1" cy="783.5" r="1.77" fill="url(#fg)"/><circle cx="197.4" cy="714.6" r="2.25" fill="url(#fg)"/><circle cx="263.8" cy="818.0" r="2.63" fill="url(#fg)"/><circle cx="317.1" cy="853.9" r="2.37" fill="url(#fg)"/><circle cx="92.5" cy="715.5" r="2.85" fill="url(#fg)"/><circle cx="138.8" cy="759.1" r="2.71" fill="url(#fg)"/><circle cx="267.7" cy="734.1" r="1.79" fill="url(#fg)"/><circle cx="127.2" cy="775.5" r="1.29" fill="url(#fg)"/><circle cx="205.3" cy="784.3" r="1.91" fill="url(#fg)"/><circle cx="111.4" cy="730.5" r="1.33" fill="url(#fg)"/><circle cx="301.8" cy="907.0" r="2.18" fill="url(#fg)"/><circle cx="94.3" cy="741.3" r="1.47" fill="url(#fg)"/><circle cx="147.7" cy="716.0" r="1.72" fill="url(#fg)"/><circle cx="116.2" cy="753.4" r="2.33" fill="url(#fg)"/><circle cx="186.8" cy="831.2" r="1.85" fill="url(#fg)"/><circle cx="209.3" cy="917.5" r="1.77" fill="url(#fg)"/><circle cx="79.5" cy="833.3" r="1.89" fill="url(#fg)"/><circle cx="276.2" cy="730.7" r="2.68" fill="url(#fg)"/><circle cx="64.1" cy="850.2" r="1.99" fill="url(#fg)"/><circle cx="147.3" cy="946.2" r="2.40" fill="url(#fg)"/><circle cx="105.2" cy="837.1" r="2.26" fill="url(#fg)"/><circle cx="69.3" cy="724.2" r="2.24" fill="url(#fg)"/><circle cx="262.1" cy="828.2" r="1.96" fill="url(#fg)"/><circle cx="200.4" cy="772.2" r="2.68" fill="url(#fg)"/><circle cx="326.4" cy="833.5" r="1.31" fill="url(#fg)"/><circle cx="170.0" cy="922.4" r="1.80" fill="url(#fg)"/><circle cx="89.2" cy="751.3" r="2.42" fill="url(#fg)"/><circle cx="232.3" cy="779.3" r="2.28" fill="url(#fg)"/><circle cx="270.7" cy="967.6" r="2.61" fill="url(#fg)"/><circle cx="180.2" cy="924.3" r="2.76" fill="url(#fg)"/><circle cx="300.7" cy="907.9" r="2.22" fill="url(#fg)"/><circle cx="201.7" cy="935.5" r="2.28" fill="url(#fg)"/><circle cx="259.8" cy="763.1" r="1.43" fill="url(#fg)"/><circle cx="134.9" cy="861.6" r="2.20" fill="url(#fg)"/><circle cx="115.0" cy="752.2" r="2.80" fill="url(#fg)"/><circle cx="79.8" cy="956.6" r="2.52" fill="url(#fg)"/><circle cx="218.9" cy="975.8" r="2.37" fill="url(#fg)"/><circle cx="61.9" cy="960.1" r="1.94" fill="url(#fg)"/><circle cx="313.9" cy="925.4" r="1.50" fill="url(#fg)"/><circle cx="71.0" cy="705.8" r="2.53" fill="url(#fg)"/><circle cx="279.2" cy="763.2" r="1.46" fill="url(#fg)"/><circle cx="161.5" cy="921.4" r="2.47" fill="url(#fg)"/><circle cx="300.2" cy="968.1" r="2.49" fill="url(#fg)"/><circle cx="291.5" cy="704.5" r="1.29" fill="url(#fg)"/><circle cx="298.9" cy="871.4" r="1.80" fill="url(#fg)"/><circle cx="95.5" cy="792.1" r="1.82" fill="url(#fg)"/><circle cx="197.3" cy="824.6" r="1.60" fill="url(#fg)"/><circle cx="82.7" cy="756.3" r="1.49" fill="url(#fg)"/><circle cx="87.8" cy="814.8" r="1.49" fill="url(#fg)"/><circle cx="281.6" cy="850.9" r="2.02" fill="url(#fg)"/><circle cx="237.1" cy="765.1" r="1.32" fill="url(#fg)"/><circle cx="81.8" cy="793.4" r="1.86" fill="url(#fg)"/><circle cx="130.0" cy="784.9" r="2.61" fill="url(#fg)"/><circle cx="62.4" cy="824.4" r="1.89" fill="url(#fg)"/><circle cx="138.1" cy="900.8" r="1.64" fill="url(#fg)"/><circle cx="71.7" cy="744.2" r="2.85" fill="url(#fg)"/><circle cx="155.8" cy="732.4" r="2.83" fill="url(#fg)"/><circle cx="238.7" cy="964.9" r="1.81" fill="url(#fg)"/><circle cx="284.4" cy="711.5" r="1.66" fill="url(#fg)"/><circle cx="280.1" cy="842.9" r="2.54" fill="url(#fg)"/><circle cx="166.9" cy="942.8" r="1.40" fill="url(#fg)"/><circle cx="232.7" cy="752.2" r="1.60" fill="url(#fg)"/><circle cx="304.6" cy="819.1" r="2.58" fill="url(#fg)"/><circle cx="138.7" cy="902.3" r="2.73" fill="url(#fg)"/><circle cx="233.6" cy="765.0" r="2.35" fill="url(#fg)"/><circle cx="323.4" cy="921.9" r="1.99" fill="url(#fg)"/><circle cx="170.6" cy="727.3" r="2.51" fill="url(#fg)"/><circle cx="103.8" cy="760.5" r="1.33" fill="url(#fg)"/><circle cx="105.4" cy="806.3" r="2.04" fill="url(#fg)"/><circle cx="108.5" cy="817.6" r="2.49" fill="url(#fg)"/><circle cx="86.8" cy="737.5" r="2.12" fill="url(#fg)"/><circle cx="310.4" cy="954.2" r="2.19" fill="url(#fg)"/><circle cx="85.4" cy="942.0" r="2.87" fill="url(#fg)"/><circle cx="309.1" cy="847.1" r="1.89" fill="url(#fg)"/><circle cx="222.6" cy="919.0" r="2.87" fill="url(#fg)"/><circle cx="196.7" cy="840.3" r="1.78" fill="url(#fg)"/><circle cx="209.6" cy="850.6" r="1.73" fill="url(#fg)"/><circle cx="186.9" cy="953.6" r="1.66" fill="url(#fg)"/><circle cx="130.3" cy="784.4" r="2.65" fill="url(#fg)"/><circle cx="144.0" cy="929.1" r="2.77" fill="url(#fg)"/><circle cx="302.6" cy="922.8" r="1.59" fill="url(#fg)"/><circle cx="184.8" cy="928.0" r="1.67" fill="url(#fg)"/><circle cx="226.7" cy="941.3" r="2.77" fill="url(#fg)"/><circle cx="157.1" cy="733.0" r="1.33" fill="url(#fg)"/><circle cx="147.7" cy="851.6" r="1.73" fill="url(#fg)"/><circle cx="288.2" cy="880.1" r="2.27" fill="url(#fg)"/><circle cx="289.0" cy="791.0" r="2.32" fill="url(#fg)"/><circle cx="157.2" cy="780.1" r="1.46" fill="url(#fg)"/><circle cx="278.4" cy="949.4" r="1.33" fill="url(#fg)"/><circle cx="258.5" cy="717.3" r="1.95" fill="url(#fg)"/><circle cx="147.7" cy="950.1" r="1.97" fill="url(#fg)"/><circle cx="201.5" cy="798.6" r="1.69" fill="url(#fg)"/><circle cx="127.4" cy="717.3" r="1.30" fill="url(#fg)"/><circle cx="212.4" cy="904.5" r="2.35" fill="url(#fg)"/><circle cx="131.8" cy="973.8" r="1.41" fill="url(#fg)"/><circle cx="179.6" cy="792.4" r="1.57" fill="url(#fg)"/><circle cx="326.2" cy="898.1" r="1.49" fill="url(#fg)"/><circle cx="109.0" cy="924.3" r="1.88" fill="url(#fg)"/><circle cx="143.5" cy="782.2" r="1.80" fill="url(#fg)"/><circle cx="223.1" cy="786.3" r="2.23" fill="url(#fg)"/><circle cx="77.6" cy="848.3" r="2.21" fill="url(#fg)"/><circle cx="148.6" cy="940.3" r="2.77" fill="url(#fg)"/><circle cx="242.0" cy="814.0" r="1.55" fill="url(#fg)"/><circle cx="233.3" cy="780.1" r="1.54" fill="url(#fg)"/><circle cx="207.5" cy="755.4" r="2.30" fill="url(#fg)"/><circle cx="270.4" cy="703.2" r="2.29" fill="url(#fg)"/><circle cx="113.0" cy="793.3" r="2.44" fill="url(#fg)"/><circle cx="327.4" cy="787.0" r="2.49" fill="url(#fg)"/><circle cx="156.1" cy="960.5" r="1.56" fill="url(#fg)"/><circle cx="244.2" cy="723.0" r="2.18" fill="url(#fg)"/><circle cx="265.8" cy="953.0" r="2.50" fill="url(#fg)"/><circle cx="212.2" cy="810.8" r="2.29" fill="url(#fg)"/><circle cx="239.6" cy="869.3" r="2.42" fill="url(#fg)"/><circle cx="266.5" cy="959.6" r="2.27" fill="url(#fg)"/><circle cx="302.7" cy="905.1" r="1.89" fill="url(#fg)"/><circle cx="282.3" cy="801.2" r="2.61" fill="url(#fg)"/><circle cx="303.5" cy="948.4" r="2.74" fill="url(#fg)"/><circle cx="251.8" cy="838.0" r="1.74" fill="url(#fg)"/><circle cx="237.0" cy="947.2" r="1.85" fill="url(#fg)"/><circle cx="118.3" cy="909.7" r="2.74" fill="url(#fg)"/><circle cx="117.1" cy="738.5" r="1.46" fill="url(#fg)"/><circle cx="212.9" cy="930.5" r="1.68" fill="url(#fg)"/><circle cx="279.1" cy="712.9" r="1.61" fill="url(#fg)"/><circle cx="211.5" cy="910.0" r="2.07" fill="url(#fg)"/><circle cx="250.5" cy="799.6" r="1.88" fill="url(#fg)"/><circle cx="204.3" cy="700.6" r="1.60" fill="url(#fg)"/><circle cx="157.2" cy="881.8" r="1.59" fill="url(#fg)"/><circle cx="127.5" cy="974.4" r="2.32" fill="url(#fg)"/><circle cx="173.8" cy="916.9" r="2.42" fill="url(#fg)"/><circle cx="286.3" cy="854.8" r="2.26" fill="url(#fg)"/><circle cx="86.8" cy="818.7" r="1.91" fill="url(#fg)"/><circle cx="130.9" cy="801.1" r="2.70" fill="url(#fg)"/><circle cx="121.7" cy="731.5" r="1.82" fill="url(#fg)"/><circle cx="106.9" cy="706.5" r="2.74" fill="url(#fg)"/><circle cx="211.7" cy="707.4" r="2.13" fill="url(#fg)"/><circle cx="108.2" cy="833.9" r="2.79" fill="url(#fg)"/><circle cx="331.0" cy="810.1" r="2.53" fill="url(#fg)"/><circle cx="196.5" cy="722.2" r="1.92" fill="url(#fg)"/><circle cx="284.4" cy="915.4" r="2.44" fill="url(#fg)"/><circle cx="333.6" cy="805.4" r="2.40" fill="url(#fg)"/><circle cx="286.7" cy="956.0" r="2.67" fill="url(#fg)"/><circle cx="301.8" cy="794.3" r="1.88" fill="url(#fg)"/><circle cx="231.4" cy="733.2" r="1.77" fill="url(#fg)"/><circle cx="162.7" cy="757.0" r="1.58" fill="url(#fg)"/><circle cx="240.8" cy="785.8" r="1.37" fill="url(#fg)"/><circle cx="281.1" cy="962.1" r="1.64" fill="url(#fg)"/><circle cx="249.7" cy="723.1" r="1.63" fill="url(#fg)"/><circle cx="105.5" cy="877.8" r="2.17" fill="url(#fg)"/><circle cx="287.6" cy="882.7" r="2.49" fill="url(#fg)"/><circle cx="302.3" cy="861.6" r="1.64" fill="url(#fg)"/><circle cx="105.0" cy="937.3" r="2.59" fill="url(#fg)"/><circle cx="238.9" cy="963.7" r="2.57" fill="url(#fg)"/><circle cx="171.6" cy="751.5" r="1.96" fill="url(#fg)"/><circle cx="314.1" cy="946.2" r="1.29" fill="url(#fg)"/><circle cx="62.0" cy="823.7" r="2.74" fill="url(#fg)"/><circle cx="303.4" cy="931.7" r="1.39" fill="url(#fg)"/><circle cx="117.1" cy="914.4" r="1.98" fill="url(#fg)"/><circle cx="148.4" cy="966.1" r="1.31" fill="url(#fg)"/><circle cx="194.8" cy="944.4" r="2.40" fill="url(#fg)"/><circle cx="306.1" cy="775.4" r="2.18" fill="url(#fg)"/><circle cx="331.1" cy="736.7" r="1.97" fill="url(#fg)"/><circle cx="334.6" cy="744.5" r="2.52" fill="url(#fg)"/><circle cx="267.5" cy="771.4" r="2.86" fill="url(#fg)"/><circle cx="276.2" cy="736.6" r="2.86" fill="url(#fg)"/><circle cx="304.5" cy="832.8" r="1.33" fill="url(#fg)"/><circle cx="277.3" cy="862.0" r="2.47" fill="url(#fg)"/><circle cx="82.0" cy="832.9" r="2.57" fill="url(#fg)"/><circle cx="261.8" cy="748.0" r="1.81" fill="url(#fg)"/><circle cx="185.8" cy="827.2" r="2.86" fill="url(#fg)"/><circle cx="318.6" cy="700.4" r="2.27" fill="url(#fg)"/><circle cx="98.1" cy="939.5" r="2.12" fill="url(#fg)"/><circle cx="308.7" cy="951.8" r="2.77" fill="url(#fg)"/><circle cx="106.7" cy="717.8" r="2.52" fill="url(#fg)"/><circle cx="188.9" cy="915.3" r="1.99" fill="url(#fg)"/><circle cx="174.9" cy="903.3" r="1.87" fill="url(#fg)"/><circle cx="197.5" cy="810.2" r="2.36" fill="url(#fg)"/><circle cx="79.7" cy="828.1" r="2.21" fill="url(#fg)"/><circle cx="249.7" cy="949.9" r="1.87" fill="url(#fg)"/><circle cx="326.3" cy="894.7" r="1.89" fill="url(#fg)"/><circle cx="215.6" cy="800.3" r="2.32" fill="url(#fg)"/><circle cx="66.9" cy="948.6" r="1.86" fill="url(#fg)"/><circle cx="63.2" cy="723.8" r="1.82" fill="url(#fg)"/><circle cx="132.9" cy="932.0" r="1.88" fill="url(#fg)"/><circle cx="313.9" cy="777.0" r="1.83" fill="url(#fg)"/><circle cx="323.5" cy="937.8" r="2.78" fill="url(#fg)"/><circle cx="91.7" cy="719.0" r="2.39" fill="url(#fg)"/><circle cx="153.4" cy="729.0" r="1.43" fill="url(#fg)"/><circle cx="149.4" cy="786.0" r="2.34" fill="url(#fg)"/><circle cx="334.0" cy="746.8" r="2.55" fill="url(#fg)"/><circle cx="224.6" cy="940.1" r="2.87" fill="url(#fg)"/><circle cx="313.8" cy="736.5" r="2.46" fill="url(#fg)"/><circle cx="274.4" cy="805.4" r="1.33" fill="url(#fg)"/><circle cx="270.6" cy="873.9" r="2.50" fill="url(#fg)"/><circle cx="269.4" cy="903.7" r="1.35" fill="url(#fg)"/><circle cx="320.7" cy="964.7" r="1.84" fill="url(#fg)"/><circle cx="277.6" cy="959.9" r="1.97" fill="url(#fg)"/><circle cx="153.0" cy="866.7" r="2.53" fill="url(#fg)"/><circle cx="174.3" cy="893.5" r="2.81" fill="url(#fg)"/><circle cx="163.6" cy="952.1" r="1.50" fill="url(#fg)"/><circle cx="224.4" cy="930.8" r="1.93" fill="url(#fg)"/><circle cx="138.5" cy="776.9" r="1.86" fill="url(#fg)"/><circle cx="168.1" cy="814.7" r="1.67" fill="url(#fg)"/><circle cx="224.8" cy="761.5" r="1.70" fill="url(#fg)"/><circle cx="188.9" cy="952.2" r="1.72" fill="url(#fg)"/><circle cx="110.3" cy="914.6" r="2.21" fill="url(#fg)"/><circle cx="93.4" cy="969.5" r="1.60" fill="url(#fg)"/><circle cx="235.3" cy="766.1" r="2.60" fill="url(#fg)"/><circle cx="162.5" cy="874.2" r="2.55" fill="url(#fg)"/><circle cx="254.9" cy="786.0" r="1.76" fill="url(#fg)"/><circle cx="221.5" cy="845.6" r="2.42" fill="url(#fg)"/><circle cx="79.0" cy="717.8" r="1.28" fill="url(#fg)"/><circle cx="283.0" cy="748.3" r="2.48" fill="url(#fg)"/><circle cx="186.5" cy="964.4" r="2.30" fill="url(#fg)"/><circle cx="294.3" cy="727.8" r="2.71" fill="url(#fg)"/><circle cx="165.7" cy="711.7" r="2.65" fill="url(#fg)"/><circle cx="124.8" cy="880.9" r="1.31" fill="url(#fg)"/><circle cx="181.7" cy="828.9" r="2.00" fill="url(#fg)"/><circle cx="289.0" cy="779.7" r="2.74" fill="url(#fg)"/><circle cx="104.4" cy="968.1" r="1.74" fill="url(#fg)"/><circle cx="247.9" cy="957.8" r="2.37" fill="url(#fg)"/><circle cx="296.3" cy="724.2" r="2.83" fill="url(#fg)"/><circle cx="71.3" cy="887.3" r="2.60" fill="url(#fg)"/><circle cx="272.3" cy="901.5" r="2.25" fill="url(#fg)"/><circle cx="333.4" cy="762.1" r="2.74" fill="url(#fg)"/><circle cx="283.3" cy="753.1" r="2.02" fill="url(#fg)"/><circle cx="180.7" cy="741.3" r="2.64" fill="url(#fg)"/><circle cx="297.0" cy="908.0" r="1.34" fill="url(#fg)"/><circle cx="262.2" cy="957.0" r="2.43" fill="url(#fg)"/><circle cx="318.1" cy="965.9" r="2.41" fill="url(#fg)"/><circle cx="265.6" cy="783.8" r="2.52" fill="url(#fg)"/><circle cx="146.7" cy="773.6" r="1.81" fill="url(#fg)"/><circle cx="145.6" cy="710.6" r="1.52" fill="url(#fg)"/><circle cx="136.6" cy="760.1" r="1.31" fill="url(#fg)"/><circle cx="263.8" cy="928.6" r="1.81" fill="url(#fg)"/><circle cx="257.5" cy="940.7" r="1.33" fill="url(#fg)"/><circle cx="218.7" cy="863.3" r="1.56" fill="url(#fg)"/><circle cx="309.6" cy="923.0" r="2.14" fill="url(#fg)"/><circle cx="208.6" cy="930.7" r="1.37" fill="url(#fg)"/><circle cx="302.7" cy="845.2" r="1.77" fill="url(#fg)"/><circle cx="132.0" cy="849.9" r="1.44" fill="url(#fg)"/><circle cx="289.0" cy="813.2" r="2.72" fill="url(#fg)"/><circle cx="324.0" cy="919.8" r="1.45" fill="url(#fg)"/><circle cx="127.7" cy="874.6" r="2.79" fill="url(#fg)"/><circle cx="233.2" cy="799.9" r="2.57" fill="url(#fg)"/><circle cx="188.5" cy="863.4" r="2.01" fill="url(#fg)"/><circle cx="323.4" cy="869.8" r="1.45" fill="url(#fg)"/><circle cx="238.2" cy="811.6" r="1.55" fill="url(#fg)"/><circle cx="197.4" cy="773.6" r="2.80" fill="url(#fg)"/><circle cx="120.8" cy="850.9" r="1.29" fill="url(#fg)"/><circle cx="144.1" cy="880.5" r="2.08" fill="url(#fg)"/><circle cx="243.5" cy="859.0" r="2.26" fill="url(#fg)"/><circle cx="131.1" cy="956.0" r="2.32" fill="url(#fg)"/><circle cx="67.7" cy="931.3" r="1.55" fill="url(#fg)"/><circle cx="175.2" cy="879.7" r="2.72" fill="url(#fg)"/><circle cx="107.4" cy="782.0" r="2.10" fill="url(#fg)"/><circle cx="248.8" cy="828.4" r="2.41" fill="url(#fg)"/><circle cx="334.4" cy="718.3" r="1.93" fill="url(#fg)"/><circle cx="279.6" cy="924.6" r="2.81" fill="url(#fg)"/><circle cx="153.3" cy="768.9" r="2.35" fill="url(#fg)"/><circle cx="289.3" cy="921.2" r="2.14" fill="url(#fg)"/><circle cx="95.7" cy="893.8" r="1.69" fill="url(#fg)"/><circle cx="67.0" cy="700.6" r="1.83" fill="url(#fg)"/><circle cx="163.5" cy="851.0" r="1.99" fill="url(#fg)"/><circle cx="201.8" cy="875.4" r="1.57" fill="url(#fg)"/><circle cx="281.6" cy="885.7" r="2.58" fill="url(#fg)"/><circle cx="216.2" cy="849.6" r="2.62" fill="url(#fg)"/><circle cx="242.7" cy="773.7" r="2.66" fill="url(#fg)"/><circle cx="113.2" cy="776.3" r="2.60" fill="url(#fg)"/><circle cx="185.8" cy="742.2" r="2.72" fill="url(#fg)"/><circle cx="225.2" cy="705.2" r="1.83" fill="url(#fg)"/><circle cx="155.2" cy="777.5" r="2.44" fill="url(#fg)"/><circle cx="123.3" cy="723.1" r="2.65" fill="url(#fg)"/><circle cx="219.3" cy="832.0" r="2.70" fill="url(#fg)"/><circle cx="249.0" cy="935.9" r="1.82" fill="url(#fg)"/><circle cx="144.2" cy="792.0" r="2.03" fill="url(#fg)"/><circle cx="219.9" cy="755.1" r="2.19" fill="url(#fg)"/><circle cx="320.1" cy="907.5" r="1.29" fill="url(#fg)"/><circle cx="191.9" cy="874.7" r="1.37" fill="url(#fg)"/><circle cx="334.6" cy="918.0" r="2.17" fill="url(#fg)"/><circle cx="203.3" cy="876.4" r="1.91" fill="url(#fg)"/><circle cx="219.7" cy="840.3" r="1.83" fill="url(#fg)"/><circle cx="190.2" cy="716.3" r="2.26" fill="url(#fg)"/><circle cx="125.6" cy="773.6" r="1.52" fill="url(#fg)"/><circle cx="267.8" cy="825.9" r="2.21" fill="url(#fg)"/><circle cx="201.6" cy="862.7" r="1.86" fill="url(#fg)"/><circle cx="131.9" cy="912.5" r="2.44" fill="url(#fg)"/><circle cx="102.6" cy="739.3" r="1.84" fill="url(#fg)"/><circle cx="280.1" cy="785.8" r="1.64" fill="url(#fg)"/><circle cx="179.2" cy="838.6" r="2.28" fill="url(#fg)"/><circle cx="148.4" cy="810.8" r="2.85" fill="url(#fg)"/><circle cx="270.0" cy="760.8" r="2.09" fill="url(#fg)"/><circle cx="102.1" cy="971.5" r="1.70" fill="url(#fg)"/><circle cx="316.4" cy="760.0" r="1.64" fill="url(#fg)"/><circle cx="154.9" cy="790.3" r="1.83" fill="url(#fg)"/><circle cx="168.9" cy="813.2" r="1.46" fill="url(#fg)"/><circle cx="233.9" cy="891.8" r="1.64" fill="url(#fg)"/><circle cx="97.4" cy="709.7" r="1.57" fill="url(#fg)"/><circle cx="203.3" cy="872.9" r="2.78" fill="url(#fg)"/><circle cx="287.2" cy="744.0" r="1.69" fill="url(#fg)"/><circle cx="114.3" cy="719.2" r="1.32" fill="url(#fg)"/><circle cx="210.1" cy="964.5" r="2.84" fill="url(#fg)"/><circle cx="66.7" cy="769.1" r="1.84" fill="url(#fg)"/><circle cx="298.0" cy="728.2" r="1.98" fill="url(#fg)"/><circle cx="302.0" cy="916.6" r="1.57" fill="url(#fg)"/><circle cx="203.5" cy="888.5" r="1.48" fill="url(#fg)"/><circle cx="298.9" cy="887.7" r="1.87" fill="url(#fg)"/><circle cx="152.7" cy="724.7" r="2.72" fill="url(#fg)"/><circle cx="113.1" cy="862.7" r="2.40" fill="url(#fg)"/><circle cx="227.2" cy="920.7" r="1.72" fill="url(#fg)"/><circle cx="244.8" cy="758.7" r="2.41" fill="url(#fg)"/><circle cx="268.8" cy="829.0" r="2.45" fill="url(#fg)"/><circle cx="247.5" cy="704.2" r="1.62" fill="url(#fg)"/><circle cx="118.2" cy="891.5" r="2.61" fill="url(#fg)"/><circle cx="123.8" cy="956.0" r="1.59" fill="url(#fg)"/><circle cx="178.9" cy="935.3" r="1.73" fill="url(#fg)"/><circle cx="297.6" cy="712.3" r="1.75" fill="url(#fg)"/><circle cx="292.8" cy="881.6" r="1.48" fill="url(#fg)"/><circle cx="195.7" cy="846.2" r="1.33" fill="url(#fg)"/><circle cx="318.3" cy="707.0" r="2.77" fill="url(#fg)"/><circle cx="252.5" cy="882.0" r="1.87" fill="url(#fg)"/><circle cx="128.1" cy="836.6" r="2.80" fill="url(#fg)"/><circle cx="86.5" cy="832.3" r="2.25" fill="url(#fg)"/><circle cx="329.2" cy="895.2" r="2.80" fill="url(#fg)"/><circle cx="254.0" cy="820.6" r="2.78" fill="url(#fg)"/><circle cx="71.1" cy="907.2" r="1.30" fill="url(#fg)"/><circle cx="84.7" cy="714.0" r="2.00" fill="url(#fg)"/><circle cx="280.7" cy="920.4" r="2.27" fill="url(#fg)"/><circle cx="162.3" cy="781.0" r="2.01" fill="url(#fg)"/><circle cx="151.4" cy="842.4" r="2.31" fill="url(#fg)"/><circle cx="85.5" cy="957.4" r="1.49" fill="url(#fg)"/><circle cx="302.0" cy="704.3" r="1.29" fill="url(#fg)"/><circle cx="326.1" cy="791.1" r="1.91" fill="url(#fg)"/><circle cx="273.5" cy="722.5" r="2.25" fill="url(#fg)"/><circle cx="300.3" cy="833.8" r="1.32" fill="url(#fg)"/><circle cx="102.1" cy="942.8" r="1.60" fill="url(#fg)"/><circle cx="255.6" cy="877.3" r="2.52" fill="url(#fg)"/><circle cx="238.7" cy="848.8" r="2.56" fill="url(#fg)"/><circle cx="259.7" cy="763.3" r="1.40" fill="url(#fg)"/><circle cx="222.8" cy="859.1" r="2.34" fill="url(#fg)"/><circle cx="140.8" cy="973.2" r="2.24" fill="url(#fg)"/><circle cx="176.2" cy="747.0" r="1.57" fill="url(#fg)"/><circle cx="135.6" cy="889.6" r="1.94" fill="url(#fg)"/><circle cx="285.0" cy="788.3" r="2.63" fill="url(#fg)"/><circle cx="328.8" cy="885.3" r="2.55" fill="url(#fg)"/><circle cx="140.6" cy="827.3" r="1.89" fill="url(#fg)"/><circle cx="171.1" cy="969.4" r="1.81" fill="url(#fg)"/><circle cx="327.4" cy="902.9" r="1.71" fill="url(#fg)"/><circle cx="180.0" cy="819.0" r="2.01" fill="url(#fg)"/><circle cx="322.3" cy="876.2" r="2.07" fill="url(#fg)"/><circle cx="221.6" cy="795.0" r="1.49" fill="url(#fg)"/><circle cx="167.7" cy="923.7" r="2.55" fill="url(#fg)"/><circle cx="69.3" cy="876.6" r="2.51" fill="url(#fg)"/><circle cx="234.8" cy="964.7" r="1.77" fill="url(#fg)"/><circle cx="106.0" cy="811.1" r="1.32" fill="url(#fg)"/><circle cx="297.2" cy="823.2" r="2.34" fill="url(#fg)"/><circle cx="199.2" cy="845.9" r="1.88" fill="url(#fg)"/><circle cx="277.3" cy="941.3" r="2.87" fill="url(#fg)"/><circle cx="216.8" cy="829.1" r="2.19" fill="url(#fg)"/><circle cx="325.6" cy="791.8" r="1.30" fill="url(#fg)"/><circle cx="199.6" cy="938.0" r="1.51" fill="url(#fg)"/><circle cx="155.6" cy="873.8" r="2.29" fill="url(#fg)"/><circle cx="151.8" cy="909.5" r="2.60" fill="url(#fg)"/><circle cx="254.9" cy="941.6" r="1.50" fill="url(#fg)"/><circle cx="174.4" cy="813.8" r="1.74" fill="url(#fg)"/><circle cx="177.8" cy="957.9" r="2.47" fill="url(#fg)"/><circle cx="112.5" cy="892.2" r="2.32" fill="url(#fg)"/><circle cx="129.4" cy="795.2" r="1.49" fill="url(#fg)"/><circle cx="185.2" cy="904.4" r="1.84" fill="url(#fg)"/><circle cx="146.1" cy="767.8" r="2.84" fill="url(#fg)"/><circle cx="129.2" cy="822.5" r="1.65" fill="url(#fg)"/><circle cx="195.9" cy="916.3" r="2.67" fill="url(#fg)"/><circle cx="220.7" cy="957.5" r="1.74" fill="url(#fg)"/><circle cx="250.8" cy="802.0" r="1.70" fill="url(#fg)"/><circle cx="169.8" cy="757.1" r="2.28" fill="url(#fg)"/><circle cx="105.0" cy="896.6" r="2.45" fill="url(#fg)"/><circle cx="65.9" cy="805.0" r="2.32" fill="url(#fg)"/><circle cx="239.0" cy="871.6" r="1.30" fill="url(#fg)"/><circle cx="266.6" cy="738.0" r="1.31" fill="url(#fg)"/><circle cx="268.2" cy="820.1" r="1.59" fill="url(#fg)"/><circle cx="99.1" cy="805.3" r="2.34" fill="url(#fg)"/><circle cx="69.2" cy="843.5" r="2.00" fill="url(#fg)"/><circle cx="301.6" cy="817.8" r="1.54" fill="url(#fg)"/><circle cx="223.9" cy="725.1" r="1.43" fill="url(#fg)"/><circle cx="308.5" cy="856.0" r="1.84" fill="url(#fg)"/><circle cx="118.9" cy="739.8" r="1.94" fill="url(#fg)"/><circle cx="176.5" cy="961.5" r="2.03" fill="url(#fg)"/><circle cx="167.6" cy="838.0" r="1.76" fill="url(#fg)"/><circle cx="199.0" cy="808.3" r="1.60" fill="url(#fg)"/><circle cx="163.2" cy="914.8" r="1.42" fill="url(#fg)"/><circle cx="227.9" cy="956.8" r="2.22" fill="url(#fg)"/><circle cx="186.3" cy="940.4" r="2.44" fill="url(#fg)"/><circle cx="153.4" cy="700.3" r="2.74" fill="url(#fg)"/><circle cx="184.2" cy="788.5" r="1.29" fill="url(#fg)"/><circle cx="120.6" cy="903.3" r="2.25" fill="url(#fg)"/><circle cx="103.2" cy="910.0" r="2.54" fill="url(#fg)"/><circle cx="85.4" cy="870.8" r="1.81" fill="url(#fg)"/><circle cx="165.3" cy="779.7" r="2.14" fill="url(#fg)"/><circle cx="84.8" cy="965.9" r="1.52" fill="url(#fg)"/><circle cx="333.4" cy="707.2" r="1.94" fill="url(#fg)"/><circle cx="135.6" cy="974.5" r="1.83" fill="url(#fg)"/><circle cx="336.9" cy="803.5" r="1.46" fill="url(#fg)"/><circle cx="164.9" cy="718.0" r="2.06" fill="url(#fg)"/><circle cx="105.1" cy="761.0" r="1.51" fill="url(#fg)"/><circle cx="149.6" cy="974.9" r="2.14" fill="url(#fg)"/><circle cx="235.0" cy="929.7" r="1.97" fill="url(#fg)"/><circle cx="242.9" cy="704.0" r="2.12" fill="url(#fg)"/><circle cx="291.2" cy="799.2" r="1.47" fill="url(#fg)"/><circle cx="314.1" cy="917.6" r="1.79" fill="url(#fg)"/><circle cx="92.2" cy="805.8" r="2.05" fill="url(#fg)"/><circle cx="132.6" cy="936.6" r="2.18" fill="url(#fg)"/><circle cx="284.2" cy="845.4" r="2.78" fill="url(#fg)"/><circle cx="236.1" cy="838.6" r="2.06" fill="url(#fg)"/><circle cx="297.2" cy="872.4" r="2.17" fill="url(#fg)"/><circle cx="106.2" cy="944.0" r="2.35" fill="url(#fg)"/><circle cx="332.8" cy="812.7" r="1.61" fill="url(#fg)"/><circle cx="74.8" cy="792.1" r="2.08" fill="url(#fg)"/><circle cx="128.8" cy="900.6" r="1.58" fill="url(#fg)"/><circle cx="314.4" cy="742.3" r="1.57" fill="url(#fg)"/><circle cx="93.0" cy="918.4" r="2.69" fill="url(#fg)"/><circle cx="251.3" cy="766.7" r="2.62" fill="url(#fg)"/><circle cx="253.2" cy="770.2" r="2.72" fill="url(#fg)"/><circle cx="271.1" cy="774.8" r="2.14" fill="url(#fg)"/><circle cx="62.5" cy="730.3" r="1.41" fill="url(#fg)"/><circle cx="286.5" cy="825.1" r="2.24" fill="url(#fg)"/><circle cx="313.8" cy="779.4" r="1.50" fill="url(#fg)"/><circle cx="133.0" cy="959.2" r="1.80" fill="url(#fg)"/><circle cx="72.1" cy="719.2" r="1.89" fill="url(#fg)"/><circle cx="306.1" cy="762.4" r="2.52" fill="url(#fg)"/><circle cx="160.1" cy="970.7" r="2.25" fill="url(#fg)"/><circle cx="125.9" cy="790.5" r="2.13" fill="url(#fg)"/><circle cx="171.1" cy="825.2" r="2.81" fill="url(#fg)"/><circle cx="70.4" cy="799.4" r="2.47" fill="url(#fg)"/><circle cx="309.6" cy="942.3" r="1.89" fill="url(#fg)"/><circle cx="159.7" cy="946.6" r="2.20" fill="url(#fg)"/><circle cx="325.1" cy="733.7" r="2.52" fill="url(#fg)"/><circle cx="261.8" cy="975.4" r="1.68" fill="url(#fg)"/><circle cx="226.4" cy="935.7" r="2.01" fill="url(#fg)"/><circle cx="94.4" cy="889.5" r="1.54" fill="url(#fg)"/><circle cx="105.9" cy="975.3" r="2.03" fill="url(#fg)"/><circle cx="326.1" cy="961.0" r="1.51" fill="url(#fg)"/><circle cx="124.7" cy="911.1" r="1.56" fill="url(#fg)"/><circle cx="88.3" cy="725.8" r="2.67" fill="url(#fg)"/><circle cx="307.7" cy="941.1" r="1.89" fill="url(#fg)"/><circle cx="125.9" cy="847.6" r="1.33" fill="url(#fg)"/><circle cx="118.3" cy="953.1" r="2.86" fill="url(#fg)"/><circle cx="163.4" cy="762.4" r="2.26" fill="url(#fg)"/><circle cx="311.3" cy="857.1" r="2.13" fill="url(#fg)"/><circle cx="244.3" cy="898.1" r="1.75" fill="url(#fg)"/><circle cx="151.8" cy="831.9" r="2.03" fill="url(#fg)"/><circle cx="334.3" cy="753.4" r="1.32" fill="url(#fg)"/><circle cx="213.2" cy="969.9" r="2.79" fill="url(#fg)"/><circle cx="100.4" cy="976.5" r="2.73" fill="url(#fg)"/><circle cx="133.1" cy="767.5" r="1.60" fill="url(#fg)"/><circle cx="194.1" cy="853.9" r="1.62" fill="url(#fg)"/><circle cx="198.0" cy="846.2" r="1.53" fill="url(#fg)"/><circle cx="240.4" cy="734.2" r="2.02" fill="url(#fg)"/><circle cx="113.2" cy="739.6" r="2.20" fill="url(#fg)"/><circle cx="283.8" cy="845.2" r="1.49" fill="url(#fg)"/><circle cx="109.9" cy="940.3" r="2.18" fill="url(#fg)"/><circle cx="136.7" cy="807.1" r="1.51" fill="url(#fg)"/><circle cx="220.4" cy="701.9" r="2.53" fill="url(#fg)"/><circle cx="114.6" cy="797.6" r="2.82" fill="url(#fg)"/><circle cx="76.5" cy="794.8" r="2.28" fill="url(#fg)"/><circle cx="234.9" cy="929.7" r="2.58" fill="url(#fg)"/><circle cx="186.4" cy="915.6" r="1.66" fill="url(#fg)"/><circle cx="278.1" cy="930.3" r="1.30" fill="url(#fg)"/><circle cx="273.1" cy="797.6" r="1.47" fill="url(#fg)"/><circle cx="100.0" cy="774.2" r="2.58" fill="url(#fg)"/><circle cx="298.4" cy="874.5" r="1.85" fill="url(#fg)"/><circle cx="136.0" cy="758.1" r="1.40" fill="url(#fg)"/><circle cx="186.8" cy="879.6" r="2.57" fill="url(#fg)"/><circle cx="269.3" cy="943.9" r="2.19" fill="url(#fg)"/><circle cx="266.2" cy="872.7" r="2.32" fill="url(#fg)"/><circle cx="274.3" cy="727.0" r="1.33" fill="url(#fg)"/><circle cx="119.6" cy="811.0" r="1.99" fill="url(#fg)"/>
<circle cx="111" cy="716" r="12.2" fill="url(#hg)" opacity="0.5"/><circle cx="150.4" cy="723.9" r="8.5" fill="url(#hg)" opacity="0.5"/><circle cx="134.9" cy="773.1" r="10.3" fill="url(#hg)" opacity="0.5"/><circle cx="81.8" cy="776.5" r="9.2" fill="url(#hg)" opacity="0.5"/><circle cx="176.9" cy="755.8" r="13.3" fill="url(#hg)" opacity="0.5"/><circle cx="218.1" cy="722.6" r="12.2" fill="url(#hg)" opacity="0.5"/><circle cx="238" cy="741.2" r="15.2" fill="url(#hg)" opacity="0.5"/><circle cx="194.2" cy="702.1" r="9.2" fill="url(#hg)" opacity="0.5"/><circle cx="305.8" cy="726.6" r="9.2" fill="url(#hg)" opacity="0.5"/><circle cx="291.7" cy="739.3" r="9.9" fill="url(#hg)" opacity="0.5"/><circle cx="280.5" cy="758.5" r="10.3" fill="url(#hg)" opacity="0.5"/><circle cx="296.5" cy="784.5" r="9.2" fill="url(#hg)" opacity="0.5"/><circle cx="313.8" cy="785" r="9.2" fill="url(#hg)" opacity="0.5"/><circle cx="109.2" cy="798.3" r="11.0" fill="url(#hg)" opacity="0.5"/><circle cx="91.4" cy="849.3" r="12.2" fill="url(#hg)" opacity="0.5"/><circle cx="72" cy="871.4" r="11.0" fill="url(#hg)" opacity="0.5"/><circle cx="100.4" cy="868.2" r="8.0" fill="url(#hg)" opacity="0.5"/><circle cx="202.2" cy="824.9" r="21.4" fill="url(#hg)" opacity="0.5"/><circle cx="166.8" cy="801" r="8.5" fill="url(#hg)" opacity="0.5"/><circle cx="216.8" cy="797" r="8.5" fill="url(#hg)" opacity="0.5"/><circle cx="212.8" cy="864.8" r="10.3" fill="url(#hg)" opacity="0.5"/><circle cx="172.9" cy="878" r="13.3" fill="url(#hg)" opacity="0.5"/><circle cx="243.4" cy="863.4" r="9.2" fill="url(#hg)" opacity="0.5"/><circle cx="313.5" cy="842" r="10.3" fill="url(#hg)" opacity="0.5"/><circle cx="318.5" cy="845" r="9.2" fill="url(#hg)" opacity="0.5"/><circle cx="108.4" cy="938.6" r="13.3" fill="url(#hg)" opacity="0.5"/><circle cx="178.5" cy="928.5" r="8.0" fill="url(#hg)" opacity="0.5"/><circle cx="184" cy="926" r="8.0" fill="url(#hg)" opacity="0.5"/><circle cx="280.5" cy="890" r="9.2" fill="url(#hg)" opacity="0.5"/><circle cx="323.1" cy="894" r="9.2" fill="url(#hg)" opacity="0.5"/><circle cx="331.6" cy="933.8" r="10.3" fill="url(#hg)" opacity="0.5"/>
<circle cx="90.6" cy="702.7" r="3.92" fill="url(#sg)"/><circle cx="95.9" cy="711.2" r="4.64" fill="url(#sg)"/><circle cx="111" cy="716" r="7.68" fill="url(#sg)"/><circle cx="116.3" cy="730.6" r="3.92" fill="url(#sg)"/><circle cx="150.4" cy="723.9" r="5.37" fill="url(#sg)"/><circle cx="129.1" cy="757.9" r="3.92" fill="url(#sg)"/><circle cx="134.9" cy="773.1" r="6.52" fill="url(#sg)"/><circle cx="81.8" cy="776.5" r="5.80" fill="url(#sg)"/><circle cx="70.6" cy="783.7" r="3.04" fill="url(#sg)"/><circle cx="151.7" cy="742.5" r="3.04" fill="url(#sg)"/><circle cx="142.4" cy="701.3" r="2.55" fill="url(#sgs)"/><circle cx="125.1" cy="739.9" r="1.89" fill="url(#fg)"/><circle cx="137.1" cy="757.1" r="1.89" fill="url(#fg)"/><circle cx="176.9" cy="755.8" r="8.41" fill="url(#sg)"/><circle cx="218.1" cy="722.6" r="7.68" fill="url(#sg)"/><circle cx="238" cy="741.2" r="9.57" fill="url(#sg)"/><circle cx="194.2" cy="702.1" r="5.80" fill="url(#sg)"/><circle cx="175.6" cy="705.8" r="3.48" fill="url(#sg)"/><circle cx="220" cy="702.7" r="4.35" fill="url(#sg)"/><circle cx="225" cy="703.5" r="4.35" fill="url(#sg)"/><circle cx="230.1" cy="705.3" r="3.48" fill="url(#sg)"/><circle cx="191.5" cy="719.9" r="3.04" fill="url(#sg)"/><circle cx="154.3" cy="722.6" r="4.64" fill="url(#sg)"/><circle cx="166.3" cy="729.2" r="2.75" fill="url(#sg)"/><circle cx="218.1" cy="743.8" r="3.92" fill="url(#sg)"/><circle cx="224.2" cy="746.5" r="3.48" fill="url(#sg)"/><circle cx="243.4" cy="729.2" r="3.04" fill="url(#sg)"/><circle cx="154.3" cy="741.2" r="2.55" fill="url(#sgs)"/><circle cx="232.7" cy="769.1" r="3.04" fill="url(#sg)"/><circle cx="186.2" cy="717.3" r="1.89" fill="url(#fg)"/><circle cx="251.3" cy="712" r="4.64" fill="url(#sg)"/><circle cx="305.8" cy="726.6" r="5.80" fill="url(#sg)"/><circle cx="291.7" cy="739.3" r="6.23" fill="url(#sg)"/><circle cx="280.5" cy="758.5" r="6.52" fill="url(#sg)"/><circle cx="273.4" cy="761.7" r="3.48" fill="url(#sg)"/><circle cx="260.6" cy="771.2" r="3.92" fill="url(#sg)"/><circle cx="296.5" cy="784.5" r="5.80" fill="url(#sg)"/><circle cx="313.8" cy="785" r="5.80" fill="url(#sg)"/><circle cx="331" cy="725.2" r="3.04" fill="url(#sg)"/><circle cx="335" cy="704" r="3.92" fill="url(#sg)"/><circle cx="247.3" cy="729.2" r="2.55" fill="url(#sgs)"/><circle cx="289.8" cy="725.2" r="2.07" fill="url(#sgs)"/><circle cx="285.9" cy="773.1" r="2.55" fill="url(#sgs)"/><circle cx="264.6" cy="726.6" r="1.89" fill="url(#fg)"/><circle cx="296.5" cy="765.1" r="1.89" fill="url(#fg)"/><circle cx="109.2" cy="798.3" r="6.96" fill="url(#sg)"/><circle cx="91.4" cy="849.3" r="7.68" fill="url(#sg)"/><circle cx="72" cy="871.4" r="6.96" fill="url(#sg)"/><circle cx="100.4" cy="868.2" r="5.08" fill="url(#sg)"/><circle cx="87.9" cy="864.8" r="3.48" fill="url(#sg)"/><circle cx="64.8" cy="805" r="3.04" fill="url(#sg)"/><circle cx="74.6" cy="830.2" r="3.48" fill="url(#sg)"/><circle cx="72" cy="839.5" r="2.55" fill="url(#sgs)"/><circle cx="129.1" cy="856" r="4.21" fill="url(#sg)"/><circle cx="145" cy="826.2" r="3.92" fill="url(#sg)"/><circle cx="110.5" cy="836.8" r="2.55" fill="url(#sgs)"/><circle cx="99.9" cy="819.6" r="2.55" fill="url(#sgs)"/><circle cx="109.2" cy="858.1" r="1.89" fill="url(#fg)"/><circle cx="68" cy="822.2" r="1.89" fill="url(#fg)"/><circle cx="139.7" cy="794.3" r="2.55" fill="url(#sgs)"/><circle cx="202.2" cy="824.9" r="13.49" fill="url(#sg)"/><circle cx="166.8" cy="801" r="5.37" fill="url(#sg)"/><circle cx="216.8" cy="797" r="5.37" fill="url(#sg)"/><circle cx="213.6" cy="816.9" r="4.64" fill="url(#sg)"/><circle cx="212.8" cy="864.8" r="6.52" fill="url(#sg)"/><circle cx="172.9" cy="878" r="8.41" fill="url(#sg)"/><circle cx="166.3" cy="858.1" r="4.64" fill="url(#sg)"/><circle cx="155.7" cy="882" r="3.92" fill="url(#sg)"/><circle cx="243.4" cy="863.4" r="5.80" fill="url(#sg)"/><circle cx="227.4" cy="813" r="3.48" fill="url(#sg)"/><circle cx="239.4" cy="824.9" r="3.04" fill="url(#sg)"/><circle cx="194.2" cy="883.4" r="3.04" fill="url(#sg)"/><circle cx="218.1" cy="883.4" r="3.04" fill="url(#sg)"/><circle cx="182.2" cy="806.3" r="1.89" fill="url(#fg)"/><circle cx="300.5" cy="814.8" r="4.64" fill="url(#sg)"/><circle cx="313.5" cy="842" r="6.52" fill="url(#sg)"/><circle cx="318.5" cy="845" r="5.80" fill="url(#sg)"/><circle cx="330.5" cy="842.2" r="3.92" fill="url(#sg)"/><circle cx="299.1" cy="858.1" r="3.92" fill="url(#sg)"/><circle cx="332.4" cy="866.1" r="3.04" fill="url(#sg)"/><circle cx="256.6" cy="878.6" r="3.48" fill="url(#sg)"/><circle cx="289.8" cy="856.8" r="2.55" fill="url(#sgs)"/><circle cx="285.9" cy="832.9" r="1.89" fill="url(#fg)"/><circle cx="280.5" cy="884.7" r="3.04" fill="url(#sg)"/><circle cx="291.2" cy="815.6" r="2.55" fill="url(#sgs)"/><circle cx="108.4" cy="938.6" r="8.41" fill="url(#sg)"/><circle cx="66.6" cy="891.3" r="3.92" fill="url(#sg)"/><circle cx="78.6" cy="889.2" r="3.92" fill="url(#sg)"/><circle cx="141" cy="891.8" r="4.64" fill="url(#sg)"/><circle cx="138.4" cy="919.2" r="3.92" fill="url(#sg)"/><circle cx="136.5" cy="930.6" r="3.48" fill="url(#sg)"/><circle cx="125.9" cy="929.8" r="3.92" fill="url(#sg)"/><circle cx="103" cy="928.5" r="3.04" fill="url(#sg)"/><circle cx="117.9" cy="949" r="3.04" fill="url(#sg)"/><circle cx="86.6" cy="945" r="3.48" fill="url(#sg)"/><circle cx="66.6" cy="942.3" r="3.04" fill="url(#sg)"/><circle cx="95.3" cy="966.5" r="3.92" fill="url(#sg)"/><circle cx="66.6" cy="973.7" r="4.64" fill="url(#sg)"/><circle cx="99.3" cy="909.9" r="2.55" fill="url(#sgs)"/><circle cx="117.1" cy="918.4" r="2.55" fill="url(#sgs)"/><circle cx="74.6" cy="912.6" r="2.55" fill="url(#sgs)"/><circle cx="106.5" cy="898" r="2.55" fill="url(#sgs)"/><circle cx="93.2" cy="932.5" r="2.55" fill="url(#sgs)"/><circle cx="115.8" cy="925.9" r="2.55" fill="url(#sgs)"/><circle cx="151.7" cy="925.9" r="2.55" fill="url(#sgs)"/><circle cx="178.5" cy="928.5" r="5.08" fill="url(#sg)"/><circle cx="184" cy="926" r="5.08" fill="url(#sg)"/><circle cx="202.2" cy="923.2" r="4.64" fill="url(#sg)"/><circle cx="199.5" cy="931.2" r="4.21" fill="url(#sg)"/><circle cx="196.8" cy="942.3" r="3.48" fill="url(#sg)"/><circle cx="155.7" cy="940.5" r="3.92" fill="url(#sg)"/><circle cx="167.6" cy="955.6" r="3.04" fill="url(#sg)"/><circle cx="239.4" cy="971" r="3.92" fill="url(#sg)"/><circle cx="227.4" cy="905.9" r="4.21" fill="url(#sg)"/><circle cx="235.4" cy="888.7" r="3.92" fill="url(#sg)"/><circle cx="206.1" cy="898" r="3.04" fill="url(#sg)"/><circle cx="173" cy="890" r="2.75" fill="url(#sg)"/><circle cx="192.9" cy="887.3" r="2.75" fill="url(#sg)"/><circle cx="224.8" cy="923.2" r="1.89" fill="url(#fg)"/><circle cx="162.3" cy="927.2" r="1.89" fill="url(#fg)"/><circle cx="194.2" cy="936.5" r="2.55" fill="url(#sgs)"/><circle cx="212.8" cy="949.8" r="1.89" fill="url(#fg)"/><circle cx="280.5" cy="890" r="5.80" fill="url(#sg)"/><circle cx="323.1" cy="894" r="5.80" fill="url(#sg)"/><circle cx="331.6" cy="933.8" r="6.52" fill="url(#sg)"/><circle cx="262.5" cy="972.4" r="3.92" fill="url(#sg)"/><circle cx="289.8" cy="904.6" r="2.75" fill="url(#sg)"/><circle cx="288.5" cy="925.9" r="2.75" fill="url(#sg)"/><circle cx="307.1" cy="894" r="2.55" fill="url(#sgs)"/><circle cx="303.1" cy="931.2" r="1.89" fill="url(#fg)"/><circle cx="280.5" cy="956.4" r="1.89" fill="url(#fg)"/><circle cx="307.1" cy="965.7" r="1.89" fill="url(#fg)"/><circle cx="333.7" cy="965.7" r="2.55" fill="url(#sgs)"/><circle cx="247.3" cy="928.5" r="2.55" fill="url(#sgs)"/>
<ellipse cx="95.5" cy="939.2" rx="31.5" ry="33.2" fill="url(#hatchR)" stroke="#e07070" stroke-width="0.6"/>
<ellipse cx="74.9" cy="959.8" rx="10.9" ry="12.6" fill="url(#hatchB)" stroke="#5050e0" stroke-width="0.8"/>
<path d="M193.4,824.3h4.6M195.7,822.0v4.6M208.9,858.8h4.6M211.2,856.5v4.6M121.3,825.1h4.6M123.6,822.8v4.6M234.4,835.5h4.6M236.7,833.2v4.6M238.1,793.7h4.6M240.4,791.4v4.6M154.9,787.2h4.6M157.2,784.9v4.6M200.8,902.3h4.6M203.1,900.0v4.6M215.1,881.1h4.6M217.4,878.8v4.6M179.8,877.1h4.6M182.1,874.8v4.6M131.6,812.7h4.6M133.9,810.4v4.6M229.4,874.3h4.6M231.7,872.0v4.6M186.3,783.9h4.6M188.6,781.6v4.6M159.8,801.2h4.6M162.1,798.9v4.6M162.3,886.1h4.6M164.6,883.8v4.6M179.0,841.1h4.6M181.3,838.8v4.6M118.3,831.6h4.6M120.6,829.3v4.6M216.2,788.6h4.6M218.5,786.3v4.6M213.1,898.3h4.6M215.4,896.0v4.6M128.5,847.9h4.6M130.8,845.6v4.6M199.1,901.9h4.6M201.4,899.6v4.6M186.0,827.8h4.6M188.3,825.5v4.6M223.4,784.7h4.6M225.7,782.4v4.6M213.3,795.9h4.6M215.6,793.6v4.6M218.3,907.2h4.6M220.6,904.9v4.6M123.5,850.1h4.6M125.8,847.8v4.6M217.8,792.6h4.6M220.1,790.3v4.6M234.8,906.2h4.6M237.1,903.9v4.6M154.7,858.0h4.6M157.0,855.7v4.6M121.6,823.3h4.6M123.9,821.0v4.6M229.4,855.1h4.6M231.7,852.8v4.6M173.6,893.9h4.6M175.9,891.6v4.6M214.0,835.4h4.6M216.3,833.1v4.6M250.8,818.0h4.6M253.1,815.7v4.6M188.3,801.7h4.6M190.6,799.4v4.6M190.1,817.4h4.6M192.4,815.1v4.6M129.5,860.6h4.6M131.8,858.3v4.6M252.2,841.9h4.6M254.5,839.6v4.6M235.5,806.6h4.6M237.8,804.3v4.6M240.3,831.7h4.6M242.6,829.4v4.6M182.8,824.3h4.6M185.1,822.0v4.6M261.1,823.8h4.6M263.4,821.5v4.6M228.3,795.7h4.6M230.6,793.4v4.6M258.3,808.1h4.6M260.6,805.8v4.6M282.7,857.4h4.6M285.0,855.1v4.6M149.9,826.5h4.6M152.2,824.2v4.6M218.7,908.4h4.6M221.0,906.1v4.6M174.8,791.4h4.6M177.1,789.1v4.6M210.3,790.9h4.6M212.6,788.6v4.6M129.1,850.2h4.6M131.4,847.9v4.6M191.4,871.2h4.6M193.7,868.9v4.6M244.8,825.7h4.6M247.1,823.4v4.6M236.5,880.8h4.6M238.8,878.5v4.6M264.6,841.5h4.6M266.9,839.2v4.6M204.6,796.0h4.6M206.9,793.7v4.6M221.8,783.4h4.6M224.1,781.1v4.6M247.5,802.9h4.6M249.8,800.6v4.6M192.3,850.7h4.6M194.6,848.4v4.6M180.6,796.0h4.6M182.9,793.7v4.6M196.6,905.5h4.6M198.9,903.2v4.6M205.7,904.8h4.6M208.0,902.5v4.6M266.1,848.6h4.6M268.4,846.3v4.6M203.7,847.5h4.6M206.0,845.2v4.6M224.1,848.3h4.6M226.4,846.0v4.6M165.6,874.1h4.6M167.9,871.8v4.6M233.8,835.7h4.6M236.1,833.4v4.6M198.0,861.7h4.6M200.3,859.4v4.6M178.0,895.9h4.6M180.3,893.6v4.6M153.8,888.1h4.6M156.1,885.8v4.6M238.9,860.0h4.6M241.2,857.7v4.6M216.2,858.3h4.6M218.5,856.0v4.6M230.1,829.1h4.6M232.4,826.8v4.6M126.1,798.2h4.6M128.4,795.9v4.6M218.1,797.1h4.6M220.4,794.8v4.6M125.4,821.7h4.6M127.7,819.4v4.6M194.6,847.3h4.6M196.9,845.0v4.6M171.3,882.4h4.6M173.6,880.1v4.6M215.1,909.8h4.6M217.4,907.5v4.6M132.4,820.9h4.6M134.7,818.6v4.6M153.8,882.0h4.6M156.1,879.7v4.6M147.1,802.8h4.6M149.4,800.5v4.6M133.2,788.5h4.6M135.5,786.2v4.6M177.9,876.4h4.6M180.2,874.1v4.6M194.1,845.4h4.6M196.4,843.1v4.6M177.4,861.4h4.6M179.7,859.1v4.6M154.6,807.8h4.6M156.9,805.5v4.6M202.7,799.4h4.6M205.0,797.1v4.6M189.3,905.2h4.6M191.6,902.9v4.6M157.2,892.1h4.6M159.5,889.8v4.6M217.7,802.7h4.6M220.0,800.4v4.6M124.3,810.4h4.6M126.6,808.1v4.6M165.5,884.8h4.6M167.8,882.5v4.6M168.5,806.5h4.6M170.8,804.2v4.6M217.5,841.1h4.6M219.8,838.8v4.6M173.5,890.0h4.6M175.8,887.7v4.6M182.4,801.0h4.6M184.7,798.7v4.6M161.5,836.9h4.6M163.8,834.6v4.6M218.5,852.0h4.6M220.8,849.7v4.6M189.4,797.8h4.6M191.7,795.5v4.6M183.0,817.5h4.6M185.3,815.2v4.6M143.4,848.5h4.6M145.7,846.2v4.6M146.5,872.3h4.6M148.8,870.0v4.6M226.8,790.9h4.6M229.1,788.6v4.6M221.1,819.3h4.6M223.4,817.0v4.6M190.6,857.4h4.6M192.9,855.1v4.6M244.4,896.6h4.6M246.7,894.3v4.6M239.6,801.4h4.6M241.9,799.1v4.6M206.8,819.0h4.6M209.1,816.7v4.6M194.7,894.3h4.6M197.0,892.0v4.6M169.6,889.5h4.6M171.9,887.2v4.6M202.1,785.5h4.6M204.4,783.2v4.6M236.7,811.8h4.6M239.0,809.5v4.6M205.4,781.6h4.6M207.7,779.3v4.6M142.2,785.0h4.6M144.5,782.7v4.6M225.2,827.5h4.6M227.5,825.2v4.6M266.0,843.2h4.6M268.3,840.9v4.6M137.3,869.2h4.6M139.6,866.9v4.6M175.6,809.7h4.6M177.9,807.4v4.6M169.0,826.0h4.6M171.3,823.7v4.6M145.4,858.2h4.6M147.7,855.9v4.6M262.6,852.3h4.6M264.9,850.0v4.6M117.7,839.3h4.6M120.0,837.0v4.6M262.1,867.4h4.6M264.4,865.1v4.6M269.4,878.4h4.6M271.7,876.1v4.6M160.9,791.8h4.6M163.2,789.5v4.6M191.4,867.8h4.6M193.7,865.5v4.6M153.9,818.3h4.6M156.2,816.0v4.6M242.1,820.7h4.6M244.4,818.4v4.6M216.9,848.7h4.6M219.2,846.4v4.6M146.1,881.7h4.6M148.4,879.4v4.6M228.6,785.1h4.6M230.9,782.8v4.6M137.3,801.3h4.6M139.6,799.0v4.6M207.0,899.3h4.6M209.3,897.0v4.6M151.3,800.2h4.6M153.6,797.9v4.6M231.4,831.4h4.6M233.7,829.1v4.6M274.2,872.8h4.6M276.5,870.5v4.6M199.0,780.1h4.6M201.3,777.8v4.6M252.3,827.9h4.6M254.6,825.6v4.6M193.5,861.0h4.6M195.8,858.7v4.6M278.9,850.2h4.6M281.2,847.9v4.6M128.8,821.7h4.6M131.1,819.4v4.6M266.0,880.2h4.6M268.3,877.9v4.6M205.0,903.6h4.6M207.3,901.3v4.6M206.5,866.4h4.6M208.8,864.1v4.6M213.5,799.8h4.6M215.8,797.5v4.6M256.4,811.6h4.6M258.7,809.3v4.6M136.4,813.6h4.6M138.7,811.3v4.6M120.4,828.9h4.6M122.7,826.6v4.6M247.4,835.8h4.6M249.7,833.5v4.6M143.8,791.8h4.6M146.1,789.5v4.6M212.4,799.7h4.6M214.7,797.4v4.6" stroke="#2f8a3a" stroke-width="1.2" fill="none" opacity="0.9"/>
<path d="M220.0,949.0 210.5,948.8 201.5,947.7 193.0,945.8 184.5,943.0 176.5,939.4 169.5,935.2 163.0,930.3 157.0,924.5 151.8,918.0 147.1,910.5 143.3,903.0 135.1,884.5 129.3,874.0 123.0,864.9 106.6,843.5 99.1,832.0 95.6,825.5 92.8,819.0 90.7,813.0 89.2,806.5 88.0,798.0 88.0,789.0 89.1,780.0 91.3,771.0 94.9,760.5 99.7,749.5 105.6,738.5 111.6,729.0 117.3,721.5 123.5,714.6 130.0,708.7 137.0,703.5 144.5,699.1 152.5,695.4 161.0,692.4 170.0,690.2 183.0,688.6 196.5,688.7 210.0,690.5 223.5,694.1 236.0,699.2 248.1,706.0 259.0,714.2 268.3,723.5 273.9,730.5 278.5,737.5 282.5,745.0 285.8,753.0 289.8,766.0 295.2,791.5 298.5,803.8 303.0,816.5 314.7,845.0 317.3,853.0 318.9,860.0 320.0,868.0 320.0,875.5 319.0,882.5 316.8,889.5 313.4,896.5 309.1,903.0 303.6,909.5 296.9,916.0 288.4,923.0 279.0,929.7 269.5,935.3 259.5,940.2 250.0,943.8 240.0,946.5 230.0,948.3ZM226.0,943.0 217.0,943.4 208.0,942.8 199.5,941.4 191.0,939.1 183.0,935.8 176.0,932.0 169.5,927.3 163.7,922.0 158.4,915.5 153.6,908.0 150.1,901.0 141.9,882.5 136.2,872.0 130.0,862.9 114.6,842.5 107.8,832.0 102.4,821.0 98.9,810.0 97.6,802.0 97.3,794.0 97.9,786.0 99.6,777.5 102.4,768.5 106.5,758.5 111.5,748.5 117.1,739.0 122.5,731.3 128.2,724.5 134.3,718.5 140.5,713.4 147.3,709.0 154.5,705.2 162.5,702.1 170.5,699.9 182.5,698.0 194.5,697.8 207.0,699.3 219.0,702.3 230.5,706.8 241.5,712.8 251.2,720.0 259.9,728.5 264.7,734.5 269.1,741.0 272.9,748.0 275.9,755.0 279.7,766.5 285.6,791.0 289.0,802.8 293.5,815.0 304.8,842.0 309.2,856.0 310.5,863.5 310.8,870.5 310.3,877.5 308.8,884.0 306.3,890.5 303.0,896.5 298.8,902.5 293.2,909.0 286.0,915.8 278.0,922.3 269.5,928.0 261.0,932.8 252.5,936.6 243.5,939.7 235.0,941.7ZM226.5,936.5 218.5,937.0 210.5,936.6 202.5,935.4 195.0,933.4 188.0,930.7 181.2,927.0 175.5,922.9 170.0,917.8 164.9,911.5 160.5,904.5 149.6,880.5 143.9,870.0 138.0,861.1 123.9,842.0 117.5,832.0 112.3,821.5 109.2,811.5 107.9,804.5 107.6,797.0 108.1,789.5 109.6,782.0 112.2,773.5 115.6,765.0 120.1,756.0 125.1,747.5 130.3,740.0 135.5,733.7 141.0,728.0 147.0,723.0 153.5,718.6 160.0,715.2 167.0,712.4 174.0,710.4 184.5,708.8 195.0,708.6 205.5,709.8 216.0,712.4 226.0,716.4 235.5,721.8 244.0,728.2 251.3,735.5 255.3,740.5 259.0,746.1 262.3,752.0 265.2,758.5 268.7,768.5 274.8,790.5 278.2,801.0 282.6,812.5 294.3,839.5 297.2,847.5 299.1,854.5 300.3,861.5 300.7,868.5 300.3,875.0 299.0,881.0 296.9,887.0 294.0,893.0 290.0,899.0 285.2,905.0 279.4,911.0 272.4,917.0 265.0,922.3 257.5,926.8 250.0,930.4 242.5,933.1 234.5,935.2ZM225.5,929.0 218.5,929.4 211.5,929.1 204.5,928.0 198.0,926.1 191.7,923.5 186.0,920.2 181.0,916.4 176.5,912.0 172.2,906.5 168.6,900.5 158.5,878.4 153.2,868.5 147.5,859.8 133.9,841.0 128.3,832.0 123.7,822.5 120.6,813.0 119.6,806.5 119.2,800.0 119.7,793.5 120.9,787.0 123.0,780.0 126.0,772.5 129.8,765.0 134.2,757.5 139.0,750.6 144.0,744.4 149.0,739.2 154.5,734.5 160.0,730.7 166.0,727.4 172.0,724.9 178.5,723.1 187.0,721.8 196.0,721.7 204.5,722.8 213.0,725.0 221.0,728.4 228.5,732.8 235.5,738.3 241.5,744.5 247.9,753.5 253.2,764.0 265.5,798.5 270.1,809.5 282.8,837.5 285.9,846.0 288.0,853.5 289.1,860.0 289.5,866.0 289.2,872.0 288.1,878.0 286.2,884.0 283.7,889.5 280.4,895.0 276.0,900.8 270.8,906.5 265.3,911.5 259.4,916.0 253.0,920.0 246.5,923.3 239.5,926.0 232.5,927.9ZM225.0,919.5 219.0,919.9 213.5,919.7 208.0,918.8 202.5,917.2 197.5,915.1 193.0,912.4 188.6,909.0 185.0,905.4 181.5,900.8 178.3,895.5 168.8,875.5 163.6,866.0 158.4,858.0 146.4,841.0 141.1,832.5 137.0,824.0 134.2,815.5 133.3,810.0 132.9,805.0 133.2,799.5 134.0,794.0 135.5,788.5 137.8,782.5 140.5,777.0 144.0,771.0 148.0,765.2 152.5,759.7 157.0,754.9 162.0,750.4 167.0,746.8 172.0,744.0 177.0,741.8 182.5,740.1 189.0,739.1 195.5,739.0 202.0,739.8 208.0,741.5 214.0,744.1 219.6,747.5 225.0,751.9 229.8,757.0 235.5,765.1 241.0,775.5 252.2,800.0 268.4,833.0 272.4,843.0 274.9,851.5 276.1,857.5 276.5,863.0 276.4,868.5 275.6,874.0 274.1,879.5 272.2,884.5 269.5,889.5 266.2,894.5 262.1,899.5 257.7,904.0 252.8,908.0 247.7,911.5 242.1,914.5 236.5,916.8 231.0,918.4ZM222.5,906.0 215.0,905.8 211.0,905.0 207.5,903.8 201.0,900.0 195.3,894.5 190.2,887.0 182.0,871.5 177.4,863.5 158.5,835.5 154.5,827.8 151.8,820.5 150.3,812.5 150.5,804.5 152.5,796.5 156.0,789.2 161.5,781.5 168.5,774.7 176.0,769.7 183.5,766.7 188.0,765.8 192.5,765.5 197.0,766.0 201.5,767.2 206.0,769.1 210.0,771.6 214.0,774.7 218.0,778.6 223.0,784.5 229.0,792.8 244.0,816.5 252.8,833.0 256.0,840.5 258.1,847.0 260.2,857.5 260.1,867.0 259.3,872.0 258.0,876.4 254.0,885.0 251.3,889.0 247.9,893.0 244.3,896.5 240.3,899.5 236.0,902.0 231.5,904.0 227.0,905.3ZM222.5,881.0 218.5,880.9 214.5,879.7 210.5,877.1 206.5,873.4 200.5,866.2 185.0,845.8 179.7,838.0 176.1,831.5 174.1,826.5 172.9,821.5 172.6,817.0 173.1,812.5 174.6,808.5 176.8,805.0 179.8,802.0 183.5,799.6 189.5,797.9 195.5,798.0 202.0,799.8 208.5,803.4 215.5,809.1 222.3,816.5 228.5,825.0 233.6,834.0 236.9,842.0 238.7,849.5 239.3,856.5 238.5,863.5 236.2,870.0 232.5,875.4 228.0,879.1 225.5,880.3Z" fill="none" stroke="#e44a4a" stroke-width="1" stroke-opacity="1" stroke-linejoin="round" />
<path d="M88.0,820.7 88.1,820.0 88.5,819.3 89.2,818.6 90.2,817.9 91.4,817.3 92.8,816.8 94.4,816.4 96.0,816.1 97.8,816.0 99.9,816.1 102.2,816.3 104.7,816.6 107.2,816.9 109.6,817.2 112.1,817.3 114.3,817.3 116.5,817.1 118.6,816.8 120.8,816.4 122.9,816.0 124.9,815.5 126.8,814.9 128.6,814.4 130.3,813.9 131.8,813.4 133.1,812.9 134.3,812.5 135.4,812.0 136.5,811.4 137.4,810.8 138.4,810.1 139.4,809.3 140.4,808.4 141.4,807.3 142.3,806.1 143.2,804.9 144.0,803.6 144.9,802.4 145.6,801.2 146.3,800.1 146.9,799.1 147.4,798.1 147.9,797.1 148.3,796.2 148.7,795.3 149.1,794.4 149.5,793.5 150.0,792.6 150.5,791.7 151.0,790.8 151.6,789.9 152.1,789.0 152.7,788.1 153.3,787.2 153.9,786.4 154.6,785.7 155.3,785.0 156.1,784.2 157.0,783.5 157.9,782.8 158.7,782.1 159.6,781.6 160.5,781.3 161.4,781.1 162.3,781.1 163.2,781.3 164.1,781.6 165.0,782.1 165.9,782.6 166.7,783.2 167.5,783.9 168.3,784.6 169.0,785.4 169.6,786.3 170.2,787.2 170.8,788.2 171.4,789.3 171.9,790.4 172.4,791.5 172.9,792.6 173.4,793.7 173.8,794.9 174.2,796.1 174.5,797.4 174.9,798.6 175.3,799.7 175.8,800.8 176.3,801.7 176.8,802.5 177.4,803.3 177.9,804.0 178.5,804.6 179.2,805.1 180.0,805.6 180.9,806.0 182.0,806.3 183.4,806.5 185.0,806.7 186.7,806.7 188.6,806.7 190.5,806.6 192.4,806.5 194.1,806.4 195.7,806.3 197.1,806.2 198.4,806.0 199.6,805.7 200.7,805.5 201.8,805.3 202.9,805.1 203.9,805.0 204.9,805.1 205.9,805.3 206.8,805.6 207.7,805.9 208.6,806.4 209.4,806.8 210.2,807.4 211.0,808.0 211.7,808.6 212.4,809.3 213.0,810.0 213.6,810.8 214.2,811.6 214.7,812.5 215.3,813.4 215.8,814.4 216.3,815.4 216.8,816.5 217.4,817.6 217.9,818.8 218.4,820.1 218.8,821.3 219.3,822.6 219.7,823.8 220.0,825.0 220.3,826.2 220.5,827.3 220.6,828.5 220.7,829.7 220.8,830.8 220.8,831.9 220.9,833.0 221.0,834.0 221.1,835.0 221.1,835.9 221.1,836.8 221.1,837.6 221.1,838.5 221.2,839.3 221.3,840.1 221.5,841.0 221.8,841.9 222.0,842.7 222.3,843.6 222.7,844.5 223.2,845.3 223.7,846.2 224.4,847.1 225.3,848.0 226.4,848.9 227.7,849.9 229.2,850.8 230.8,851.8 232.4,852.8 234.0,853.8 235.5,854.7 236.8,855.7 238.0,856.6 239.1,857.6 240.2,858.5 241.3,859.4 242.2,860.3 243.1,861.3 243.9,862.3 244.6,863.4 245.2,864.6 245.7,865.9 246.1,867.2 246.5,868.5 246.8,869.9 247.0,871.2 247.1,872.5 247.1,873.7 247.1,874.8 247.0,875.8 246.8,876.8 246.5,877.8 246.1,878.7 245.7,879.6 245.2,880.5 244.6,881.4 243.9,882.3 243.0,883.1 242.1,883.9 241.1,884.7 240.0,885.5 238.9,886.2 237.9,887.0 236.8,887.8 235.8,888.6 234.7,889.4 233.7,890.3 232.6,891.1 231.6,891.9 230.4,892.7 229.2,893.4 228.0,894.0 226.7,894.6 225.3,895.1 223.9,895.6 222.4,896.1 220.9,896.5 219.4,896.7 217.8,896.9 216.3,896.8 214.7,896.6 213.1,896.2 211.4,895.7 209.8,895.1 208.1,894.3 206.5,893.5 204.9,892.6 203.4,891.7 202.0,890.7 200.6,889.5 199.2,888.3 197.9,887.0 196.7,885.7 195.4,884.3 194.2,882.8 193.1,881.4 192.0,879.9 190.9,878.4 189.9,876.8 188.9,875.2 188.0,873.5 187.1,871.9 186.2,870.2 185.4,868.6 184.7,867.0 184.1,865.3 183.5,863.7 183.0,862.0 182.5,860.4 181.9,858.7 181.2,857.2 180.3,855.7 179.3,854.3 178.1,852.9 176.8,851.5 175.5,850.2 174.1,848.9 172.7,847.7 171.3,846.5 170.0,845.4 168.7,844.3 167.5,843.2 166.3,842.2 165.1,841.1 163.8,840.2 162.6,839.3 161.3,838.6 160.0,837.9 158.6,837.4 157.3,837.0 155.8,836.7 154.4,836.4 152.9,836.2 151.5,836.1 150.0,835.9 148.6,835.6 147.2,835.3 145.7,835.0 144.3,834.7 142.8,834.4 141.4,834.1 140.0,833.8 138.5,833.5 137.1,833.3 135.7,833.1 134.2,832.9 132.8,832.8 131.4,832.6 130.0,832.5 128.5,832.4 127.1,832.2 125.7,832.1 124.3,832.0 123.0,831.9 121.6,831.8 120.3,831.7 118.9,831.6 117.5,831.4 115.9,831.2 114.3,831.0 112.5,830.7 110.5,830.4 108.4,830.0 106.2,829.7 104.1,829.2 102.0,828.8 100.1,828.2 98.3,827.6 96.6,826.9 94.9,826.1 93.2,825.2 91.6,824.2 90.3,823.3 89.2,822.3 88.4,821.5ZM140.6,818.4 140.4,817.2 140.3,816.0 140.3,814.9 140.4,813.8 140.6,812.8 140.9,811.7 141.2,810.5 141.7,809.3 142.3,808.0 143.0,806.5 143.8,805.0 144.7,803.5 145.7,802.0 146.6,800.5 147.6,799.2 148.6,797.9 149.6,796.7 150.6,795.6 151.7,794.5 152.8,793.5 153.8,792.6 154.9,791.7 155.9,791.0 156.9,790.3 157.8,789.7 158.7,789.2 159.6,788.7 160.5,788.4 161.3,788.1 162.1,788.0 162.9,787.9 163.7,788.0 164.5,788.2 165.3,788.6 166.0,789.0 166.8,789.6 167.5,790.2 168.2,791.0 168.8,791.8 169.4,792.6 169.9,793.5 170.4,794.6 170.8,795.8 171.2,797.0 171.5,798.3 171.9,799.5 172.4,800.6 172.9,801.7 173.5,802.7 174.0,803.7 174.6,804.7 175.2,805.6 175.9,806.5 176.6,807.3 177.5,808.0 178.6,808.6 179.8,809.0 181.3,809.3 182.8,809.5 184.5,809.7 186.2,809.7 187.9,809.7 189.5,809.7 191.1,809.7 192.6,809.6 194.2,809.5 195.7,809.3 197.2,809.0 198.7,808.8 200.1,808.6 201.4,808.5 202.6,808.6 203.7,808.8 204.7,809.1 205.6,809.4 206.4,809.9 207.2,810.4 208.0,810.9 208.7,811.4 209.4,812.0 210.1,812.6 210.8,813.1 211.4,813.7 212.0,814.3 212.5,815.0 213.1,815.8 213.6,816.7 214.0,817.7 214.4,818.9 214.8,820.3 215.1,821.8 215.4,823.4 215.7,825.1 215.9,826.7 216.1,828.4 216.3,830.0 216.4,831.6 216.3,833.2 216.2,834.9 216.1,836.6 216.0,838.2 216.0,839.9 216.1,841.4 216.3,842.9 216.7,844.3 217.1,845.7 217.7,847.0 218.3,848.3 219.0,849.6 219.7,850.8 220.5,852.0 221.4,853.1 222.4,854.2 223.6,855.1 224.8,856.1 226.1,856.9 227.4,857.8 228.6,858.8 229.6,859.7 230.4,860.8 231.0,862.0 231.4,863.3 231.7,864.6 231.9,866.0 232.0,867.4 232.0,868.7 231.9,870.0 231.7,871.1 231.4,872.1 231.0,873.1 230.5,874.0 229.9,874.9 229.2,875.7 228.4,876.4 227.5,877.1 226.6,877.6 225.5,878.0 224.3,878.4 223.0,878.7 221.6,878.8 220.2,878.9 218.8,879.0 217.5,878.9 216.3,878.8 215.2,878.6 214.2,878.3 213.2,877.9 212.3,877.4 211.4,876.8 210.5,876.2 209.5,875.6 208.6,875.0 207.6,874.4 206.7,873.7 205.8,873.1 204.9,872.4 203.9,871.6 202.9,870.7 201.9,869.7 200.8,868.6 199.6,867.3 198.4,865.8 197.0,864.2 195.7,862.6 194.3,860.8 193.0,859.1 191.8,857.4 190.6,855.7 189.5,854.1 188.4,852.4 187.4,850.6 186.4,848.9 185.5,847.3 184.6,845.7 183.7,844.2 182.9,842.9 182.2,841.7 181.6,840.7 181.1,839.8 180.6,838.9 180.1,838.1 179.5,837.4 178.8,836.7 178.0,836.0 177.0,835.3 175.9,834.7 174.6,834.2 173.3,833.6 172.0,833.2 170.6,832.7 169.3,832.3 168.0,832.0 166.8,831.7 165.5,831.5 164.3,831.4 163.1,831.3 161.9,831.3 160.6,831.2 159.3,831.1 158.0,831.0 156.6,830.9 155.1,831.0 153.5,831.1 151.9,831.1 150.3,831.1 148.8,830.9 147.5,830.5 146.3,829.9 145.3,828.9 144.3,827.7 143.4,826.2 142.7,824.6 142.0,823.0 141.4,821.4 140.9,819.8ZM143.1,817.9 145.7,825.0 147.2,827.2 148.5,828.1 167.3,829.2 175.6,831.7 180.5,834.7 182.8,837.5 191.7,852.6 197.7,860.9 204.7,868.8 211.9,874.1 215.9,876.1 221.3,876.3 225.5,875.3 228.3,872.7 229.4,868.6 228.6,863.0 226.9,860.7 219.5,854.9 215.3,848.2 213.5,841.8 213.7,830.2 212.3,820.9 210.4,816.5 205.8,812.5 202.3,811.2 192.7,812.2 186.2,812.3 180.9,811.9 177.4,810.9 174.8,809.1 172.3,806.0 170.0,801.8 167.9,795.5 166.7,793.3 164.5,791.2 162.4,790.6 159.2,791.9 155.5,794.6 151.5,798.4 148.8,802.0 145.3,807.7 143.7,811.4 142.9,815.0Z" fill="none" stroke="#3535e8" stroke-width="0.9" stroke-opacity="1" stroke-linejoin="round" />
<path d="M217.5,826.5 217.4,828.7 217.0,830.8 216.3,832.8 215.4,834.8 214.2,836.5 212.8,838.2 211.2,839.6 209.5,840.8 207.6,841.7 205.6,842.4 203.6,842.9 201.5,843.0 199.4,842.9 197.4,842.4 195.4,841.7 193.5,840.8 191.8,839.6 190.2,838.2 188.8,836.5 187.6,834.8 186.7,832.8 186.0,830.8 185.6,828.7 185.5,826.5 185.6,824.3 186.0,822.2 186.7,820.2 187.6,818.2 188.8,816.5 190.2,814.8 191.8,813.4 193.5,812.2 195.4,811.3 197.4,810.6 199.4,810.1 201.5,810.0 203.6,810.1 205.6,810.6 207.6,811.3 209.5,812.2 211.2,813.4 212.8,814.8 214.2,816.5 215.4,818.2 216.3,820.2 217.0,822.2 217.4,824.3ZM215.0,825.7 214.9,827.3 214.6,828.9 214.0,830.5 213.3,832.0 212.4,833.3 211.3,834.5 210.1,835.6 208.8,836.5 207.3,837.2 205.7,837.8 204.1,838.1 202.5,838.2 200.9,838.1 199.3,837.8 197.7,837.2 196.2,836.5 194.9,835.6 193.7,834.5 192.6,833.3 191.7,832.0 191.0,830.5 190.4,828.9 190.1,827.3 190.0,825.7 190.1,824.1 190.4,822.5 191.0,820.9 191.7,819.5 192.6,818.1 193.7,816.9 194.9,815.8 196.2,814.9 197.7,814.2 199.3,813.6 200.9,813.3 202.5,813.2 204.1,813.3 205.7,813.6 207.3,814.2 208.8,814.9 210.1,815.8 211.3,816.9 212.4,818.1 213.3,819.5 214.0,820.9 214.6,822.5 214.9,824.1ZM250.3,864.3 250.2,865.1 250.1,865.9 249.8,866.6 249.5,867.3 249.1,868.0 248.5,868.5 248.0,869.1 247.3,869.5 246.6,869.8 245.9,870.1 245.1,870.2 244.3,870.3 243.5,870.2 242.7,870.1 242.0,869.8 241.3,869.5 240.6,869.1 240.1,868.5 239.5,868.0 239.1,867.3 238.8,866.6 238.5,865.9 238.4,865.1 238.3,864.3 238.4,863.5 238.5,862.7 238.8,862.0 239.1,861.3 239.5,860.6 240.1,860.1 240.6,859.5 241.3,859.1 242.0,858.8 242.7,858.5 243.5,858.4 244.3,858.3 245.1,858.4 245.9,858.5 246.6,858.8 247.3,859.1 248.0,859.5 248.5,860.1 249.1,860.6 249.5,861.3 249.8,862.0 250.1,862.7 250.2,863.5ZM247.2,790.0 247.1,790.9 246.9,791.8 246.5,792.7 246.0,793.5 245.4,794.3 244.7,794.9 243.8,795.6 242.9,796.1 241.9,796.5 240.8,796.8 239.7,796.9 238.6,797.0 237.5,796.9 236.4,796.8 235.3,796.5 234.3,796.1 233.4,795.6 232.5,794.9 231.8,794.3 231.2,793.5 230.7,792.7 230.3,791.8 230.1,790.9 230.0,790.0 230.1,789.1 230.3,788.2 230.7,787.3 231.2,786.5 231.8,785.7 232.5,785.1 233.4,784.4 234.3,783.9 235.3,783.5 236.4,783.2 237.5,783.1 238.6,783.0 239.7,783.1 240.8,783.2 241.9,783.5 242.9,783.9 243.8,784.4 244.7,785.1 245.4,785.7 246.0,786.5 246.5,787.3 246.9,788.2 247.1,789.1ZM98.2,868.0 98.1,869.8 97.8,871.5 97.4,873.2 96.7,874.8 95.9,876.2 95.0,877.5 93.9,878.7 92.7,879.7 91.4,880.5 90.0,881.0 88.6,881.4 87.2,881.5 85.8,881.4 84.4,881.0 83.0,880.5 81.7,879.7 80.5,878.7 79.4,877.5 78.5,876.2 77.7,874.8 77.0,873.2 76.6,871.5 76.3,869.8 76.2,868.0 76.3,866.2 76.6,864.5 77.0,862.8 77.7,861.2 78.5,859.8 79.4,858.5 80.5,857.3 81.7,856.3 83.0,855.5 84.4,855.0 85.8,854.6 87.2,854.5 88.6,854.6 90.0,855.0 91.4,855.5 92.7,856.3 93.9,857.3 95.0,858.5 95.9,859.8 96.7,861.2 97.4,862.8 97.8,864.5 98.1,866.2ZM190.7,961.7 190.6,963.1 190.4,964.4 190.1,965.8 189.6,967.0 188.9,968.2 188.2,969.2 187.4,970.1 186.4,970.9 185.5,971.5 184.4,971.9 183.3,972.2 182.2,972.3 181.1,972.2 180.0,971.9 178.9,971.5 177.9,970.9 177.0,970.1 176.2,969.2 175.5,968.2 174.8,967.0 174.3,965.8 174.0,964.4 173.8,963.1 173.7,961.7 173.8,960.3 174.0,959.0 174.3,957.6 174.8,956.4 175.5,955.2 176.2,954.2 177.0,953.3 177.9,952.5 178.9,951.9 180.0,951.5 181.1,951.2 182.2,951.1 183.3,951.2 184.4,951.5 185.5,951.9 186.4,952.5 187.4,953.3 188.2,954.2 188.9,955.2 189.6,956.4 190.1,957.6 190.4,959.0 190.6,960.3ZM73.0,821.5 73.0,822.0 72.8,822.4 72.7,822.8 72.4,823.2 72.1,823.6 71.7,824.0 71.2,824.3 70.8,824.5 70.2,824.7 69.7,824.9 69.1,825.0 68.5,825.0 67.9,825.0 67.3,824.9 66.8,824.7 66.2,824.5 65.8,824.3 65.3,824.0 64.9,823.6 64.6,823.2 64.3,822.8 64.2,822.4 64.0,822.0 64.0,821.5 64.0,821.0 64.2,820.6 64.3,820.2 64.6,819.8 64.9,819.4 65.3,819.0 65.8,818.7 66.2,818.5 66.8,818.3 67.3,818.1 67.9,818.0 68.5,818.0 69.1,818.0 69.7,818.1 70.2,818.3 70.8,818.5 71.2,818.7 71.7,819.0 72.1,819.4 72.4,819.8 72.7,820.2 72.8,820.6 73.0,821.0Z" fill="none" stroke="#3535e8" stroke-width="0.9" stroke-opacity="1" stroke-linejoin="round" />
<path d="M159.8,808.6l5.0,5.0M159.8,813.6l5.0,-5.0M197.8,827.2l5.0,5.0M197.8,832.2l5.0,-5.0M212.2,868.9l5.0,5.0M212.2,873.9l5.0,-5.0M235.5,786.5l5.0,5.0M235.5,791.5l5.0,-5.0M83.8,868.6l5.6,5.6M83.8,874.2l5.6,-5.6M179.4,958.9l5.6,5.6M179.4,964.5l5.6,-5.6" stroke="#3535e8" stroke-width="1" fill="none"/>
<rect x="199.3" y="821.6" width="5.8" height="5.8" transform="rotate(45 202.2 824.5)" fill="#d040c0" stroke="#c030b0" stroke-width="0.6"/>
<path d="M199.2,824.5h6M202.2,821.5v6" stroke="#fff" stroke-width="1.1"/>
<circle cx="198.2" cy="838.2" r="4" fill="none" stroke="#7a2a8a" stroke-width="1"/>
<rect x="226.5" y="859.3" width="3" height="3" fill="none" stroke="#e44a4a" stroke-width="0.8"/>
<rect x="172.5" y="785.2" width="3.2" height="3.2" fill="none" stroke="#e44a4a" stroke-width="0.8"/>
</g></g>
<rect x="60.5" y="700.5" width="276" height="276" fill="none" stroke="#9a9a9a" stroke-width="0.6"/>
<path d="M56.1,289v1.6M67.2,289v1.6M78.2,289v1.6M89.2,289v1.6M100.2,289v1.6M111.2,289v1.6M122.3,289v1.6M133.3,289v1.6M144.3,289v1.6M155.3,289v1.6M166.3,289v1.6M177.4,289v1.6M188.4,289v1.6M199.4,289v1.6M210.4,289v1.6M221.4,289v1.6M232.5,289v1.6M243.5,289v1.6M254.5,289v1.6M265.5,289v1.6M276.5,289v1.6M287.6,289v1.6M298.6,289v1.6M309.6,289v1.6M320.6,289v1.6M331.6,289v1.6M56,11.9h-1.6M56,23.0h-1.6M56,34.1h-1.6M56,45.2h-1.6M56,56.3h-1.6M56,67.4h-1.6M56,78.5h-1.6M56,89.6h-1.6M56,100.7h-1.6M56,111.8h-1.6M56,122.9h-1.6M56,134.0h-1.6M56,145.1h-1.6M56,156.2h-1.6M56,167.3h-1.6M56,178.4h-1.6M56,189.5h-1.6M56,200.6h-1.6M56,211.7h-1.6M56,222.8h-1.6M56,233.9h-1.6M56,245.0h-1.6M56,256.1h-1.6M56,267.2h-1.6M56,278.3h-1.6M63.3,633v1.6M76.8,633v1.6M90.3,633v1.6M103.8,633v1.6M117.2,633v1.6M130.7,633v1.6M144.2,633v1.6M157.7,633v1.6M171.2,633v1.6M184.6,633v1.6M198.1,633v1.6M211.6,633v1.6M225.1,633v1.6M238.6,633v1.6M252.0,633v1.6M265.5,633v1.6M279.0,633v1.6M292.5,633v1.6M306.0,633v1.6M319.4,633v1.6M332.9,633v1.6M62,366.6h-1.6M62,380.5h-1.6M62,394.4h-1.6M62,408.3h-1.6M62,422.2h-1.6M62,436.1h-1.6M62,450.0h-1.6M62,463.9h-1.6M62,477.8h-1.6M62,491.7h-1.6M62,505.6h-1.6M62,519.5h-1.6M62,533.4h-1.6M62,547.3h-1.6M62,561.2h-1.6M62,575.1h-1.6M62,589.0h-1.6M62,602.9h-1.6M62,616.8h-1.6M62,630.7h-1.6M62.6,977v1.6M73.9,977v1.6M85.3,977v1.6M96.7,977v1.6M108.0,977v1.6M119.4,977v1.6M130.7,977v1.6M142.1,977v1.6M153.5,977v1.6M164.8,977v1.6M176.2,977v1.6M187.5,977v1.6M198.9,977v1.6M210.3,977v1.6M221.6,977v1.6M233.0,977v1.6M244.3,977v1.6M255.7,977v1.6M267.1,977v1.6M278.4,977v1.6M289.8,977v1.6M301.1,977v1.6M312.5,977v1.6M323.9,977v1.6M335.2,977v1.6M60,709.6h-1.6M60,720.7h-1.6M60,731.8h-1.6M60,742.9h-1.6M60,754.0h-1.6M60,765.1h-1.6M60,776.2h-1.6M60,787.3h-1.6M60,798.4h-1.6M60,809.5h-1.6M60,820.6h-1.6M60,831.7h-1.6M60,842.8h-1.6M60,853.9h-1.6M60,865.0h-1.6M60,876.1h-1.6M60,887.2h-1.6M60,898.3h-1.6M60,909.4h-1.6M60,920.5h-1.6M60,931.6h-1.6M60,942.7h-1.6M60,953.8h-1.6M60,964.9h-1.6M60,976.0h-1.6" stroke="#999" stroke-width="0.6" fill="none"/>
<text x="0.3" y="9.3" font-size="13" fill="#222" textLength="14.6" lengthAdjust="spacingAndGlyphs">(a)</text>
<text x="0.3" y="350.6" font-size="13" fill="#222" textLength="15" lengthAdjust="spacingAndGlyphs">(b)</text>
<text x="0.3" y="701.6" font-size="13" fill="#222" textLength="14.6" lengthAdjust="spacingAndGlyphs">(c)</text>
<text x="54" y="27.45" font-size="13.5" text-anchor="end" fill="#3c3c3c" textLength="38.800000000000004" lengthAdjust="spacingAndGlyphs" >−5°18′</text>
<text x="54" y="82.95" font-size="13.5" text-anchor="end" fill="#3c3c3c" textLength="18.3" lengthAdjust="spacingAndGlyphs" >21′</text>
<text x="54" y="138.45" font-size="13.5" text-anchor="end" fill="#3c3c3c" textLength="18.3" lengthAdjust="spacingAndGlyphs" >24′</text>
<text x="54" y="193.85" font-size="13.5" text-anchor="end" fill="#3c3c3c" textLength="18.3" lengthAdjust="spacingAndGlyphs" >27′</text>
<text x="54" y="249.45" font-size="13.5" text-anchor="end" fill="#3c3c3c" textLength="18.3" lengthAdjust="spacingAndGlyphs" >30′</text>
<text x="60" y="398.84999999999997" font-size="13.5" text-anchor="end" fill="#3c3c3c" textLength="18.3" lengthAdjust="spacingAndGlyphs" >20′</text>
<text x="60" y="454.45" font-size="13.5" text-anchor="end" fill="#3c3c3c" textLength="18.3" lengthAdjust="spacingAndGlyphs" >18′</text>
<text x="60" y="510.05" font-size="13.5" text-anchor="end" fill="#3c3c3c" textLength="18.3" lengthAdjust="spacingAndGlyphs" >16′</text>
<text x="60" y="565.6500000000001" font-size="13.5" text-anchor="end" fill="#3c3c3c" textLength="18.3" lengthAdjust="spacingAndGlyphs" >14′</text>
<text x="60" y="621.45" font-size="13.5" text-anchor="end" fill="#3c3c3c" textLength="46.9" lengthAdjust="spacingAndGlyphs" >+12°12′</text>
<text x="58" y="736.25" font-size="13.5" text-anchor="end" fill="#3c3c3c" textLength="45.1" lengthAdjust="spacingAndGlyphs" >−56°34′</text>
<text x="58" y="791.85" font-size="13.5" text-anchor="end" fill="#3c3c3c" textLength="18.3" lengthAdjust="spacingAndGlyphs" >36′</text>
<text x="58" y="847.45" font-size="13.5" text-anchor="end" fill="#3c3c3c" textLength="18.3" lengthAdjust="spacingAndGlyphs" >38′</text>
<text x="58" y="902.85" font-size="13.5" text-anchor="end" fill="#3c3c3c" textLength="18.3" lengthAdjust="spacingAndGlyphs" >40′</text>
<text x="58" y="958.45" font-size="13.5" text-anchor="end" fill="#3c3c3c" textLength="18.3" lengthAdjust="spacingAndGlyphs" >42′</text>
<text x="0" y="0" font-size="13.5" text-anchor="middle" fill="#3c3c3c" textLength="73.8" lengthAdjust="spacingAndGlyphs" transform="translate(12.3,147.4) rotate(-90)">Dec. (J2000)</text>
<text x="0" y="0" font-size="13.5" text-anchor="middle" fill="#3c3c3c" textLength="71.6" lengthAdjust="spacingAndGlyphs" transform="translate(12.3,488.5) rotate(-90)">Dec. (J2000)</text>
<text x="0" y="0" font-size="13.5" text-anchor="middle" fill="#3c3c3c" textLength="74.20000000000002" lengthAdjust="spacingAndGlyphs" transform="translate(12.3,834.2) rotate(-90)">Dec. (J2000)</text>
<text x="66.60000000000001" y="306.2" font-size="13.5" text-anchor="start" fill="#3c3c3c" textLength="45.1" lengthAdjust="spacingAndGlyphs" >42<tspan dy="-4.6" font-size="9.5">m</tspan><tspan dy="4.6"> </tspan>00<tspan dy="-4.6" font-size="9.5">s</tspan><tspan dy="4.6"> </tspan></text>
<text x="135.7" y="306.2" font-size="13.5" text-anchor="start" fill="#3c3c3c" textLength="18.6" lengthAdjust="spacingAndGlyphs" >48<tspan dy="-4.6" font-size="9.5">s</tspan><tspan dy="4.6"> </tspan></text>
<text x="189.39999999999998" y="306.2" font-size="13.5" text-anchor="start" fill="#3c3c3c" textLength="19.900000000000013" lengthAdjust="spacingAndGlyphs" >36<tspan dy="-4.6" font-size="9.5">s</tspan><tspan dy="4.6"> </tspan></text>
<text x="245.29999999999998" y="306.2" font-size="13.5" text-anchor="start" fill="#3c3c3c" textLength="18.500000000000007" lengthAdjust="spacingAndGlyphs" >24<tspan dy="-4.6" font-size="9.5">s</tspan><tspan dy="4.6"> </tspan></text>
<text x="275.4" y="306.2" font-size="13.5" text-anchor="start" fill="#3c3c3c" textLength="67.6" lengthAdjust="spacingAndGlyphs" >17<tspan dy="-4.6" font-size="9.5">h</tspan><tspan dy="4.6"> </tspan>41<tspan dy="-4.6" font-size="9.5">m</tspan><tspan dy="4.6"> </tspan>12<tspan dy="-4.6" font-size="9.5">s</tspan><tspan dy="4.6"> </tspan></text>
<text x="54.0" y="649.3" font-size="13.5" text-anchor="start" fill="#3c3c3c" textLength="45.6" lengthAdjust="spacingAndGlyphs" >23<tspan dy="-4.6" font-size="9.5">m</tspan><tspan dy="4.6"> </tspan>00<tspan dy="-4.6" font-size="9.5">s</tspan><tspan dy="4.6"> </tspan></text>
<text x="133.29999999999998" y="649.3" font-size="13.5" text-anchor="start" fill="#3c3c3c" textLength="19.900000000000013" lengthAdjust="spacingAndGlyphs" >50<tspan dy="-4.6" font-size="9.5">s</tspan><tspan dy="4.6"> </tspan></text>
<text x="201.1" y="649.3" font-size="13.5" text-anchor="start" fill="#3c3c3c" textLength="21.199999999999996" lengthAdjust="spacingAndGlyphs" >40<tspan dy="-4.6" font-size="9.5">s</tspan><tspan dy="4.6"> </tspan></text>
<text x="244.6" y="649.3" font-size="13.5" text-anchor="start" fill="#3c3c3c" textLength="69.09999999999997" lengthAdjust="spacingAndGlyphs" >18<tspan dy="-4.6" font-size="9.5">h</tspan><tspan dy="4.6"> </tspan>22<tspan dy="-4.6" font-size="9.5">m</tspan><tspan dy="4.6"> </tspan>30<tspan dy="-4.6" font-size="9.5">s</tspan><tspan dy="4.6"> </tspan></text>
<text x="75.4" y="993.6" font-size="13.5" text-anchor="start" fill="#3c3c3c" textLength="19.9" lengthAdjust="spacingAndGlyphs" >30<tspan dy="-4.6" font-size="9.5">s</tspan><tspan dy="4.6"> </tspan></text>
<text x="132.0" y="993.6" font-size="13.5" text-anchor="start" fill="#3c3c3c" textLength="21.199999999999996" lengthAdjust="spacingAndGlyphs" >15<tspan dy="-4.6" font-size="9.5">s</tspan><tspan dy="4.6"> </tspan></text>
<text x="176.89999999999998" y="993.6" font-size="13.5" text-anchor="start" fill="#3c3c3c" textLength="46.1" lengthAdjust="spacingAndGlyphs" >44<tspan dy="-4.6" font-size="9.5">m</tspan><tspan dy="4.6"> </tspan>00<tspan dy="-4.6" font-size="9.5">s</tspan><tspan dy="4.6"> </tspan></text>
<text x="247.6" y="993.6" font-size="13.5" text-anchor="start" fill="#3c3c3c" textLength="19.399999999999984" lengthAdjust="spacingAndGlyphs" >45<tspan dy="-4.6" font-size="9.5">s</tspan><tspan dy="4.6"> </tspan></text>
<text x="280.59999999999997" y="993.6" font-size="13.5" text-anchor="start" fill="#3c3c3c" textLength="63.500000000000036" lengthAdjust="spacingAndGlyphs" >21<tspan dy="-4.6" font-size="9.5">h</tspan><tspan dy="4.6"> </tspan>43<tspan dy="-4.6" font-size="9.5">m</tspan><tspan dy="4.6"> </tspan>30<tspan dy="-4.6" font-size="9.5">s</tspan><tspan dy="4.6"> </tspan></text>
<text x="162.0" y="322.6" font-size="13.5" text-anchor="start" fill="#3c3c3c" textLength="67.29999999999998" lengthAdjust="spacingAndGlyphs" >RA (J2000)</text>
<text x="167.6" y="666.4" font-size="13.5" text-anchor="start" fill="#3c3c3c" textLength="68.39999999999998" lengthAdjust="spacingAndGlyphs" >RA (J2000)</text>
<text x="165.39999999999998" y="1011.4" font-size="13.5" text-anchor="start" fill="#3c3c3c" textLength="68.4" lengthAdjust="spacingAndGlyphs" >RA (J2000)</text>
</svg></body></html>
